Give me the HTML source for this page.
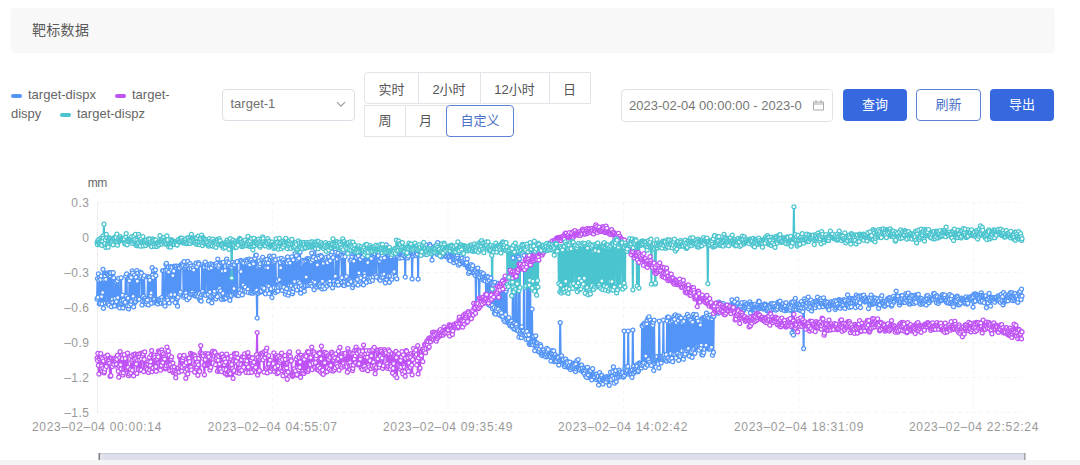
<!DOCTYPE html>
<html lang="zh-CN">
<head>
<meta charset="utf-8">
<title>靶标数据</title>
<style>
*{box-sizing:border-box;margin:0;padding:0}
html,body{width:1080px;height:465px;overflow:hidden;background:#fff}
body{position:relative;font-family:"Liberation Sans","Noto Sans CJK SC",sans-serif;color:#606266}
.abs{position:absolute}
.hdr{left:11px;top:8px;width:1044px;height:45px;background:#f8f8f8;border-radius:4px}
.hdr span{position:absolute;left:21px;top:12px;font-size:14px;line-height:20px;color:#5a5a5a;letter-spacing:0.3px}
.lg{font-size:13px;line-height:19px;color:#666;white-space:nowrap}
.dash{width:11px;height:4px;border-radius:2px}
.sel{left:222px;top:89px;width:133px;height:32px;border:1px solid #dcdfe6;border-radius:4px;background:#fff}
.sel span{position:absolute;left:7.5px;top:5px;font-size:13px;line-height:18px;color:#707070}
.rb{height:32px;border:1px solid #e2e4e9;background:transparent;font-size:13px;color:#555;text-align:center;line-height:30px;white-space:nowrap}
.r1{padding-top:2px}
.on{border-color:#5b84d6;color:#4a72c8;border-radius:4px;z-index:2}
.dp{left:621px;top:89px;width:212px;height:33px;border:1px solid #e0e2e7;border-radius:4px;background:#fff;overflow:hidden}
.dp span{position:absolute;left:7px;top:7px;font-size:13px;line-height:18px;color:#767676;white-space:nowrap}
.btn{top:89px;width:64px;height:32px;border-radius:4px;font-size:13px;text-align:center;line-height:32px}
.pri{background:#3669df;color:#fff}
.pln{background:#fff;border:1px solid #5b82d6;color:#4a72c8;line-height:30px}
.ax{font-size:12px;fill:#999;font-family:"Liberation Sans",sans-serif}
</style>
</head>
<body>
<div class="abs hdr"><span>靶标数据</span></div>

<div class="abs dash" style="left:11px;top:94px;background:#5394f7"></div>
<div class="abs lg" style="left:28px;top:85px">target-dispx</div>
<div class="abs dash" style="left:115px;top:94px;background:#bf52f5"></div>
<div class="abs lg" style="left:132px;top:85px">target-</div>
<div class="abs lg" style="left:11px;top:104px">dispy</div>
<div class="abs dash" style="left:60px;top:113px;background:#4ac4ce"></div>
<div class="abs lg" style="left:77px;top:104px">target-dispz</div>

<div class="abs sel"><span>target-1</span>
<svg class="abs" style="left:113px;top:11.3px" width="10" height="7" viewBox="0 0 10 7"><path d="M1 1.2 L5 5.2 L9 1.2" fill="none" stroke="#999" stroke-width="1.2"/></svg>
</div>

<div class="abs rb r1" style="left:364px;top:72px;width:55px;border-radius:4px 0 0 4px">实时</div>
<div class="abs rb r1" style="left:418px;top:72px;width:63px;border-left:none">2小时</div>
<div class="abs rb r1" style="left:480px;top:72px;width:70px;border-left:none">12小时</div>
<div class="abs rb r1" style="left:549px;top:72px;width:42px;border-left:none">日</div>
<div class="abs rb" style="left:364px;top:105px;width:42px">周</div>
<div class="abs rb" style="left:405px;top:105px;width:42px;border-left:none">月</div>
<div class="abs rb on" style="left:446px;top:105px;width:68px">自定义</div>

<div class="abs dp"><span>2023-02-04 00:00:00 - 2023-02-04 23:59:59</span>
<div class="abs" style="left:180px;top:0;width:30px;height:31px;background:#fff"></div>
<svg class="abs" style="left:190px;top:9px" width="13" height="13" viewBox="0 0 13 13"><path d="M1.5 3 H11.5 V11 H1.5 Z M1.5 5 H11.5 M4 1 V4 M9 1 V4" fill="none" stroke="#aaa" stroke-width="1"/></svg>
</div>

<div class="abs btn pri" style="left:843px">查询</div>
<div class="abs btn pln" style="left:916px;width:65px">刷新</div>
<div class="abs btn pri" style="left:990px">导出</div>

<svg class="abs" style="left:0;top:0" width="1080" height="465" viewBox="0 0 1080 465">
<g stroke="#f5f5f6" stroke-width="1" stroke-dasharray="4 3" fill="none">
<path d="M97 202.5H1022M97 237.5H1022M97 272.5H1022M97 307.5H1022M97 342.5H1022M97 377.5H1022M97 412.5H1022"/>
<path d="M272.5 202V412M448 202V412M623.5 202V412M798.5 202V412M973.5 202V412"/>
</g>
<path d="M97.5 202V413" stroke="#efeff1" stroke-width="1"/>
<text class="ax" x="87.8" y="187.3" style="fill:#666;font-size:12px;letter-spacing:-0.6px">mm</text>
<g class="ax" text-anchor="end" style="letter-spacing:0.5px">
<text x="89.5" y="206.8">0.3</text>
<text x="89.5" y="241.8">0</text>
<text x="89.5" y="276.8">–0.3</text>
<text x="89.5" y="311.8">–0.6</text>
<text x="89.5" y="346.8">–0.9</text>
<text x="89.5" y="381.8">–1.2</text>
<text x="89.5" y="416.8">–1.5</text>
</g>
<g class="ax" text-anchor="middle" style="letter-spacing:0.7px">
<text x="97" y="430.5">2023–02–04 00:00:14</text>
<text x="272.7" y="430.5">2023–02–04 04:55:07</text>
<text x="448" y="430.5">2023–02–04 09:35:49</text>
<text x="623" y="430.5">2023–02–04 14:02:42</text>
<text x="799" y="430.5">2023–02–04 18:31:09</text>
<text x="974" y="430.5">2023–02–04 22:52:24</text>
</g>
<defs><marker id="m0" markerUnits="userSpaceOnUse" markerWidth="8" markerHeight="8" refX="4" refY="4" overflow="visible"><circle cx="4" cy="4" r="2.0" fill="#fff" stroke="#5394f7" stroke-width="1.25"/></marker><marker id="m1" markerUnits="userSpaceOnUse" markerWidth="8" markerHeight="8" refX="4" refY="4" overflow="visible"><circle cx="4" cy="4" r="2.0" fill="#fff" stroke="#bf52f5" stroke-width="1.25"/></marker><marker id="m2" markerUnits="userSpaceOnUse" markerWidth="8" markerHeight="8" refX="4" refY="4" overflow="visible"><circle cx="4" cy="4" r="2.0" fill="#fff" stroke="#4ac4ce" stroke-width="1.25"/></marker></defs><polyline fill="none" stroke="#5394f7" stroke-width="2" stroke-linejoin="bevel" points="97.0,299.1 97.5,278.7 97.9,297.4 98.4,273.8 98.9,280.3 99.3,303.9 99.8,277.0 100.2,303.5 100.7,279.6 101.2,276.0 101.6,296.5 102.1,303.8 102.6,292.6 103.0,269.4 103.5,308.3 103.9,279.5 104.4,274.6 104.9,275.9 105.3,303.1 105.8,279.4 106.3,273.5 106.7,273.2 107.2,274.0 107.6,303.2 108.1,303.6 108.6,274.7 109.0,305.2 109.5,272.7 110.0,275.8 110.4,273.7 110.9,272.7 111.3,306.7 111.8,301.5 112.3,299.1 112.7,302.6 113.2,272.7 113.7,277.9 114.1,305.3 114.6,305.9 115.0,298.8 115.5,301.9 116.0,281.9 116.4,301.6 116.9,280.0 117.4,280.9 117.8,297.6 118.3,306.3 118.7,278.3 119.2,305.1 119.7,307.9 120.1,303.7 120.6,302.4 121.1,277.8 121.5,300.9 122.0,303.7 122.5,295.2 122.9,307.9 123.4,300.2 123.8,303.8 124.3,303.0 124.8,302.3 125.2,302.3 125.7,276.0 126.2,296.3 126.6,273.9 127.1,305.8 127.5,298.3 128.0,298.2 128.5,308.9 128.9,305.8 129.4,280.8 129.9,275.6 130.3,276.5 130.8,304.2 131.2,277.5 131.7,301.3 132.2,270.8 132.6,273.2 133.1,296.4 133.6,306.8 134.0,300.1 134.5,275.0 134.9,302.4 135.4,301.4 135.9,277.2 136.3,299.2 136.8,270.5 137.3,281.2 137.7,273.1 138.2,299.6 138.6,298.5 139.1,299.3 139.6,275.5 140.0,277.8 140.5,272.0 141.0,276.3 141.4,273.2 141.9,305.0 142.3,296.8 142.8,301.3 143.3,277.6 143.7,296.3 144.2,275.7 144.7,301.3 145.1,298.1 145.6,300.1 146.0,304.1 146.5,301.6 147.0,299.3 147.4,300.0 147.9,276.7 148.4,304.9 148.8,277.8 149.3,277.6 149.8,280.2 150.2,295.4 150.7,295.7 151.1,292.9 151.6,303.3 152.1,267.7 152.5,275.0 153.0,277.5 153.5,270.6 153.9,298.1 154.4,299.4 154.8,302.7 155.3,269.9 155.8,275.5 156.2,302.3 156.7,300.6 157.2,300.6 157.6,303.9 158.1,300.8 158.5,300.0 159.0,299.1 159.5,302.0 159.9,299.2 160.4,302.0 160.9,300.2 161.3,303.3 161.8,297.5 162.2,300.0 162.7,270.7 163.2,270.6 163.6,303.4 164.1,300.9 164.6,302.6 165.0,306.0 165.5,270.7 165.9,264.6 166.4,263.3 166.9,270.1 167.3,298.0 167.8,300.2 168.3,267.3 168.7,272.0 169.2,303.1 169.6,295.3 170.1,268.6 170.6,266.7 171.0,294.6 171.5,269.7 172.0,267.2 172.4,300.2 172.9,275.5 173.4,271.8 173.8,271.0 174.3,266.2 174.7,294.6 175.2,302.6 175.7,266.4 176.1,267.5 176.6,266.1 177.1,298.6 177.5,306.2 178.0,297.2 178.4,266.3 178.9,267.9 179.4,268.1 179.8,294.1 180.3,292.1 180.8,265.2 181.2,266.4 181.7,264.5 182.1,263.8 182.6,264.0 183.1,265.7 183.5,297.2 184.0,261.6 184.5,295.7 184.9,267.9 185.4,266.4 185.8,292.9 186.3,296.1 186.8,266.6 187.2,299.7 187.7,261.4 188.2,268.8 188.6,265.1 189.1,297.7 189.5,268.7 190.0,263.7 190.5,294.2 190.9,266.1 191.4,268.7 191.9,294.9 192.3,292.0 192.8,294.3 193.2,267.5 193.7,270.0 194.2,294.8 194.6,265.1 195.1,295.8 195.6,295.9 196.0,263.1 196.5,294.8 196.9,266.7 197.4,296.5 197.9,296.1 198.3,262.7 198.8,264.2 199.3,293.6 199.7,299.3 200.2,300.6 200.7,296.9 201.1,301.0 201.6,294.8 202.0,264.8 202.5,291.4 203.0,266.4 203.4,294.1 203.9,265.9 204.4,267.2 204.8,294.7 205.3,262.0 205.7,295.3 206.2,265.3 206.7,265.6 207.1,267.6 207.6,264.7 208.1,294.4 208.5,300.9 209.0,268.8 209.4,265.0 209.9,292.0 210.4,263.9 210.8,296.3 211.3,267.9 211.8,302.8 212.2,264.4 212.7,295.4 213.1,293.7 213.6,265.4 214.1,293.6 214.5,291.3 215.0,298.1 215.5,265.4 215.9,298.9 216.4,263.4 216.8,265.8 217.3,296.7 217.8,259.0 218.2,290.2 218.7,267.2 219.2,265.2 219.6,288.4 220.1,292.0 220.5,290.9 221.0,263.2 221.5,299.3 221.9,262.9 222.4,271.1 222.9,293.4 223.3,262.3 223.8,299.2 224.3,297.2 224.7,298.6 225.2,270.7 225.6,297.5 226.1,298.0 226.6,259.0 227.0,261.8 227.5,295.3 228.0,265.1 228.4,296.2 228.9,262.9 229.3,297.4 229.8,300.3 230.3,266.2 230.7,296.4 231.2,295.3 231.7,267.2 232.1,264.9 232.6,262.6 233.0,264.8 233.5,293.8 234.0,288.5 234.4,264.8 234.9,293.5 235.4,294.0 235.8,262.3 236.3,294.8 236.7,295.3 237.2,261.7 237.7,294.2 238.1,295.6 238.6,295.5 239.1,290.0 239.5,289.6 240.0,293.0 240.4,260.4 240.9,271.6 241.4,261.0 241.8,290.1 242.3,294.8 242.8,262.0 243.2,284.9 243.7,263.0 244.1,289.3 244.6,290.7 245.1,287.1 245.5,260.4 246.0,291.7 246.5,262.9 246.9,259.6 247.4,260.8 247.9,289.3 248.3,292.5 248.8,262.5 249.2,259.0 249.7,264.9 250.2,260.6 250.6,293.0 251.1,259.9 251.6,292.6 252.0,262.3 252.5,262.8 252.9,293.2 253.4,263.9 253.9,292.0 254.3,291.9 254.8,258.4 255.3,291.1 255.7,255.4 256.2,255.2 256.6,290.1 257.1,318.0 257.6,266.9 258.0,293.2 258.5,265.6 259.0,261.1 259.4,292.3 259.9,265.7 260.3,263.7 260.8,291.9 261.3,291.1 261.7,259.0 262.2,287.7 262.7,257.3 263.1,263.1 263.6,289.6 264.0,288.3 264.5,262.9 265.0,259.9 265.4,293.8 265.9,267.7 266.4,263.0 266.8,259.4 267.3,285.3 267.7,267.9 268.2,262.9 268.7,286.2 269.1,293.5 269.6,256.1 270.1,259.9 270.5,289.1 271.0,288.7 271.4,257.6 271.9,297.5 272.4,259.9 272.8,262.3 273.3,261.2 273.8,256.0 274.2,287.7 274.7,261.6 275.2,292.5 275.6,259.8 276.1,290.5 276.5,288.2 277.0,291.2 277.5,281.1 277.9,291.1 278.4,287.1 278.9,258.8 279.3,279.7 279.8,285.5 280.2,262.5 280.7,267.8 281.2,286.5 281.6,258.3 282.1,290.4 282.6,261.3 283.0,286.7 283.5,259.8 283.9,287.3 284.4,262.2 284.9,262.7 285.3,294.2 285.8,291.4 286.3,262.2 286.7,288.8 287.2,263.0 287.6,256.8 288.1,295.2 288.6,260.8 289.0,292.7 289.5,285.4 290.0,263.1 290.4,289.3 290.9,287.3 291.3,285.7 291.8,256.8 292.3,293.7 292.7,291.7 293.2,259.9 293.7,288.3 294.1,285.2 294.6,281.5 295.0,253.7 295.5,285.4 296.0,286.9 296.4,255.5 296.9,289.9 297.4,260.9 297.8,259.7 298.3,281.4 298.8,258.4 299.2,287.0 299.7,282.9 300.1,252.0 300.6,293.2 301.1,288.9 301.5,285.5 302.0,264.0 302.5,262.4 302.9,260.3 303.4,287.3 303.8,261.3 304.3,291.3 304.8,286.7 305.2,285.6 305.7,260.6 306.2,277.0 306.6,259.0 307.1,284.8 307.5,258.6 308.0,285.4 308.5,259.7 308.9,259.0 309.4,258.8 309.9,285.4 310.3,260.0 310.8,284.0 311.2,261.7 311.7,253.1 312.2,286.2 312.6,259.9 313.1,281.2 313.6,257.1 314.0,289.7 314.5,284.8 314.9,282.3 315.4,248.8 315.9,286.2 316.3,258.7 316.8,287.0 317.3,264.9 317.7,284.9 318.2,285.3 318.6,256.1 319.1,258.0 319.6,284.6 320.0,287.1 320.5,286.4 321.0,255.7 321.4,256.6 321.9,288.9 322.4,281.2 322.8,286.7 323.3,263.3 323.7,260.1 324.2,258.8 324.7,288.5 325.1,259.1 325.6,283.9 326.1,257.3 326.5,261.6 327.0,286.1 327.4,262.8 327.9,282.5 328.4,256.9 328.8,256.5 329.3,284.4 329.8,281.1 330.2,260.8 330.7,284.4 331.1,254.6 331.6,248.2 332.1,251.9 332.5,287.8 333.0,257.5 333.5,283.5 333.9,281.5 334.4,284.2 334.8,276.5 335.3,276.2 335.8,252.3 336.2,282.9 336.7,284.9 337.2,259.0 337.6,282.1 338.1,253.4 338.5,285.0 339.0,256.5 339.5,257.3 339.9,257.2 340.4,255.9 340.9,255.0 341.3,255.4 341.8,277.7 342.2,282.7 342.7,256.7 343.2,285.2 343.6,251.4 344.1,285.6 344.6,281.4 345.0,256.7 345.5,278.9 345.9,278.8 346.4,276.5 346.9,284.3 347.3,280.6 347.8,283.6 348.3,283.9 348.7,279.5 349.2,280.3 349.7,279.9 350.1,260.3 350.6,281.4 351.0,281.5 351.5,259.2 352.0,256.6 352.4,287.6 352.9,253.8 353.4,284.9 353.8,261.2 354.3,253.0 354.7,283.5 355.2,281.6 355.7,283.5 356.1,252.7 356.6,257.3 357.1,253.3 357.5,279.4 358.0,285.1 358.4,255.9 358.9,272.9 359.4,251.8 359.8,276.5 360.3,259.4 360.8,277.9 361.2,251.1 361.7,283.9 362.1,256.8 362.6,257.1 363.1,253.4 363.5,284.8 364.0,279.6 364.5,273.5 364.9,276.2 365.4,253.1 365.8,255.2 366.3,282.4 366.8,253.3 367.2,277.8 367.7,262.6 368.2,255.8 368.6,278.0 369.1,279.8 369.5,251.4 370.0,281.4 370.5,258.5 370.9,277.6 371.4,258.5 371.9,254.3 372.3,280.4 372.8,252.8 373.3,276.7 373.7,250.3 374.2,255.8 374.6,254.1 375.1,254.2 375.6,275.5 376.0,251.2 376.5,277.1 377.0,256.3 377.4,255.8 377.9,252.6 378.3,255.7 378.8,260.3 379.3,279.3 379.7,261.1 380.2,280.3 380.7,258.8 381.1,277.1 381.6,258.2 382.0,274.8 382.5,255.2 383.0,277.6 383.4,247.9 383.9,274.1 384.4,257.9 384.8,280.2 385.3,282.8 385.7,279.1 386.2,244.8 386.7,279.3 387.1,276.5 387.6,276.7 388.1,252.5 388.5,275.8 389.0,250.8 389.4,282.3 389.9,255.2 390.4,276.0 390.8,252.4 391.3,256.8 391.8,279.3 392.2,254.2 392.7,274.0 393.1,276.5 393.6,249.9 394.1,271.6 394.5,256.3 395.0,252.3 395.5,276.4 395.9,250.2 396.4,255.7 396.8,278.8 397.3,255.1 397.8,256.1 398.2,248.9 398.7,253.7 399.2,253.8 399.6,258.1 400.1,253.0 400.6,249.7 401.0,252.6 401.5,251.3 401.9,257.7 402.4,255.0 402.9,253.8 403.3,253.2 403.8,255.5 404.3,250.9 404.7,249.4 405.2,277.0 405.6,256.4 406.1,254.1 406.6,254.5 407.0,252.4 407.5,257.9 408.0,248.8 408.4,256.2 408.9,249.2 409.3,250.5 409.8,247.8 410.3,252.2 410.7,250.9 411.2,253.3 411.7,249.8 412.1,278.9 412.6,253.6 413.0,256.0 413.5,254.1 414.0,251.4 414.4,252.9 414.9,245.7 415.4,250.3 415.8,255.3 416.3,252.9 416.7,248.3 417.2,254.1 417.7,250.7 418.1,279.1 418.6,246.3 419.1,249.2 419.5,252.1 420.0,252.0 420.4,252.8 420.9,250.8 421.4,250.2 421.8,252.5 422.3,253.8 422.8,245.7 423.2,249.7 423.7,250.1 424.2,251.3 424.6,254.2 425.1,246.2 425.5,252.5 426.0,244.8 426.5,248.1 426.9,248.9 427.4,249.7 427.9,248.5 428.3,248.8 428.8,249.4 429.2,249.6 429.7,244.3 430.2,245.8 430.6,249.0 431.1,252.3 431.6,253.9 432.0,260.1 432.5,250.8 432.9,247.7 433.4,251.0 433.9,252.7 434.3,250.8 434.8,246.7 435.3,250.0 435.7,250.2 436.2,245.5 436.6,246.2 437.1,254.3 437.6,242.7 438.0,250.8 438.5,249.3 439.0,254.9 439.4,252.2 439.9,247.2 440.3,254.4 440.8,248.2 441.3,256.8 441.7,255.7 442.2,249.8 442.7,252.6 443.1,250.6 443.6,246.9 444.0,253.6 444.5,251.4 445.0,252.8 445.4,255.4 445.9,256.7 446.4,255.9 446.8,252.8 447.3,253.6 447.8,254.8 448.2,253.5 448.7,253.5 449.1,260.0 449.6,256.2 450.1,260.7 450.5,253.0 451.0,255.5 451.5,254.6 451.9,255.0 452.4,255.6 452.8,256.3 453.3,255.7 453.8,262.6 454.2,259.5 454.7,255.6 455.2,256.5 455.6,260.6 456.1,260.3 456.5,257.1 457.0,261.9 457.5,255.2 457.9,258.3 458.4,265.2 458.9,252.6 459.3,260.0 459.8,263.8 460.2,260.7 460.7,259.1 461.2,259.1 461.6,255.8 462.1,258.3 462.6,262.8 463.0,261.2 463.5,263.1 463.9,263.0 464.4,264.6 464.9,259.1 465.3,263.4 465.8,263.6 466.3,263.9 466.7,262.5 467.2,258.9 467.6,267.6 468.1,268.4 468.6,273.3 469.0,268.7 469.5,271.7 470.0,268.9 470.4,266.3 470.9,269.2 471.3,264.5 471.8,269.0 472.3,268.2 472.7,265.7 473.2,272.8 473.7,272.8 474.1,271.2 474.6,272.5 475.1,275.3 475.5,270.4 476.0,303.0 476.4,268.6 476.9,273.8 477.4,272.8 477.8,268.0 478.3,276.7 478.8,273.7 479.2,303.0 479.7,277.1 480.1,272.8 480.6,274.7 481.1,272.5 481.5,272.5 482.0,274.5 482.5,277.2 482.9,280.1 483.4,273.7 483.8,278.8 484.3,277.1 484.8,276.7 485.2,281.0 485.7,277.0 486.2,303.0 486.6,277.7 487.1,276.3 487.5,281.6 488.0,301.0 488.5,277.0 488.9,304.9 489.4,280.6 489.9,305.4 490.3,301.6 490.8,278.1 491.2,282.9 491.7,283.1 492.2,305.4 492.6,308.9 493.1,282.9 493.6,285.1 494.0,307.6 494.5,313.4 494.9,282.4 495.4,314.1 495.9,285.8 496.3,308.7 496.8,310.8 497.3,284.8 497.7,286.8 498.2,309.2 498.7,283.4 499.1,314.9 499.6,286.2 500.0,311.5 500.5,283.2 501.0,316.0 501.4,312.8 501.9,316.3 502.4,288.4 502.8,316.5 503.3,279.9 503.7,320.2 504.2,289.8 504.7,321.6 505.1,289.5 505.6,314.6 506.1,291.2 506.5,288.7 507.0,322.4 507.4,319.9 507.9,320.1 508.4,322.1 508.8,317.5 509.3,322.0 509.8,325.6 510.2,322.8 510.7,323.5 511.1,325.8 511.6,321.2 512.1,327.2 512.5,326.0 513.0,257.9 513.5,323.2 513.9,329.2 514.4,323.3 514.8,328.7 515.3,325.4 515.8,252.5 516.2,324.4 516.7,327.6 517.2,330.6 517.6,329.1 518.1,330.7 518.5,257.0 519.0,337.2 519.5,258.8 519.9,333.6 520.4,331.3 520.9,333.9 521.3,337.6 521.8,326.8 522.3,330.9 522.7,334.7 523.2,332.7 523.6,331.0 524.1,255.4 524.6,334.5 525.0,335.2 525.5,332.5 526.0,339.3 526.4,335.0 526.9,331.3 527.3,254.0 527.8,253.3 528.3,339.0 528.7,334.8 529.2,343.8 529.7,344.4 530.1,251.5 530.6,344.0 531.0,342.8 531.5,341.9 532.0,309.0 532.4,342.6 532.9,344.9 533.4,336.6 533.8,336.4 534.3,342.1 534.7,350.6 535.2,344.3 535.7,335.8 536.1,342.8 536.6,342.9 537.1,347.8 537.5,343.5 538.0,345.8 538.4,351.7 538.9,351.3 539.4,349.1 539.8,345.3 540.3,344.6 540.8,346.3 541.2,354.6 541.7,351.3 542.1,355.6 542.6,353.2 543.1,351.3 543.5,349.9 544.0,355.6 544.5,352.1 544.9,354.8 545.4,353.6 545.8,356.9 546.3,353.9 546.8,348.3 547.2,351.9 547.7,356.3 548.2,349.5 548.6,353.8 549.1,355.9 549.6,354.1 550.0,354.4 550.5,356.3 550.9,361.1 551.4,353.3 551.9,354.9 552.3,350.6 552.8,354.1 553.3,356.0 553.7,350.8 554.2,361.6 554.6,355.9 555.1,354.7 555.6,361.5 556.0,356.8 556.5,361.0 557.0,357.3 557.4,358.6 557.9,356.6 558.3,357.6 558.8,365.1 559.3,361.3 559.7,360.5 560.2,322.6 560.7,359.7 561.1,358.1 561.6,355.8 562.0,359.1 562.5,360.0 563.0,359.6 563.4,359.5 563.9,364.2 564.4,366.7 564.8,364.1 565.3,365.1 565.7,359.2 566.2,363.2 566.7,363.4 567.1,361.4 567.6,362.5 568.1,367.2 568.5,367.6 569.0,367.0 569.4,365.5 569.9,362.0 570.4,369.6 570.8,367.3 571.3,366.5 571.8,367.8 572.2,366.1 572.7,364.4 573.2,363.2 573.6,364.4 574.1,369.3 574.5,365.2 575.0,370.3 575.5,371.6 575.9,364.2 576.4,368.9 576.9,360.7 577.3,367.5 577.8,367.1 578.2,359.6 578.7,366.6 579.2,367.4 579.6,370.0 580.1,366.7 580.6,368.7 581.0,365.2 581.5,365.1 581.9,371.2 582.4,368.2 582.9,371.0 583.3,370.7 583.8,372.6 584.3,373.7 584.7,367.8 585.2,370.4 585.6,376.0 586.1,368.4 586.6,377.4 587.0,369.1 587.5,367.3 588.0,373.6 588.4,375.1 588.9,370.9 589.3,371.8 589.8,370.4 590.3,377.8 590.7,370.6 591.2,377.4 591.7,379.8 592.1,376.4 592.6,368.7 593.0,375.9 593.5,375.3 594.0,374.0 594.4,376.8 594.9,374.4 595.4,374.4 595.8,374.5 596.3,379.7 596.7,374.3 597.2,378.4 597.7,376.1 598.1,376.2 598.6,385.0 599.1,379.6 599.5,372.5 600.0,379.5 600.5,376.4 600.9,376.4 601.4,375.2 601.8,375.5 602.3,379.6 602.8,384.0 603.2,378.8 603.7,377.7 604.2,378.7 604.6,380.0 605.1,380.5 605.5,377.9 606.0,381.9 606.5,376.7 606.9,378.6 607.4,379.3 607.9,377.2 608.3,377.0 608.8,378.3 609.2,385.3 609.7,377.5 610.2,377.1 610.6,372.2 611.1,379.5 611.6,376.0 612.0,376.2 612.5,376.2 612.9,371.9 613.4,366.9 613.9,378.3 614.3,383.2 614.8,374.5 615.3,373.8 615.7,370.6 616.2,381.6 616.6,377.9 617.1,374.5 617.6,374.2 618.0,374.0 618.5,377.1 619.0,370.1 619.4,373.6 619.9,376.3 620.3,371.8 620.8,374.6 621.3,376.6 621.7,374.4 622.2,372.3 622.7,372.7 623.1,377.0 623.6,376.8 624.1,331.0 624.5,375.3 625.0,368.0 625.4,372.8 625.9,372.1 626.4,367.1 626.8,372.6 627.3,370.8 627.8,366.4 628.2,331.0 628.7,374.2 629.1,372.4 629.6,373.1 630.1,372.8 630.5,373.1 631.0,370.4 631.5,374.2 631.9,377.4 632.4,369.9 632.8,330.0 633.3,373.4 633.8,366.1 634.2,371.7 634.7,370.1 635.2,371.7 635.6,368.6 636.1,369.8 636.5,364.8 637.0,366.2 637.5,370.9 637.9,371.8 638.4,370.5 638.9,363.1 639.3,368.1 639.8,363.2 640.2,364.4 640.7,366.9 641.2,367.9 641.6,365.4 642.1,325.6 642.6,326.3 643.0,364.6 643.5,324.1 643.9,363.0 644.4,323.0 644.9,324.3 645.3,367.3 645.8,356.0 646.3,364.3 646.7,323.9 647.2,320.2 647.7,365.2 648.1,318.1 648.6,359.7 649.0,316.8 649.5,362.2 650.0,320.1 650.4,364.2 650.9,323.2 651.4,365.5 651.8,322.3 652.3,323.0 652.7,325.3 653.2,322.4 653.7,370.5 654.1,320.1 654.6,363.3 655.1,360.4 655.5,361.5 656.0,357.0 656.4,362.4 656.9,356.5 657.4,362.5 657.8,362.4 658.3,363.7 658.8,367.9 659.2,321.0 659.7,356.7 660.1,357.2 660.6,358.4 661.1,362.9 661.5,358.9 662.0,357.9 662.5,356.1 662.9,357.5 663.4,320.0 663.8,358.9 664.3,354.5 664.8,358.7 665.2,360.7 665.7,359.8 666.2,354.6 666.6,361.1 667.1,321.0 667.5,317.1 668.0,358.2 668.5,317.2 668.9,360.6 669.4,360.5 669.9,359.5 670.3,322.0 670.8,353.5 671.2,320.2 671.7,358.4 672.2,320.8 672.6,361.7 673.1,318.9 673.6,354.1 674.0,316.0 674.5,319.4 675.0,354.3 675.4,314.8 675.9,358.0 676.3,322.5 676.8,353.2 677.3,316.2 677.7,353.1 678.2,320.6 678.7,360.3 679.1,316.1 679.6,354.6 680.0,317.8 680.5,356.3 681.0,318.1 681.4,322.2 681.9,350.7 682.4,322.7 682.8,354.8 683.3,359.2 683.7,321.4 684.2,355.6 684.7,350.7 685.1,354.1 685.6,317.7 686.1,349.4 686.5,350.5 687.0,348.9 687.4,314.3 687.9,317.2 688.4,348.5 688.8,316.7 689.3,356.2 689.8,319.2 690.2,351.7 690.7,320.4 691.1,350.5 691.6,351.8 692.1,357.3 692.5,322.2 693.0,350.2 693.5,314.4 693.9,348.5 694.4,316.8 694.8,353.3 695.3,316.6 695.8,347.6 696.2,314.7 696.7,346.8 697.2,318.3 697.6,347.8 698.1,321.0 698.6,348.6 699.0,350.2 699.5,346.5 699.9,345.4 700.4,325.0 700.9,348.0 701.3,345.1 701.8,354.8 702.3,318.3 702.7,354.9 703.2,317.7 703.6,352.6 704.1,318.1 704.6,349.2 705.0,317.3 705.5,317.1 706.0,345.3 706.4,313.1 706.9,316.0 707.3,348.5 707.8,318.2 708.3,348.9 708.7,318.0 709.2,348.6 709.7,348.3 710.1,315.0 710.6,349.1 711.0,317.6 711.5,347.3 712.0,318.7 712.4,355.2 712.9,316.6 713.4,352.4 713.8,316.3 714.3,305.8 714.7,305.5 715.2,305.2 715.7,305.3 716.1,308.9 716.6,307.2 717.1,303.7 717.5,308.2 718.0,313.2 718.4,312.1 718.9,302.0 719.4,304.9 719.8,309.1 720.3,307.2 720.8,307.6 721.2,306.8 721.7,306.9 722.2,303.7 722.6,310.1 723.1,303.6 723.5,306.4 724.0,311.5 724.5,310.4 724.9,307.2 725.4,306.9 725.9,305.3 726.3,305.3 726.8,305.9 727.2,310.6 727.7,305.0 728.2,307.9 728.6,307.6 729.1,307.3 729.6,305.2 730.0,308.5 730.5,306.5 730.9,306.4 731.4,304.9 731.9,299.9 732.3,308.5 732.8,308.5 733.3,304.6 733.7,305.0 734.2,305.9 734.6,301.7 735.1,306.2 735.6,306.1 736.0,307.1 736.5,307.0 737.0,299.0 737.4,306.2 737.9,303.6 738.3,308.0 738.8,308.2 739.3,307.6 739.7,305.7 740.2,314.5 740.7,306.5 741.1,303.8 741.6,309.5 742.0,302.5 742.5,311.9 743.0,309.7 743.4,310.6 743.9,309.3 744.4,307.7 744.8,302.5 745.3,304.7 745.7,308.0 746.2,306.0 746.7,307.8 747.1,304.9 747.6,304.2 748.1,307.4 748.5,309.0 749.0,306.7 749.5,304.1 749.9,301.9 750.4,313.0 750.8,304.2 751.3,304.9 751.8,305.3 752.2,310.0 752.7,305.4 753.2,309.3 753.6,308.9 754.1,305.1 754.5,308.8 755.0,304.4 755.5,307.6 755.9,310.1 756.4,307.3 756.9,305.5 757.3,307.0 757.8,307.7 758.2,308.9 758.7,301.0 759.2,301.7 759.6,308.4 760.1,306.2 760.6,307.0 761.0,307.9 761.5,307.1 761.9,305.7 762.4,307.0 762.9,309.0 763.3,308.0 763.8,307.3 764.3,304.1 764.7,308.0 765.2,304.0 765.6,305.4 766.1,308.1 766.6,308.2 767.0,310.8 767.5,309.7 768.0,308.3 768.4,305.7 768.9,306.5 769.3,305.5 769.8,311.3 770.3,307.5 770.7,304.2 771.2,303.7 771.7,309.9 772.1,303.7 772.6,307.3 773.1,306.5 773.5,309.1 774.0,303.9 774.4,307.6 774.9,306.7 775.4,308.6 775.8,310.1 776.3,306.9 776.8,305.8 777.2,309.0 777.7,302.3 778.1,307.0 778.6,303.5 779.1,302.9 779.5,301.5 780.0,301.2 780.5,308.0 780.9,308.6 781.4,306.7 781.8,309.7 782.3,306.6 782.8,305.0 783.2,303.8 783.7,309.2 784.2,309.5 784.6,310.7 785.1,304.6 785.5,305.8 786.0,302.6 786.5,310.2 786.9,309.4 787.4,308.9 787.9,307.6 788.3,307.1 788.8,306.2 789.2,310.2 789.7,305.1 790.2,309.5 790.6,307.4 791.1,303.7 791.6,302.2 792.0,333.0 792.5,305.9 792.9,302.1 793.4,335.0 793.9,308.8 794.3,306.6 794.8,300.3 795.3,298.3 795.7,307.4 796.2,309.4 796.6,304.1 797.1,306.9 797.6,305.0 798.0,304.0 798.5,308.8 799.0,304.2 799.4,308.2 799.9,310.3 800.4,305.0 800.8,310.6 801.3,301.5 801.7,307.9 802.2,304.7 802.7,311.7 803.1,304.2 803.6,348.6 804.1,308.1 804.5,298.9 805.0,304.7 805.4,301.2 805.9,307.1 806.4,302.8 806.8,305.7 807.3,303.1 807.8,299.9 808.2,297.0 808.7,308.9 809.1,304.6 809.6,301.0 810.1,303.3 810.5,307.3 811.0,300.0 811.5,310.9 811.9,303.4 812.4,303.5 812.8,308.1 813.3,305.3 813.8,301.8 814.2,306.9 814.7,305.6 815.2,307.7 815.6,301.9 816.1,300.9 816.5,305.5 817.0,302.3 817.5,297.0 817.9,301.2 818.4,305.1 818.9,301.4 819.3,307.0 819.8,301.7 820.2,302.9 820.7,298.6 821.2,300.8 821.6,303.0 822.1,304.9 822.6,304.0 823.0,306.6 823.5,297.8 824.0,304.2 824.4,303.5 824.9,301.2 825.3,304.3 825.8,302.4 826.3,306.0 826.7,303.8 827.2,306.5 827.7,302.2 828.1,308.4 828.6,306.0 829.0,309.8 829.5,303.9 830.0,303.4 830.4,305.2 830.9,303.5 831.4,301.5 831.8,305.1 832.3,304.5 832.7,302.7 833.2,303.8 833.7,302.1 834.1,305.0 834.6,300.6 835.1,309.5 835.5,304.7 836.0,307.7 836.4,301.4 836.9,305.6 837.4,304.0 837.8,307.1 838.3,306.8 838.8,299.6 839.2,307.3 839.7,300.1 840.1,308.2 840.6,303.8 841.1,300.4 841.5,305.8 842.0,304.1 842.5,300.7 842.9,301.6 843.4,304.9 843.8,299.6 844.3,301.0 844.8,308.4 845.2,300.7 845.7,303.8 846.2,304.0 846.6,305.3 847.1,305.1 847.6,294.9 848.0,301.0 848.5,305.7 848.9,299.8 849.4,307.3 849.9,302.9 850.3,298.4 850.8,303.0 851.3,306.8 851.7,299.3 852.2,302.7 852.6,298.5 853.1,299.1 853.6,300.7 854.0,302.0 854.5,301.6 855.0,301.0 855.4,307.5 855.9,297.5 856.3,295.1 856.8,302.2 857.3,301.2 857.7,296.7 858.2,306.2 858.7,298.5 859.1,296.5 859.6,302.1 860.0,302.8 860.5,307.6 861.0,295.7 861.4,296.6 861.9,299.1 862.4,299.0 862.8,299.7 863.3,297.5 863.7,295.2 864.2,298.6 864.7,301.9 865.1,301.7 865.6,297.5 866.1,301.2 866.5,301.0 867.0,298.5 867.4,299.2 867.9,300.2 868.4,308.5 868.8,301.2 869.3,298.2 869.8,300.9 870.2,300.0 870.7,304.7 871.1,295.0 871.6,298.1 872.1,304.1 872.5,302.8 873.0,301.9 873.5,303.8 873.9,297.8 874.4,302.9 874.9,298.5 875.3,298.1 875.8,303.5 876.2,300.3 876.7,301.0 877.2,303.9 877.6,298.9 878.1,303.7 878.6,308.3 879.0,301.2 879.5,304.9 879.9,304.7 880.4,298.2 880.9,298.2 881.3,302.0 881.8,295.6 882.3,302.3 882.7,303.1 883.2,303.3 883.6,303.6 884.1,306.2 884.6,301.3 885.0,305.9 885.5,303.1 886.0,303.1 886.4,301.0 886.9,304.3 887.3,298.8 887.8,302.6 888.3,303.7 888.7,298.5 889.2,297.5 889.7,298.1 890.1,300.1 890.6,301.5 891.0,302.8 891.5,306.1 892.0,304.9 892.4,300.7 892.9,298.4 893.4,296.3 893.8,302.3 894.3,301.2 894.7,298.8 895.2,298.3 895.7,298.6 896.1,291.0 896.6,298.7 897.1,300.4 897.5,298.8 898.0,296.2 898.5,299.7 898.9,301.1 899.4,304.9 899.8,302.7 900.3,301.3 900.8,299.3 901.2,295.5 901.7,298.0 902.2,295.6 902.6,298.9 903.1,302.6 903.5,302.3 904.0,302.0 904.5,299.7 904.9,302.4 905.4,298.5 905.9,293.7 906.3,300.3 906.8,300.2 907.2,295.0 907.7,298.1 908.2,293.0 908.6,298.7 909.1,303.8 909.6,298.3 910.0,304.1 910.5,300.8 910.9,297.8 911.4,295.4 911.9,303.2 912.3,302.7 912.8,296.0 913.3,299.1 913.7,303.4 914.2,298.3 914.6,301.7 915.1,295.2 915.6,298.0 916.0,302.3 916.5,296.3 917.0,295.3 917.4,294.9 917.9,297.4 918.3,294.4 918.8,298.9 919.3,300.8 919.7,303.7 920.2,298.4 920.7,304.3 921.1,301.0 921.6,298.7 922.1,300.5 922.5,303.7 923.0,303.6 923.4,301.7 923.9,299.5 924.4,302.6 924.8,300.7 925.3,300.3 925.8,300.3 926.2,305.0 926.7,295.9 927.1,298.8 927.6,295.6 928.1,301.7 928.5,302.4 929.0,302.7 929.5,297.7 929.9,299.3 930.4,300.8 930.8,298.8 931.3,299.2 931.8,298.9 932.2,299.1 932.7,298.0 933.2,299.2 933.6,293.7 934.1,296.6 934.5,293.7 935.0,297.5 935.5,296.3 935.9,300.2 936.4,302.7 936.9,295.6 937.3,296.8 937.8,299.9 938.2,303.3 938.7,301.3 939.2,300.0 939.6,298.6 940.1,297.7 940.6,300.0 941.0,300.7 941.5,299.9 941.9,297.7 942.4,294.6 942.9,296.8 943.3,298.0 943.8,295.6 944.3,299.9 944.7,295.1 945.2,298.3 945.6,300.4 946.1,301.8 946.6,300.1 947.0,302.9 947.5,297.7 948.0,297.3 948.4,302.6 948.9,296.6 949.4,299.2 949.8,294.7 950.3,303.6 950.7,302.9 951.2,298.7 951.7,295.9 952.1,302.2 952.6,302.3 953.1,304.4 953.5,306.7 954.0,302.0 954.4,300.8 954.9,300.4 955.4,300.4 955.8,297.1 956.3,298.7 956.8,300.8 957.2,296.2 957.7,297.6 958.1,304.9 958.6,299.4 959.1,303.5 959.5,304.4 960.0,301.0 960.5,303.0 960.9,300.0 961.4,298.0 961.8,299.7 962.3,299.9 962.8,299.9 963.2,300.1 963.7,298.7 964.2,303.2 964.6,299.9 965.1,299.1 965.5,303.1 966.0,296.8 966.5,299.5 966.9,304.1 967.4,299.8 967.9,303.3 968.3,298.0 968.8,297.3 969.2,298.0 969.7,297.1 970.2,298.0 970.6,297.3 971.1,300.1 971.6,298.9 972.0,297.7 972.5,295.7 973.0,307.1 973.4,296.7 973.9,301.7 974.3,293.8 974.8,295.2 975.3,300.9 975.7,294.2 976.2,294.4 976.7,297.5 977.1,295.3 977.6,296.1 978.0,297.6 978.5,300.1 979.0,298.1 979.4,298.8 979.9,301.7 980.4,301.9 980.8,296.8 981.3,292.9 981.7,295.4 982.2,301.2 982.7,296.8 983.1,296.0 983.6,296.4 984.1,302.6 984.5,297.8 985.0,297.3 985.4,297.0 985.9,295.8 986.4,307.6 986.8,299.7 987.3,300.7 987.8,299.2 988.2,303.1 988.7,296.5 989.1,293.4 989.6,297.7 990.1,300.8 990.5,306.0 991.0,299.4 991.5,297.4 991.9,299.0 992.4,297.7 992.8,297.7 993.3,300.3 993.8,300.9 994.2,297.7 994.7,302.2 995.2,298.6 995.6,298.8 996.1,297.4 996.5,300.0 997.0,299.9 997.5,300.4 997.9,295.9 998.4,299.9 998.9,296.5 999.3,298.0 999.8,300.3 1000.3,302.3 1000.7,296.5 1001.2,294.4 1001.6,297.7 1002.1,300.8 1002.6,296.6 1003.0,304.8 1003.5,292.6 1004.0,302.3 1004.4,300.9 1004.9,300.4 1005.3,294.6 1005.8,301.1 1006.3,300.5 1006.7,300.6 1007.2,295.9 1007.7,296.3 1008.1,300.7 1008.6,297.6 1009.0,295.3 1009.5,294.3 1010.0,297.4 1010.4,292.6 1010.9,298.8 1011.4,297.4 1011.8,292.6 1012.3,298.6 1012.7,300.6 1013.2,298.0 1013.7,293.9 1014.1,295.9 1014.6,300.2 1015.1,293.6 1015.5,296.5 1016.0,300.8 1016.4,296.6 1016.9,295.6 1017.4,300.0 1017.8,302.3 1018.3,299.0 1018.8,293.9 1019.2,292.7 1019.7,296.4 1020.1,291.4 1020.6,296.6 1021.1,299.5 1021.5,289.0 1022.0,296.0"/>
<polyline fill="none" stroke="#bf52f5" stroke-width="2" stroke-linejoin="bevel" points="97.0,358.1 97.5,360.5 97.9,353.4 98.4,365.4 98.9,374.0 99.3,358.8 99.8,356.9 100.2,356.3 100.7,353.6 101.2,357.6 101.6,365.9 102.1,371.5 102.6,358.8 103.0,368.2 103.5,361.0 103.9,372.9 104.4,371.7 104.9,369.0 105.3,356.5 105.8,356.3 106.3,366.5 106.7,359.8 107.2,362.3 107.6,355.1 108.1,361.6 108.6,359.5 109.0,360.9 109.5,363.1 110.0,376.3 110.4,357.9 110.9,375.7 111.3,358.5 111.8,364.5 112.3,366.5 112.7,360.1 113.2,358.8 113.7,364.3 114.1,361.3 114.6,358.2 115.0,360.6 115.5,360.6 116.0,358.6 116.4,364.4 116.9,359.3 117.4,355.4 117.8,367.7 118.3,371.2 118.7,377.2 119.2,366.2 119.7,357.8 120.1,351.6 120.6,364.8 121.1,368.9 121.5,373.5 122.0,358.8 122.5,358.8 122.9,375.0 123.4,372.8 123.8,369.5 124.3,354.7 124.8,369.5 125.2,358.5 125.7,368.9 126.2,369.0 126.6,367.7 127.1,367.2 127.5,353.0 128.0,367.4 128.5,375.7 128.9,373.6 129.4,374.0 129.9,370.1 130.3,369.4 130.8,372.8 131.2,356.1 131.7,361.2 132.2,370.3 132.6,359.9 133.1,354.5 133.6,375.8 134.0,357.9 134.5,359.2 134.9,354.2 135.4,354.2 135.9,358.7 136.3,364.0 136.8,373.4 137.3,354.6 137.7,360.2 138.2,354.4 138.6,369.6 139.1,357.1 139.6,359.9 140.0,353.6 140.5,370.3 141.0,369.9 141.4,358.8 141.9,353.2 142.3,356.0 142.8,353.0 143.3,354.1 143.7,371.6 144.2,359.4 144.7,351.9 145.1,367.9 145.6,368.2 146.0,365.6 146.5,367.1 147.0,364.4 147.4,369.4 147.9,364.3 148.4,372.4 148.8,361.6 149.3,357.3 149.8,370.2 150.2,365.4 150.7,361.8 151.1,355.0 151.6,350.6 152.1,371.5 152.5,368.5 153.0,368.0 153.5,355.6 153.9,358.0 154.4,355.2 154.8,357.3 155.3,369.5 155.8,366.6 156.2,371.3 156.7,359.7 157.2,358.5 157.6,355.0 158.1,356.9 158.5,350.8 159.0,352.0 159.5,365.3 159.9,352.4 160.4,370.2 160.9,365.2 161.3,365.4 161.8,349.9 162.2,352.4 162.7,362.6 163.2,357.7 163.6,353.9 164.1,357.4 164.6,359.1 165.0,368.8 165.5,367.8 165.9,354.5 166.4,365.8 166.9,347.0 167.3,355.0 167.8,352.2 168.3,351.0 168.7,365.6 169.2,355.3 169.6,370.6 170.1,365.6 170.6,364.5 171.0,359.0 171.5,356.8 172.0,370.8 172.4,367.2 172.9,363.1 173.4,372.6 173.8,372.7 174.3,367.1 174.7,370.4 175.2,373.0 175.7,377.7 176.1,373.3 176.6,371.1 177.1,369.0 177.5,368.2 178.0,369.4 178.4,367.8 178.9,372.0 179.4,356.8 179.8,355.7 180.3,366.2 180.8,369.4 181.2,368.5 181.7,371.1 182.1,367.2 182.6,360.1 183.1,357.5 183.5,364.2 184.0,355.4 184.5,365.2 184.9,368.7 185.4,371.5 185.8,378.3 186.3,362.7 186.8,368.1 187.2,369.3 187.7,373.9 188.2,358.2 188.6,359.9 189.1,358.4 189.5,361.7 190.0,369.2 190.5,353.3 190.9,367.2 191.4,369.9 191.9,354.2 192.3,356.5 192.8,355.2 193.2,355.5 193.7,356.2 194.2,354.9 194.6,372.1 195.1,356.1 195.6,358.6 196.0,364.2 196.5,368.9 196.9,367.1 197.4,362.4 197.9,375.3 198.3,364.8 198.8,358.4 199.3,370.4 199.7,371.5 200.2,352.9 200.7,345.6 201.1,356.1 201.6,353.9 202.0,356.3 202.5,353.8 203.0,358.5 203.4,355.7 203.9,365.4 204.4,374.8 204.8,365.1 205.3,359.5 205.7,353.5 206.2,355.1 206.7,356.1 207.1,365.6 207.6,354.8 208.1,365.6 208.5,353.8 209.0,356.8 209.4,365.8 209.9,370.1 210.4,366.3 210.8,367.3 211.3,353.4 211.8,358.6 212.2,354.4 212.7,351.2 213.1,354.8 213.6,359.2 214.1,356.1 214.5,351.5 215.0,352.5 215.5,364.7 215.9,359.9 216.4,355.9 216.8,358.2 217.3,371.3 217.8,355.0 218.2,360.3 218.7,356.3 219.2,371.0 219.6,364.0 220.1,370.3 220.5,369.1 221.0,355.1 221.5,371.5 221.9,354.0 222.4,357.2 222.9,363.3 223.3,357.4 223.8,369.2 224.3,364.6 224.7,359.2 225.2,373.7 225.6,362.1 226.1,369.7 226.6,354.1 227.0,374.9 227.5,373.7 228.0,358.4 228.4,371.8 228.9,371.8 229.3,371.9 229.8,374.3 230.3,373.6 230.7,358.3 231.2,356.3 231.7,364.5 232.1,370.2 232.6,368.6 233.0,378.4 233.5,371.6 234.0,370.6 234.4,353.6 234.9,354.6 235.4,362.6 235.8,356.9 236.3,361.3 236.7,353.6 237.2,372.7 237.7,357.9 238.1,368.9 238.6,363.8 239.1,373.2 239.5,369.2 240.0,368.5 240.4,370.8 240.9,364.6 241.4,359.8 241.8,370.3 242.3,356.9 242.8,356.7 243.2,366.0 243.7,367.3 244.1,356.9 244.6,353.8 245.1,360.2 245.5,371.0 246.0,372.4 246.5,363.6 246.9,360.9 247.4,354.0 247.9,352.6 248.3,367.0 248.8,372.5 249.2,357.1 249.7,357.0 250.2,359.3 250.6,359.2 251.1,359.7 251.6,372.3 252.0,357.6 252.5,358.0 252.9,365.6 253.4,368.8 253.9,362.3 254.3,369.1 254.8,369.8 255.3,367.3 255.7,367.4 256.2,372.3 256.6,354.7 257.1,332.5 257.6,375.1 258.0,357.4 258.5,371.9 259.0,369.9 259.4,370.5 259.9,359.0 260.3,354.3 260.8,357.6 261.3,353.3 261.7,353.3 262.2,356.6 262.7,353.2 263.1,359.8 263.6,354.6 264.0,372.2 264.5,351.7 265.0,357.5 265.4,354.3 265.9,350.4 266.4,354.3 266.8,348.0 267.3,372.8 267.7,367.6 268.2,356.9 268.7,355.5 269.1,363.7 269.6,367.3 270.1,360.0 270.5,371.3 271.0,367.6 271.4,366.6 271.9,368.2 272.4,364.4 272.8,369.4 273.3,363.5 273.8,352.9 274.2,371.3 274.7,368.9 275.2,367.3 275.6,357.0 276.1,355.7 276.5,357.6 277.0,373.6 277.5,357.1 277.9,365.7 278.4,372.6 278.9,356.0 279.3,362.7 279.8,362.4 280.2,358.5 280.7,360.6 281.2,354.1 281.6,353.0 282.1,370.5 282.6,359.5 283.0,375.8 283.5,369.0 283.9,368.2 284.4,368.3 284.9,355.7 285.3,359.4 285.8,367.2 286.3,374.3 286.7,368.0 287.2,379.3 287.6,371.7 288.1,372.0 288.6,353.3 289.0,359.3 289.5,351.9 290.0,361.2 290.4,356.5 290.9,359.6 291.3,360.8 291.8,374.9 292.3,376.3 292.7,375.8 293.2,375.0 293.7,370.5 294.1,368.9 294.6,374.5 295.0,373.0 295.5,370.8 296.0,359.0 296.4,375.2 296.9,374.6 297.4,357.0 297.8,367.5 298.3,351.8 298.8,369.8 299.2,357.6 299.7,367.4 300.1,362.0 300.6,377.3 301.1,355.4 301.5,373.3 302.0,357.5 302.5,372.9 302.9,371.2 303.4,357.3 303.8,373.4 304.3,359.3 304.8,355.6 305.2,371.4 305.7,354.7 306.2,356.4 306.6,371.6 307.1,371.4 307.5,351.7 308.0,371.3 308.5,352.1 308.9,369.6 309.4,357.7 309.9,363.4 310.3,364.5 310.8,357.5 311.2,368.8 311.7,347.1 312.2,369.5 312.6,351.7 313.1,363.2 313.6,354.9 314.0,351.9 314.5,353.8 314.9,367.8 315.4,362.6 315.9,358.2 316.3,355.7 316.8,368.5 317.3,369.7 317.7,369.8 318.2,366.3 318.6,370.2 319.1,352.7 319.6,353.5 320.0,368.1 320.5,372.0 321.0,358.8 321.4,346.2 321.9,373.5 322.4,369.8 322.8,370.2 323.3,374.3 323.7,353.9 324.2,352.4 324.7,362.8 325.1,352.3 325.6,372.0 326.1,354.2 326.5,353.4 327.0,371.6 327.4,367.7 327.9,355.5 328.4,355.6 328.8,359.3 329.3,369.1 329.8,356.6 330.2,357.3 330.7,365.4 331.1,370.4 331.6,352.1 332.1,353.8 332.5,355.9 333.0,371.1 333.5,356.1 333.9,360.2 334.4,369.8 334.8,357.9 335.3,367.7 335.8,353.8 336.2,361.6 336.7,364.0 337.2,359.8 337.6,366.3 338.1,358.6 338.5,351.3 339.0,370.2 339.5,355.8 339.9,347.4 340.4,365.1 340.9,355.8 341.3,357.0 341.8,367.3 342.2,365.0 342.7,353.5 343.2,362.7 343.6,363.7 344.1,354.4 344.6,366.3 345.0,355.0 345.5,353.2 345.9,367.2 346.4,364.6 346.9,366.5 347.3,372.2 347.8,348.5 348.3,351.9 348.7,362.8 349.2,353.1 349.7,366.2 350.1,362.5 350.6,352.8 351.0,366.0 351.5,365.3 352.0,353.6 352.4,370.6 352.9,368.3 353.4,365.1 353.8,353.5 354.3,359.0 354.7,350.4 355.2,355.9 355.7,362.9 356.1,347.0 356.6,350.2 357.1,353.2 357.5,364.8 358.0,350.6 358.4,363.8 358.9,363.7 359.4,350.1 359.8,351.7 360.3,359.1 360.8,355.5 361.2,367.9 361.7,354.1 362.1,369.4 362.6,351.2 363.1,366.5 363.5,345.1 364.0,355.0 364.5,366.1 364.9,369.1 365.4,357.1 365.8,353.8 366.3,350.6 366.8,368.5 367.2,357.4 367.7,370.7 368.2,353.5 368.6,365.0 369.1,366.8 369.5,350.6 370.0,360.5 370.5,355.4 370.9,368.4 371.4,355.8 371.9,350.5 372.3,366.3 372.8,349.4 373.3,362.1 373.7,367.8 374.2,347.4 374.6,365.8 375.1,373.7 375.6,369.3 376.0,367.9 376.5,367.4 377.0,351.4 377.4,350.1 377.9,358.7 378.3,364.6 378.8,350.1 379.3,367.2 379.7,364.7 380.2,356.4 380.7,350.1 381.1,349.7 381.6,351.3 382.0,358.0 382.5,368.4 383.0,353.1 383.4,365.8 383.9,353.8 384.4,349.6 384.8,354.7 385.3,351.1 385.7,353.9 386.2,352.8 386.7,366.9 387.1,363.8 387.6,368.4 388.1,366.4 388.5,349.8 389.0,353.5 389.4,351.3 389.9,367.2 390.4,369.1 390.8,365.1 391.3,366.5 391.8,353.8 392.2,353.7 392.7,373.3 393.1,368.3 393.6,363.6 394.1,355.1 394.5,353.3 395.0,375.5 395.5,352.8 395.9,351.4 396.4,357.5 396.8,377.6 397.3,366.6 397.8,354.2 398.2,365.8 398.7,353.5 399.2,360.0 399.6,366.7 400.1,369.0 400.6,360.4 401.0,367.2 401.5,356.9 401.9,351.6 402.4,371.2 402.9,373.9 403.3,354.8 403.8,365.7 404.3,367.1 404.7,371.7 405.2,376.3 405.6,358.4 406.1,350.7 406.6,351.3 407.0,368.0 407.5,369.5 408.0,357.6 408.4,371.3 408.9,362.9 409.3,366.5 409.8,355.9 410.3,367.3 410.7,357.4 411.2,353.7 411.7,365.2 412.1,374.8 412.6,359.6 413.0,354.7 413.5,348.5 414.0,353.4 414.4,354.5 414.9,352.3 415.4,356.0 415.8,350.2 416.3,354.5 416.7,365.0 417.2,360.5 417.7,345.5 418.1,373.9 418.6,357.9 419.1,369.3 419.5,354.1 420.0,368.1 420.4,355.3 420.9,351.4 421.4,355.5 421.8,351.9 422.3,349.1 422.8,361.5 423.2,351.6 423.7,348.8 424.2,350.9 424.6,344.6 425.1,344.1 425.5,352.8 426.0,348.5 426.5,343.0 426.9,340.9 427.4,344.9 427.9,341.6 428.3,348.1 428.8,338.0 429.2,346.8 429.7,339.6 430.2,338.4 430.6,341.8 431.1,337.4 431.6,338.9 432.0,338.5 432.5,332.4 432.9,335.6 433.4,339.6 433.9,332.0 434.3,333.7 434.8,334.8 435.3,340.0 435.7,339.7 436.2,341.2 436.6,333.6 437.1,338.6 437.6,336.6 438.0,331.8 438.5,336.9 439.0,335.1 439.4,332.9 439.9,331.4 440.3,329.5 440.8,335.6 441.3,335.1 441.7,332.7 442.2,332.1 442.7,331.2 443.1,335.0 443.6,333.1 444.0,326.9 444.5,332.2 445.0,333.1 445.4,329.6 445.9,329.7 446.4,329.1 446.8,332.5 447.3,329.2 447.8,330.0 448.2,330.1 448.7,334.2 449.1,324.8 449.6,336.0 450.1,325.2 450.5,327.9 451.0,325.8 451.5,328.4 451.9,329.4 452.4,334.4 452.8,330.8 453.3,324.9 453.8,327.3 454.2,326.8 454.7,324.2 455.2,327.7 455.6,326.4 456.1,324.0 456.5,323.0 457.0,327.0 457.5,324.2 457.9,327.9 458.4,326.6 458.9,320.1 459.3,317.2 459.8,323.4 460.2,321.0 460.7,319.6 461.2,320.3 461.6,326.5 462.1,321.2 462.6,327.1 463.0,323.3 463.5,315.3 463.9,321.4 464.4,324.1 464.9,313.8 465.3,314.8 465.8,317.9 466.3,316.1 466.7,322.4 467.2,314.2 467.6,321.5 468.1,311.7 468.6,312.8 469.0,316.0 469.5,316.1 470.0,314.5 470.4,318.4 470.9,318.6 471.3,318.6 471.8,311.9 472.3,314.4 472.7,310.5 473.2,315.1 473.7,303.4 474.1,308.0 474.6,308.8 475.1,307.5 475.5,313.3 476.0,303.9 476.4,305.1 476.9,303.5 477.4,306.6 477.8,303.5 478.3,308.6 478.8,308.0 479.2,298.5 479.7,297.9 480.1,306.4 480.6,304.6 481.1,298.2 481.5,302.4 482.0,298.3 482.5,304.0 482.9,297.1 483.4,298.8 483.8,301.6 484.3,299.9 484.8,302.6 485.2,300.3 485.7,294.2 486.2,299.0 486.6,294.5 487.1,301.9 487.5,301.9 488.0,300.2 488.5,303.0 488.9,298.5 489.4,300.1 489.9,298.1 490.3,297.6 490.8,297.2 491.2,295.1 491.7,299.2 492.2,290.1 492.6,288.3 493.1,290.3 493.6,297.1 494.0,291.1 494.5,289.1 494.9,288.6 495.4,292.2 495.9,290.2 496.3,293.6 496.8,288.7 497.3,292.0 497.7,286.3 498.2,290.2 498.7,297.3 499.1,287.2 499.6,287.0 500.0,290.0 500.5,283.7 501.0,284.9 501.4,284.3 501.9,286.3 502.4,281.1 502.8,289.1 503.3,284.8 503.7,284.6 504.2,283.2 504.7,283.2 505.1,276.0 505.6,286.3 506.1,279.3 506.5,284.0 507.0,280.6 507.4,280.0 507.9,281.6 508.4,284.7 508.8,278.9 509.3,277.0 509.8,279.7 510.2,270.4 510.7,274.8 511.1,273.9 511.6,275.3 512.1,271.9 512.5,278.1 513.0,274.1 513.5,275.0 513.9,274.2 514.4,272.7 514.8,271.2 515.3,276.6 515.8,274.8 516.2,276.3 516.7,270.9 517.2,271.7 517.6,271.5 518.1,269.0 518.5,269.4 519.0,264.2 519.5,265.0 519.9,265.3 520.4,264.3 520.9,268.7 521.3,268.2 521.8,268.0 522.3,265.7 522.7,269.2 523.2,268.6 523.6,267.2 524.1,264.1 524.6,269.5 525.0,260.9 525.5,259.3 526.0,259.9 526.4,267.1 526.9,263.5 527.3,261.1 527.8,255.5 528.3,261.5 528.7,258.9 529.2,255.3 529.7,264.5 530.1,261.0 530.6,264.7 531.0,260.2 531.5,261.6 532.0,257.5 532.4,261.1 532.9,257.7 533.4,260.4 533.8,258.9 534.3,254.7 534.7,257.7 535.2,257.8 535.7,254.9 536.1,256.3 536.6,259.1 537.1,259.7 537.5,255.8 538.0,248.4 538.4,257.1 538.9,260.0 539.4,253.4 539.8,251.2 540.3,253.9 540.8,253.3 541.2,254.2 541.7,251.1 542.1,255.0 542.6,253.1 543.1,249.2 543.5,252.6 544.0,250.1 544.5,251.2 544.9,250.2 545.4,249.3 545.8,249.4 546.3,247.7 546.8,246.7 547.2,247.2 547.7,246.8 548.2,247.6 548.6,246.9 549.1,243.2 549.6,247.3 550.0,245.3 550.5,246.6 550.9,245.9 551.4,244.7 551.9,244.9 552.3,240.9 552.8,245.9 553.3,246.2 553.7,243.5 554.2,241.1 554.6,242.9 555.1,240.6 555.6,243.8 556.0,239.7 556.5,238.0 557.0,238.2 557.4,238.0 557.9,240.3 558.3,238.5 558.8,238.7 559.3,237.4 559.7,240.3 560.2,237.9 560.7,238.1 561.1,240.5 561.6,238.1 562.0,236.5 562.5,237.0 563.0,239.4 563.4,237.9 563.9,235.7 564.4,239.1 564.8,234.3 565.3,233.0 565.7,235.0 566.2,233.3 566.7,236.2 567.1,236.6 567.6,235.9 568.1,235.3 568.5,234.3 569.0,237.8 569.4,232.5 569.9,237.3 570.4,236.3 570.8,235.7 571.3,236.5 571.8,232.8 572.2,237.2 572.7,236.3 573.2,237.2 573.6,231.4 574.1,235.4 574.5,234.5 575.0,230.5 575.5,233.9 575.9,234.4 576.4,232.8 576.9,234.7 577.3,234.9 577.8,233.0 578.2,233.0 578.7,234.9 579.2,231.6 579.6,234.1 580.1,235.4 580.6,232.9 581.0,233.4 581.5,232.7 581.9,234.0 582.4,229.6 582.9,229.1 583.3,230.5 583.8,230.8 584.3,233.5 584.7,234.1 585.2,232.6 585.6,233.7 586.1,230.7 586.6,230.4 587.0,228.5 587.5,233.3 588.0,232.1 588.4,231.0 588.9,228.6 589.3,229.1 589.8,231.7 590.3,230.8 590.7,232.7 591.2,231.0 591.7,229.3 592.1,228.4 592.6,230.5 593.0,233.4 593.5,233.9 594.0,229.0 594.4,231.1 594.9,228.9 595.4,230.6 595.8,224.9 596.3,228.8 596.7,226.6 597.2,232.5 597.7,229.1 598.1,230.5 598.6,229.7 599.1,227.2 599.5,230.6 600.0,231.4 600.5,229.8 600.9,230.3 601.4,231.4 601.8,230.5 602.3,229.3 602.8,226.7 603.2,228.2 603.7,228.5 604.2,231.3 604.6,232.4 605.1,230.1 605.5,232.0 606.0,226.0 606.5,230.9 606.9,228.3 607.4,232.2 607.9,232.9 608.3,232.8 608.8,232.3 609.2,233.0 609.7,234.2 610.2,230.3 610.6,234.3 611.1,231.2 611.6,229.6 612.0,233.4 612.5,234.0 612.9,233.5 613.4,232.1 613.9,234.6 614.3,233.4 614.8,238.5 615.3,235.1 615.7,235.5 616.2,234.1 616.6,236.4 617.1,238.6 617.6,234.6 618.0,235.5 618.5,233.3 619.0,237.2 619.4,240.8 619.9,236.3 620.3,238.4 620.8,238.3 621.3,239.7 621.7,239.4 622.2,240.6 622.7,239.7 623.1,242.6 623.6,244.4 624.1,244.5 624.5,240.2 625.0,246.4 625.4,245.8 625.9,247.0 626.4,243.9 626.8,244.8 627.3,247.6 627.8,250.0 628.2,245.6 628.7,248.3 629.1,249.0 629.6,248.1 630.1,250.4 630.5,248.0 631.0,254.5 631.5,245.1 631.9,252.1 632.4,249.7 632.8,251.5 633.3,249.0 633.8,242.2 634.2,257.8 634.7,255.5 635.2,254.7 635.6,253.5 636.1,255.0 636.5,253.2 637.0,255.0 637.5,259.7 637.9,253.2 638.4,252.7 638.9,262.3 639.3,254.6 639.8,257.3 640.2,256.3 640.7,259.2 641.2,259.7 641.6,258.3 642.1,254.9 642.6,255.3 643.0,259.1 643.5,265.4 643.9,253.5 644.4,259.5 644.9,261.7 645.3,258.6 645.8,261.6 646.3,260.8 646.7,264.2 647.2,267.4 647.7,261.1 648.1,263.5 648.6,264.3 649.0,263.6 649.5,263.5 650.0,256.5 650.4,264.4 650.9,260.8 651.4,263.2 651.8,266.5 652.3,267.3 652.7,264.2 653.2,264.4 653.7,265.4 654.1,263.1 654.6,272.2 655.1,273.2 655.5,267.0 656.0,273.4 656.4,270.9 656.9,265.0 657.4,272.0 657.8,271.5 658.3,270.1 658.8,265.0 659.2,268.2 659.7,262.8 660.1,270.8 660.6,270.2 661.1,267.6 661.5,267.4 662.0,276.4 662.5,267.1 662.9,275.0 663.4,273.1 663.8,277.2 664.3,267.8 664.8,273.9 665.2,278.0 665.7,273.6 666.2,269.6 666.6,268.1 667.1,272.6 667.5,278.6 668.0,280.6 668.5,276.0 668.9,279.0 669.4,279.7 669.9,278.6 670.3,274.0 670.8,279.6 671.2,274.0 671.7,278.1 672.2,280.6 672.6,281.9 673.1,278.1 673.6,282.6 674.0,284.2 674.5,282.6 675.0,279.5 675.4,281.0 675.9,280.3 676.3,280.7 676.8,283.2 677.3,284.7 677.7,281.4 678.2,284.1 678.7,282.7 679.1,282.7 679.6,279.1 680.0,284.0 680.5,282.7 681.0,284.5 681.4,287.3 681.9,286.9 682.4,287.2 682.8,283.5 683.3,280.2 683.7,284.7 684.2,286.4 684.7,287.5 685.1,291.8 685.6,288.7 686.1,292.9 686.5,287.1 687.0,285.3 687.4,292.2 687.9,286.0 688.4,284.9 688.8,288.7 689.3,292.1 689.8,295.1 690.2,291.9 690.7,295.3 691.1,292.6 691.6,287.6 692.1,289.8 692.5,288.3 693.0,293.6 693.5,287.7 693.9,290.3 694.4,292.8 694.8,299.0 695.3,298.1 695.8,295.3 696.2,297.5 696.7,296.3 697.2,306.5 697.6,292.1 698.1,291.1 698.6,291.7 699.0,293.6 699.5,297.5 699.9,302.1 700.4,297.4 700.9,297.8 701.3,297.7 701.8,299.0 702.3,295.2 702.7,300.0 703.2,298.0 703.6,299.6 704.1,300.6 704.6,300.7 705.0,302.2 705.5,298.1 706.0,302.8 706.4,296.9 706.9,295.4 707.3,301.2 707.8,303.9 708.3,304.3 708.7,303.9 709.2,306.2 709.7,298.7 710.1,302.9 710.6,304.2 711.0,302.6 711.5,306.3 712.0,307.1 712.4,306.6 712.9,305.9 713.4,313.5 713.8,306.9 714.3,306.4 714.7,309.9 715.2,311.5 715.7,303.2 716.1,303.2 716.6,310.9 717.1,310.3 717.5,309.7 718.0,306.5 718.4,309.7 718.9,303.4 719.4,304.1 719.8,312.2 720.3,304.4 720.8,308.0 721.2,311.0 721.7,310.0 722.2,305.7 722.6,307.1 723.1,310.9 723.5,307.9 724.0,314.5 724.5,309.0 724.9,314.7 725.4,309.4 725.9,313.2 726.3,310.4 726.8,309.3 727.2,305.1 727.7,310.9 728.2,309.4 728.6,310.7 729.1,308.3 729.6,306.9 730.0,306.8 730.5,310.1 730.9,313.6 731.4,310.4 731.9,308.0 732.3,308.8 732.8,308.4 733.3,307.4 733.7,311.9 734.2,311.8 734.6,312.9 735.1,319.9 735.6,317.1 736.0,319.0 736.5,314.4 737.0,315.8 737.4,312.7 737.9,309.9 738.3,310.9 738.8,315.3 739.3,317.7 739.7,323.4 740.2,316.3 740.7,312.3 741.1,315.7 741.6,318.2 742.0,313.0 742.5,315.1 743.0,317.5 743.4,316.8 743.9,318.1 744.4,317.1 744.8,316.6 745.3,321.3 745.7,320.1 746.2,318.7 746.7,320.2 747.1,318.2 747.6,318.2 748.1,320.0 748.5,319.7 749.0,326.9 749.5,320.2 749.9,321.1 750.4,325.8 750.8,317.1 751.3,320.1 751.8,323.3 752.2,320.4 752.7,318.9 753.2,316.0 753.6,318.4 754.1,316.1 754.5,321.4 755.0,319.6 755.5,316.6 755.9,320.5 756.4,313.4 756.9,314.7 757.3,319.5 757.8,317.8 758.2,313.8 758.7,314.9 759.2,316.4 759.6,315.4 760.1,318.5 760.6,317.8 761.0,319.2 761.5,318.0 761.9,319.6 762.4,317.0 762.9,319.0 763.3,319.3 763.8,320.9 764.3,319.9 764.7,317.8 765.2,318.5 765.6,322.5 766.1,317.5 766.6,318.3 767.0,322.7 767.5,320.1 768.0,320.9 768.4,316.1 768.9,316.0 769.3,319.8 769.8,325.2 770.3,313.4 770.7,314.0 771.2,320.5 771.7,319.8 772.1,316.8 772.6,322.6 773.1,320.7 773.5,318.7 774.0,320.0 774.4,319.2 774.9,321.7 775.4,319.0 775.8,317.2 776.3,318.7 776.8,322.2 777.2,324.6 777.7,319.4 778.1,318.6 778.6,322.4 779.1,325.1 779.5,320.8 780.0,326.7 780.5,319.8 780.9,326.7 781.4,324.8 781.8,318.1 782.3,324.5 782.8,322.4 783.2,322.4 783.7,320.5 784.2,322.9 784.6,320.5 785.1,323.5 785.5,326.4 786.0,327.1 786.5,326.0 786.9,325.2 787.4,323.7 787.9,322.3 788.3,319.7 788.8,325.6 789.2,321.5 789.7,323.3 790.2,318.6 790.6,324.0 791.1,326.6 791.6,322.1 792.0,325.2 792.5,322.0 792.9,322.9 793.4,320.9 793.9,314.3 794.3,323.7 794.8,324.3 795.3,324.6 795.7,328.2 796.2,326.0 796.6,324.5 797.1,321.2 797.6,331.9 798.0,319.2 798.5,322.0 799.0,321.7 799.4,326.2 799.9,323.7 800.4,324.4 800.8,317.8 801.3,321.6 801.7,326.3 802.2,321.6 802.7,319.8 803.1,324.3 803.6,322.2 804.1,324.1 804.5,325.6 805.0,321.8 805.4,324.7 805.9,329.2 806.4,324.5 806.8,324.1 807.3,323.2 807.8,326.7 808.2,327.5 808.7,323.1 809.1,326.5 809.6,331.1 810.1,321.2 810.5,329.0 811.0,328.6 811.5,321.5 811.9,321.4 812.4,324.1 812.8,330.5 813.3,324.3 813.8,326.4 814.2,326.5 814.7,325.3 815.2,331.5 815.6,326.5 816.1,321.7 816.5,326.0 817.0,327.3 817.5,322.6 817.9,326.8 818.4,324.3 818.9,322.5 819.3,323.6 819.8,328.7 820.2,325.9 820.7,321.7 821.2,329.1 821.6,325.9 822.1,318.1 822.6,323.4 823.0,319.1 823.5,324.5 824.0,335.2 824.4,333.2 824.9,327.8 825.3,324.6 825.8,323.5 826.3,324.7 826.7,327.5 827.2,330.1 827.7,326.5 828.1,330.1 828.6,325.9 829.0,320.0 829.5,327.4 830.0,329.8 830.4,328.1 830.9,329.8 831.4,323.8 831.8,325.8 832.3,326.7 832.7,328.3 833.2,328.6 833.7,329.5 834.1,325.2 834.6,323.5 835.1,325.3 835.5,326.4 836.0,325.5 836.4,324.1 836.9,329.5 837.4,329.6 837.8,329.2 838.3,328.8 838.8,328.2 839.2,325.2 839.7,325.1 840.1,326.9 840.6,320.3 841.1,326.4 841.5,319.9 842.0,331.3 842.5,327.4 842.9,323.4 843.4,325.2 843.8,323.4 844.3,330.0 844.8,329.3 845.2,326.1 845.7,323.8 846.2,327.7 846.6,327.2 847.1,326.1 847.6,325.1 848.0,321.7 848.5,322.6 848.9,324.2 849.4,321.7 849.9,323.7 850.3,332.6 850.8,327.0 851.3,329.1 851.7,324.8 852.2,331.0 852.6,327.6 853.1,329.5 853.6,330.5 854.0,329.1 854.5,333.3 855.0,324.3 855.4,325.6 855.9,327.9 856.3,326.3 856.8,328.2 857.3,333.1 857.7,325.7 858.2,327.2 858.7,324.8 859.1,324.0 859.6,320.5 860.0,328.2 860.5,331.6 861.0,327.2 861.4,330.9 861.9,323.0 862.4,326.5 862.8,326.7 863.3,328.7 863.7,326.3 864.2,327.7 864.7,330.9 865.1,322.8 865.6,325.4 866.1,327.6 866.5,323.8 867.0,327.0 867.4,320.3 867.9,322.7 868.4,325.3 868.8,320.6 869.3,332.1 869.8,331.0 870.2,329.2 870.7,327.8 871.1,328.1 871.6,324.6 872.1,324.6 872.5,318.7 873.0,327.2 873.5,324.4 873.9,318.8 874.4,322.5 874.9,326.8 875.3,321.0 875.8,324.8 876.2,319.8 876.7,324.6 877.2,325.8 877.6,318.8 878.1,324.0 878.6,327.6 879.0,325.0 879.5,330.8 879.9,329.3 880.4,329.7 880.9,322.3 881.3,323.1 881.8,327.4 882.3,328.5 882.7,325.5 883.2,326.4 883.6,324.2 884.1,325.7 884.6,328.4 885.0,331.1 885.5,328.7 886.0,329.8 886.4,327.3 886.9,328.3 887.3,329.6 887.8,323.9 888.3,329.8 888.7,329.6 889.2,331.0 889.7,329.5 890.1,325.8 890.6,326.8 891.0,328.4 891.5,320.6 892.0,326.4 892.4,327.0 892.9,327.6 893.4,326.0 893.8,325.5 894.3,327.7 894.7,326.6 895.2,332.2 895.7,328.4 896.1,328.2 896.6,330.9 897.1,327.9 897.5,328.5 898.0,332.1 898.5,330.7 898.9,327.2 899.4,324.4 899.8,326.4 900.3,330.0 900.8,323.0 901.2,326.6 901.7,326.7 902.2,322.3 902.6,330.5 903.1,326.1 903.5,322.7 904.0,324.2 904.5,328.6 904.9,331.5 905.4,328.5 905.9,329.0 906.3,327.4 906.8,332.7 907.2,331.7 907.7,322.6 908.2,327.2 908.6,328.6 909.1,326.6 909.6,328.7 910.0,329.2 910.5,324.7 910.9,330.9 911.4,327.6 911.9,330.0 912.3,327.7 912.8,326.7 913.3,330.6 913.7,327.6 914.2,331.5 914.6,328.3 915.1,333.5 915.6,324.7 916.0,327.4 916.5,324.5 917.0,323.4 917.4,327.7 917.9,322.6 918.3,326.5 918.8,330.8 919.3,328.2 919.7,325.1 920.2,326.0 920.7,329.8 921.1,332.3 921.6,326.7 922.1,327.9 922.5,328.5 923.0,326.0 923.4,327.5 923.9,327.2 924.4,330.2 924.8,324.1 925.3,325.9 925.8,326.9 926.2,324.3 926.7,325.4 927.1,326.7 927.6,322.5 928.1,325.1 928.5,323.2 929.0,325.1 929.5,324.6 929.9,325.1 930.4,328.4 930.8,330.3 931.3,328.6 931.8,323.8 932.2,327.5 932.7,322.9 933.2,328.3 933.6,329.3 934.1,325.6 934.5,326.6 935.0,329.0 935.5,329.4 935.9,325.5 936.4,325.1 936.9,322.5 937.3,326.3 937.8,325.5 938.2,327.4 938.7,329.2 939.2,323.6 939.6,325.0 940.1,326.5 940.6,323.2 941.0,327.4 941.5,326.5 941.9,329.6 942.4,330.5 942.9,330.7 943.3,328.3 943.8,329.8 944.3,330.0 944.7,332.5 945.2,323.1 945.6,328.0 946.1,326.8 946.6,329.5 947.0,331.9 947.5,329.0 948.0,328.6 948.4,325.5 948.9,328.8 949.4,328.4 949.8,324.5 950.3,330.2 950.7,326.9 951.2,321.7 951.7,327.4 952.1,329.1 952.6,328.6 953.1,327.5 953.5,327.2 954.0,329.1 954.4,328.3 954.9,321.3 955.4,324.4 955.8,326.9 956.3,327.0 956.8,329.6 957.2,330.5 957.7,328.1 958.1,326.5 958.6,332.4 959.1,324.9 959.5,326.8 960.0,333.4 960.5,329.5 960.9,329.4 961.4,328.1 961.8,331.7 962.3,336.7 962.8,328.7 963.2,327.0 963.7,331.1 964.2,334.0 964.6,328.9 965.1,324.8 965.5,328.4 966.0,325.4 966.5,330.5 966.9,326.9 967.4,329.7 967.9,328.2 968.3,330.5 968.8,322.3 969.2,328.9 969.7,328.6 970.2,328.7 970.6,323.4 971.1,331.8 971.6,326.0 972.0,329.5 972.5,326.6 973.0,327.8 973.4,327.0 973.9,323.2 974.3,325.7 974.8,331.7 975.3,324.0 975.7,327.9 976.2,322.3 976.7,330.4 977.1,322.8 977.6,323.5 978.0,326.5 978.5,328.6 979.0,322.5 979.4,326.0 979.9,327.8 980.4,325.5 980.8,323.2 981.3,326.7 981.7,329.1 982.2,332.9 982.7,329.7 983.1,320.0 983.6,329.2 984.1,328.4 984.5,326.4 985.0,327.6 985.4,329.3 985.9,325.6 986.4,322.2 986.8,325.5 987.3,328.1 987.8,324.0 988.2,324.1 988.7,322.4 989.1,328.3 989.6,323.5 990.1,326.1 990.5,324.5 991.0,330.8 991.5,329.9 991.9,333.8 992.4,325.0 992.8,323.9 993.3,327.9 993.8,322.9 994.2,325.9 994.7,329.2 995.2,327.0 995.6,329.6 996.1,325.2 996.5,326.6 997.0,327.1 997.5,330.3 997.9,331.8 998.4,332.2 998.9,329.2 999.3,327.4 999.8,328.4 1000.3,329.6 1000.7,324.8 1001.2,326.5 1001.6,324.6 1002.1,331.4 1002.6,331.1 1003.0,327.5 1003.5,332.9 1004.0,330.7 1004.4,330.1 1004.9,332.7 1005.3,332.2 1005.8,328.1 1006.3,329.4 1006.7,327.6 1007.2,333.8 1007.7,331.4 1008.1,334.9 1008.6,330.0 1009.0,328.7 1009.5,335.5 1010.0,334.7 1010.4,328.1 1010.9,335.5 1011.4,330.1 1011.8,337.4 1012.3,334.1 1012.7,330.5 1013.2,331.7 1013.7,332.5 1014.1,324.2 1014.6,335.0 1015.1,332.2 1015.5,335.6 1016.0,325.3 1016.4,335.7 1016.9,333.1 1017.4,329.7 1017.8,338.7 1018.3,335.0 1018.8,329.4 1019.2,329.9 1019.7,334.3 1020.1,338.3 1020.6,334.1 1021.1,331.5 1021.5,338.8 1022.0,331.9"/>
<polyline fill="none" stroke="#4ac4ce" stroke-width="2" stroke-linejoin="bevel" points="97.0,242.5 97.5,244.7 97.9,240.7 98.4,242.4 98.9,239.4 99.3,243.9 99.8,243.4 100.2,241.6 100.7,238.0 101.2,240.9 101.6,245.4 102.1,239.1 102.6,241.3 103.0,235.9 103.5,238.2 103.9,224.2 104.4,243.8 104.9,243.7 105.3,239.7 105.8,247.3 106.3,234.4 106.7,237.9 107.2,244.9 107.6,245.7 108.1,247.2 108.6,239.8 109.0,238.1 109.5,237.9 110.0,239.1 110.4,243.1 110.9,240.7 111.3,240.3 111.8,242.9 112.3,240.2 112.7,241.4 113.2,244.8 113.7,238.1 114.1,240.3 114.6,237.7 115.0,241.7 115.5,236.5 116.0,237.3 116.4,241.5 116.9,234.2 117.4,245.2 117.8,241.9 118.3,239.5 118.7,238.7 119.2,240.9 119.7,240.4 120.1,236.6 120.6,240.6 121.1,238.0 121.5,239.2 122.0,240.4 122.5,240.1 122.9,238.8 123.4,239.3 123.8,238.4 124.3,239.0 124.8,243.8 125.2,243.5 125.7,236.9 126.2,233.6 126.6,241.9 127.1,244.8 127.5,239.3 128.0,241.2 128.5,240.2 128.9,241.2 129.4,238.9 129.9,240.4 130.3,239.6 130.8,239.6 131.2,240.9 131.7,236.5 132.2,243.4 132.6,240.7 133.1,241.4 133.6,239.1 134.0,236.0 134.5,241.0 134.9,239.7 135.4,234.3 135.9,244.5 136.3,245.7 136.8,240.5 137.3,242.6 137.7,245.5 138.2,243.6 138.6,234.4 139.1,245.7 139.6,236.8 140.0,240.3 140.5,246.2 141.0,240.0 141.4,238.5 141.9,242.6 142.3,241.5 142.8,236.5 143.3,245.9 143.7,241.7 144.2,241.4 144.7,241.7 145.1,242.1 145.6,245.4 146.0,241.0 146.5,239.9 147.0,243.1 147.4,242.6 147.9,243.7 148.4,238.9 148.8,242.8 149.3,243.5 149.8,239.2 150.2,243.5 150.7,241.8 151.1,245.8 151.6,246.6 152.1,242.8 152.5,238.8 153.0,241.8 153.5,239.9 153.9,240.4 154.4,246.4 154.8,244.2 155.3,242.0 155.8,239.9 156.2,243.3 156.7,246.4 157.2,243.9 157.6,242.5 158.1,242.4 158.5,245.2 159.0,244.5 159.5,242.1 159.9,235.6 160.4,243.0 160.9,241.3 161.3,240.9 161.8,244.1 162.2,239.1 162.7,242.2 163.2,241.9 163.6,237.6 164.1,240.2 164.6,241.2 165.0,244.0 165.5,242.6 165.9,241.2 166.4,243.6 166.9,235.9 167.3,240.8 167.8,239.7 168.3,243.3 168.7,246.8 169.2,244.1 169.6,245.1 170.1,244.8 170.6,247.1 171.0,239.5 171.5,244.0 172.0,240.3 172.4,241.1 172.9,244.0 173.4,243.9 173.8,241.3 174.3,244.3 174.7,241.8 175.2,241.5 175.7,241.7 176.1,242.2 176.6,244.9 177.1,244.9 177.5,240.9 178.0,240.3 178.4,239.5 178.9,242.0 179.4,241.6 179.8,242.2 180.3,238.0 180.8,241.6 181.2,239.3 181.7,238.2 182.1,241.1 182.6,240.5 183.1,242.9 183.5,242.7 184.0,241.0 184.5,242.5 184.9,241.8 185.4,240.9 185.8,238.8 186.3,243.7 186.8,243.3 187.2,243.1 187.7,237.9 188.2,237.8 188.6,240.8 189.1,242.9 189.5,240.4 190.0,243.4 190.5,237.4 190.9,241.2 191.4,234.3 191.9,238.2 192.3,237.9 192.8,242.1 193.2,238.8 193.7,240.1 194.2,242.6 194.6,238.8 195.1,242.6 195.6,237.9 196.0,244.2 196.5,238.1 196.9,237.9 197.4,242.3 197.9,244.5 198.3,236.2 198.8,243.8 199.3,244.5 199.7,242.3 200.2,237.8 200.7,238.7 201.1,242.2 201.6,235.0 202.0,243.7 202.5,245.6 203.0,237.7 203.4,238.4 203.9,243.2 204.4,239.1 204.8,242.8 205.3,239.9 205.7,239.9 206.2,241.5 206.7,243.4 207.1,243.7 207.6,242.1 208.1,245.7 208.5,246.1 209.0,244.6 209.4,238.5 209.9,241.0 210.4,242.3 210.8,243.8 211.3,245.9 211.8,240.9 212.2,245.9 212.7,239.2 213.1,243.2 213.6,241.5 214.1,242.3 214.5,246.2 215.0,241.7 215.5,242.6 215.9,247.3 216.4,243.9 216.8,239.5 217.3,240.0 217.8,241.8 218.2,244.1 218.7,244.4 219.2,238.7 219.6,240.7 220.1,240.8 220.5,244.0 221.0,245.5 221.5,243.8 221.9,245.5 222.4,243.6 222.9,244.2 223.3,248.2 223.8,246.5 224.3,243.0 224.7,243.5 225.2,247.4 225.6,244.1 226.1,242.0 226.6,244.7 227.0,240.2 227.5,244.2 228.0,242.0 228.4,244.4 228.9,249.3 229.3,244.1 229.8,240.4 230.3,238.6 230.7,243.8 231.2,242.5 231.7,278.0 232.1,241.7 232.6,243.2 233.0,240.1 233.5,242.9 234.0,245.0 234.4,242.3 234.9,247.7 235.4,241.3 235.8,241.3 236.3,247.3 236.7,243.2 237.2,242.0 237.7,241.2 238.1,245.1 238.6,241.4 239.1,241.8 239.5,238.3 240.0,239.5 240.4,242.4 240.9,239.7 241.4,242.2 241.8,246.7 242.3,244.0 242.8,246.2 243.2,240.9 243.7,245.4 244.1,242.4 244.6,245.5 245.1,240.3 245.5,244.0 246.0,245.7 246.5,243.9 246.9,243.8 247.4,242.1 247.9,236.4 248.3,241.0 248.8,241.5 249.2,246.3 249.7,243.8 250.2,240.9 250.6,246.6 251.1,244.9 251.6,238.6 252.0,246.4 252.5,243.9 252.9,250.0 253.4,245.3 253.9,238.4 254.3,245.7 254.8,243.0 255.3,241.4 255.7,243.2 256.2,244.0 256.6,241.3 257.1,239.6 257.6,244.6 258.0,243.4 258.5,239.2 259.0,245.7 259.4,241.5 259.9,247.2 260.3,245.7 260.8,241.4 261.3,243.6 261.7,239.0 262.2,242.4 262.7,236.8 263.1,238.6 263.6,241.8 264.0,243.8 264.5,244.4 265.0,245.8 265.4,245.5 265.9,241.8 266.4,243.1 266.8,241.9 267.3,243.3 267.7,238.7 268.2,241.0 268.7,247.2 269.1,243.9 269.6,241.5 270.1,245.7 270.5,244.8 271.0,244.1 271.4,243.4 271.9,242.2 272.4,244.7 272.8,244.8 273.3,244.4 273.8,248.3 274.2,244.4 274.7,245.3 275.2,248.1 275.6,246.7 276.1,238.8 276.5,244.0 277.0,242.2 277.5,242.7 277.9,247.5 278.4,249.1 278.9,246.1 279.3,238.3 279.8,243.3 280.2,244.1 280.7,243.5 281.2,248.7 281.6,245.4 282.1,246.4 282.6,244.7 283.0,247.1 283.5,243.9 283.9,240.9 284.4,244.6 284.9,242.4 285.3,239.6 285.8,238.3 286.3,242.4 286.7,242.8 287.2,248.7 287.6,242.4 288.1,242.4 288.6,244.0 289.0,246.3 289.5,240.9 290.0,243.8 290.4,248.0 290.9,248.4 291.3,241.7 291.8,239.4 292.3,244.1 292.7,243.9 293.2,247.5 293.7,246.9 294.1,244.8 294.6,242.8 295.0,246.2 295.5,243.0 296.0,242.4 296.4,244.5 296.9,250.6 297.4,250.0 297.8,248.9 298.3,240.8 298.8,246.8 299.2,242.9 299.7,246.3 300.1,247.6 300.6,247.4 301.1,243.6 301.5,242.4 302.0,247.1 302.5,248.7 302.9,243.2 303.4,242.4 303.8,244.4 304.3,244.0 304.8,248.0 305.2,248.0 305.7,247.5 306.2,243.3 306.6,242.4 307.1,243.9 307.5,245.2 308.0,247.3 308.5,245.9 308.9,243.6 309.4,246.1 309.9,246.9 310.3,244.2 310.8,241.8 311.2,245.7 311.7,247.1 312.2,246.3 312.6,241.9 313.1,245.8 313.6,244.6 314.0,243.7 314.5,243.7 314.9,242.4 315.4,242.3 315.9,244.5 316.3,244.1 316.8,244.5 317.3,241.1 317.7,245.0 318.2,248.7 318.6,241.5 319.1,244.6 319.6,244.2 320.0,244.9 320.5,246.3 321.0,242.7 321.4,246.9 321.9,246.1 322.4,244.0 322.8,246.5 323.3,247.8 323.7,248.6 324.2,244.2 324.7,246.8 325.1,244.7 325.6,242.6 326.1,251.3 326.5,247.8 327.0,247.0 327.4,244.3 327.9,245.6 328.4,243.8 328.8,250.0 329.3,243.4 329.8,245.1 330.2,247.7 330.7,245.1 331.1,247.6 331.6,245.3 332.1,244.4 332.5,244.4 333.0,238.9 333.5,246.9 333.9,246.0 334.4,245.4 334.8,245.1 335.3,241.5 335.8,244.7 336.2,242.2 336.7,243.2 337.2,241.8 337.6,243.9 338.1,247.9 338.5,246.2 339.0,242.4 339.5,242.4 339.9,247.9 340.4,244.4 340.9,247.6 341.3,249.3 341.8,247.9 342.2,242.1 342.7,238.8 343.2,249.5 343.6,241.5 344.1,241.7 344.6,244.0 345.0,244.6 345.5,247.1 345.9,243.8 346.4,243.1 346.9,248.2 347.3,243.3 347.8,253.5 348.3,242.8 348.7,246.7 349.2,249.3 349.7,246.1 350.1,241.9 350.6,246.6 351.0,250.0 351.5,245.1 352.0,243.0 352.4,247.6 352.9,242.1 353.4,249.6 353.8,250.6 354.3,248.8 354.7,245.2 355.2,251.0 355.7,252.2 356.1,251.7 356.6,247.5 357.1,249.8 357.5,246.8 358.0,252.1 358.4,247.9 358.9,245.8 359.4,248.7 359.8,250.7 360.3,249.1 360.8,248.9 361.2,246.9 361.7,249.9 362.1,248.9 362.6,249.6 363.1,249.1 363.5,249.7 364.0,247.5 364.5,254.6 364.9,245.0 365.4,250.1 365.8,252.4 366.3,244.3 366.8,244.6 367.2,251.0 367.7,256.1 368.2,252.3 368.6,248.5 369.1,248.3 369.5,247.8 370.0,245.7 370.5,247.5 370.9,251.7 371.4,248.0 371.9,249.8 372.3,251.1 372.8,247.1 373.3,247.8 373.7,249.4 374.2,246.8 374.6,249.2 375.1,250.9 375.6,249.5 376.0,245.1 376.5,250.2 377.0,248.8 377.4,249.2 377.9,246.1 378.3,249.4 378.8,248.8 379.3,247.8 379.7,247.4 380.2,249.0 380.7,244.3 381.1,250.5 381.6,248.6 382.0,252.5 382.5,244.4 383.0,248.2 383.4,250.5 383.9,250.5 384.4,248.6 384.8,252.4 385.3,248.7 385.7,251.3 386.2,249.7 386.7,249.1 387.1,247.5 387.6,248.0 388.1,248.5 388.5,251.0 389.0,248.3 389.4,247.3 389.9,251.4 390.4,250.6 390.8,252.0 391.3,250.5 391.8,254.4 392.2,251.9 392.7,250.5 393.1,251.3 393.6,252.7 394.1,249.8 394.5,251.0 395.0,248.3 395.5,253.3 395.9,248.5 396.4,240.1 396.8,250.9 397.3,247.7 397.8,248.0 398.2,250.2 398.7,241.1 399.2,243.6 399.6,247.9 400.1,244.9 400.6,249.6 401.0,249.4 401.5,246.9 401.9,250.1 402.4,242.6 402.9,247.4 403.3,249.9 403.8,251.1 404.3,248.7 404.7,251.2 405.2,248.6 405.6,247.2 406.1,248.2 406.6,253.6 407.0,252.8 407.5,248.0 408.0,248.5 408.4,248.4 408.9,243.1 409.3,245.4 409.8,247.2 410.3,244.8 410.7,246.6 411.2,244.2 411.7,247.5 412.1,250.0 412.6,247.1 413.0,249.2 413.5,247.0 414.0,245.5 414.4,247.9 414.9,243.1 415.4,246.1 415.8,246.6 416.3,246.5 416.7,249.1 417.2,245.8 417.7,250.0 418.1,249.9 418.6,247.9 419.1,245.8 419.5,244.7 420.0,249.3 420.4,247.2 420.9,255.4 421.4,250.2 421.8,251.8 422.3,245.9 422.8,248.4 423.2,247.6 423.7,242.4 424.2,249.2 424.6,248.0 425.1,248.7 425.5,250.9 426.0,252.5 426.5,251.3 426.9,254.6 427.4,248.6 427.9,252.5 428.3,248.3 428.8,249.6 429.2,253.2 429.7,251.2 430.2,250.5 430.6,250.6 431.1,251.8 431.6,253.8 432.0,252.0 432.5,248.8 432.9,251.9 433.4,249.6 433.9,250.4 434.3,249.6 434.8,252.1 435.3,250.1 435.7,248.4 436.2,245.4 436.6,245.6 437.1,250.0 437.6,247.4 438.0,251.1 438.5,249.1 439.0,250.4 439.4,249.4 439.9,256.0 440.3,252.2 440.8,251.4 441.3,252.0 441.7,243.9 442.2,247.5 442.7,252.9 443.1,253.0 443.6,247.0 444.0,243.0 444.5,244.6 445.0,249.3 445.4,247.4 445.9,250.5 446.4,247.0 446.8,248.5 447.3,249.0 447.8,247.4 448.2,246.5 448.7,246.1 449.1,247.0 449.6,248.0 450.1,250.8 450.5,247.8 451.0,246.3 451.5,245.2 451.9,246.2 452.4,249.2 452.8,248.3 453.3,251.7 453.8,247.5 454.2,246.6 454.7,251.7 455.2,251.0 455.6,251.7 456.1,245.6 456.5,248.7 457.0,249.6 457.5,249.2 457.9,241.8 458.4,248.1 458.9,248.1 459.3,250.9 459.8,247.1 460.2,247.6 460.7,247.2 461.2,244.8 461.6,249.7 462.1,253.2 462.6,245.6 463.0,252.7 463.5,253.6 463.9,245.5 464.4,245.8 464.9,247.2 465.3,246.7 465.8,247.2 466.3,246.7 466.7,248.0 467.2,249.9 467.6,250.9 468.1,248.5 468.6,246.0 469.0,250.1 469.5,250.2 470.0,246.5 470.4,249.4 470.9,244.9 471.3,245.8 471.8,248.1 472.3,247.3 472.7,251.3 473.2,247.9 473.7,248.9 474.1,251.1 474.6,243.9 475.1,249.3 475.5,250.7 476.0,247.0 476.4,250.8 476.9,245.1 477.4,245.7 477.8,244.2 478.3,252.1 478.8,245.5 479.2,248.8 479.7,242.4 480.1,249.9 480.6,243.9 481.1,245.8 481.5,240.7 482.0,243.6 482.5,249.4 482.9,242.9 483.4,250.8 483.8,252.7 484.3,246.2 484.8,242.8 485.2,245.7 485.7,248.0 486.2,241.8 486.6,245.7 487.1,247.9 487.5,248.5 488.0,241.9 488.5,247.3 488.9,247.5 489.4,250.8 489.9,248.7 490.3,250.7 490.8,249.5 491.2,245.4 491.7,255.4 492.2,289.0 492.6,248.5 493.1,246.6 493.6,251.9 494.0,248.1 494.5,249.1 494.9,248.3 495.4,247.0 495.9,243.2 496.3,246.1 496.8,252.2 497.3,248.5 497.7,246.0 498.2,245.7 498.7,246.0 499.1,246.8 499.6,247.7 500.0,252.0 500.5,249.3 501.0,253.0 501.4,243.8 501.9,247.9 502.4,242.9 502.8,241.9 503.3,248.0 503.7,242.6 504.2,247.3 504.7,244.6 505.1,250.4 505.6,250.3 506.1,242.7 506.5,249.0 507.0,247.1 507.4,284.7 507.9,250.4 508.4,286.6 508.8,277.4 509.3,249.8 509.8,247.9 510.2,283.0 510.7,282.4 511.1,248.2 511.6,295.9 512.1,248.5 512.5,282.2 513.0,286.7 513.5,245.4 513.9,291.7 514.4,252.1 514.8,285.5 515.3,243.1 515.8,289.3 516.2,284.1 516.7,247.7 517.2,283.8 517.6,248.6 518.1,290.4 518.5,251.1 519.0,290.6 519.5,247.3 519.9,287.6 520.4,250.9 520.9,248.0 521.3,249.7 521.8,246.3 522.3,244.4 522.7,245.2 523.2,249.0 523.6,248.6 524.1,248.8 524.6,244.7 525.0,287.2 525.5,249.9 526.0,285.8 526.4,246.1 526.9,244.1 527.3,247.2 527.8,251.8 528.3,284.8 528.7,248.8 529.2,285.2 529.7,280.3 530.1,242.6 530.6,249.5 531.0,248.9 531.5,246.2 532.0,289.3 532.4,288.0 532.9,281.2 533.4,245.8 533.8,246.2 534.3,241.2 534.7,291.2 535.2,251.2 535.7,286.8 536.1,249.0 536.6,295.2 537.1,286.9 537.5,280.5 538.0,287.0 538.4,243.0 538.9,244.4 539.4,248.3 539.8,248.0 540.3,247.3 540.8,248.2 541.2,250.3 541.7,246.4 542.1,245.0 542.6,247.1 543.1,247.5 543.5,245.3 544.0,248.0 544.5,248.2 544.9,250.2 545.4,244.5 545.8,250.3 546.3,246.3 546.8,243.4 547.2,250.4 547.7,248.9 548.2,248.0 548.6,244.7 549.1,249.7 549.6,244.1 550.0,244.4 550.5,246.9 550.9,249.8 551.4,247.4 551.9,247.5 552.3,244.8 552.8,250.2 553.3,246.4 553.7,249.0 554.2,255.2 554.6,248.1 555.1,244.5 555.6,243.3 556.0,244.3 556.5,244.2 557.0,248.3 557.4,251.2 557.9,247.6 558.3,246.5 558.8,283.7 559.3,246.9 559.7,291.8 560.2,246.5 560.7,285.1 561.1,293.0 561.6,247.6 562.0,291.2 562.5,249.9 563.0,290.3 563.4,246.1 563.9,289.2 564.4,246.2 564.8,292.2 565.3,241.9 565.7,281.3 566.2,244.3 566.7,288.2 567.1,291.5 567.6,245.1 568.1,293.4 568.5,249.3 569.0,244.8 569.4,289.0 569.9,248.3 570.4,242.4 570.8,284.7 571.3,248.7 571.8,286.6 572.2,241.6 572.7,288.4 573.2,242.4 573.6,283.6 574.1,245.7 574.5,247.4 575.0,246.9 575.5,245.4 575.9,286.7 576.4,285.7 576.9,247.9 577.3,291.7 577.8,245.8 578.2,283.1 578.7,243.3 579.2,278.4 579.6,289.8 580.1,244.8 580.6,286.2 581.0,288.8 581.5,281.2 581.9,245.2 582.4,286.2 582.9,243.1 583.3,284.2 583.8,244.8 584.3,278.3 584.7,243.5 585.2,293.3 585.6,246.1 586.1,287.7 586.6,247.1 587.0,287.6 587.5,248.1 588.0,294.8 588.4,242.7 588.9,244.8 589.3,290.4 589.8,292.3 590.3,293.9 590.7,244.7 591.2,286.9 591.7,247.0 592.1,285.5 592.6,245.4 593.0,251.6 593.5,289.4 594.0,250.4 594.4,286.5 594.9,244.5 595.4,250.6 595.8,287.2 596.3,245.6 596.7,244.1 597.2,286.0 597.7,242.9 598.1,286.0 598.6,251.4 599.1,284.8 599.5,247.0 600.0,287.0 600.5,246.8 600.9,288.7 601.4,247.0 601.8,280.9 602.3,246.6 602.8,289.6 603.2,244.0 603.7,246.3 604.2,242.7 604.6,286.0 605.1,246.9 605.5,290.2 606.0,244.8 606.5,245.6 606.9,286.9 607.4,245.3 607.9,245.0 608.3,291.0 608.8,247.9 609.2,289.0 609.7,247.0 610.2,281.5 610.6,245.9 611.1,289.6 611.6,243.8 612.0,281.5 612.5,243.4 612.9,290.1 613.4,244.3 613.9,241.7 614.3,287.0 614.8,241.6 615.3,245.7 615.7,242.7 616.2,238.8 616.6,292.9 617.1,240.2 617.6,289.7 618.0,245.5 618.5,247.2 619.0,244.1 619.4,287.1 619.9,244.6 620.3,285.9 620.8,243.5 621.3,243.4 621.7,242.2 622.2,242.8 622.7,289.1 623.1,246.4 623.6,285.3 624.1,283.1 624.5,247.2 625.0,287.1 625.4,243.2 625.9,245.9 626.4,245.4 626.8,251.4 627.3,249.0 627.8,245.1 628.2,244.5 628.7,244.5 629.1,245.2 629.6,238.5 630.1,244.3 630.5,245.6 631.0,244.1 631.5,240.9 631.9,240.0 632.4,238.9 632.8,289.8 633.3,247.7 633.8,243.5 634.2,241.6 634.7,239.5 635.2,244.6 635.6,239.6 636.1,240.8 636.5,246.3 637.0,286.0 637.5,245.6 637.9,243.7 638.4,244.7 638.9,288.1 639.3,244.7 639.8,245.6 640.2,245.1 640.7,244.3 641.2,245.0 641.6,241.2 642.1,244.3 642.6,241.0 643.0,243.7 643.5,241.9 643.9,241.3 644.4,241.8 644.9,242.1 645.3,246.3 645.8,242.1 646.3,245.2 646.7,245.2 647.2,250.2 647.7,246.7 648.1,241.3 648.6,240.5 649.0,244.3 649.5,245.4 650.0,242.1 650.4,246.6 650.9,239.2 651.4,284.2 651.8,246.2 652.3,246.9 652.7,244.4 653.2,248.0 653.7,245.4 654.1,243.7 654.6,248.8 655.1,284.0 655.5,283.0 656.0,247.7 656.4,244.0 656.9,239.5 657.4,248.0 657.8,245.8 658.3,242.9 658.8,244.4 659.2,246.1 659.7,244.4 660.1,245.4 660.6,247.5 661.1,243.1 661.5,243.9 662.0,248.0 662.5,242.2 662.9,241.2 663.4,243.0 663.8,245.6 664.3,241.2 664.8,242.8 665.2,241.8 665.7,248.3 666.2,246.7 666.6,244.4 667.1,246.6 667.5,239.9 668.0,241.6 668.5,244.4 668.9,247.3 669.4,239.9 669.9,244.7 670.3,243.0 670.8,242.9 671.2,243.7 671.7,240.7 672.2,247.9 672.6,242.5 673.1,245.2 673.6,241.0 674.0,242.0 674.5,239.2 675.0,247.5 675.4,251.0 675.9,244.2 676.3,245.0 676.8,249.1 677.3,242.2 677.7,244.6 678.2,241.4 678.7,245.6 679.1,244.5 679.6,246.1 680.0,246.0 680.5,240.5 681.0,242.2 681.4,244.7 681.9,246.0 682.4,244.3 682.8,245.9 683.3,246.0 683.7,242.4 684.2,243.5 684.7,242.4 685.1,240.1 685.6,246.0 686.1,248.4 686.5,242.8 687.0,247.6 687.4,247.3 687.9,241.2 688.4,241.4 688.8,240.7 689.3,244.3 689.8,245.6 690.2,240.9 690.7,237.9 691.1,242.1 691.6,245.5 692.1,242.9 692.5,242.1 693.0,237.8 693.5,243.9 693.9,241.4 694.4,242.5 694.8,242.8 695.3,241.1 695.8,240.1 696.2,242.8 696.7,243.7 697.2,246.8 697.6,241.3 698.1,239.2 698.6,247.1 699.0,245.1 699.5,240.3 699.9,241.4 700.4,242.4 700.9,245.8 701.3,241.5 701.8,245.6 702.3,242.4 702.7,239.9 703.2,242.3 703.6,237.5 704.1,240.6 704.6,243.8 705.0,239.8 705.5,241.2 706.0,238.7 706.4,242.2 706.9,238.1 707.3,241.8 707.8,283.7 708.3,241.7 708.7,245.3 709.2,243.5 709.7,244.5 710.1,241.2 710.6,242.8 711.0,240.4 711.5,240.9 712.0,241.7 712.4,244.4 712.9,247.0 713.4,238.8 713.8,246.3 714.3,235.8 714.7,235.7 715.2,246.1 715.7,245.2 716.1,242.8 716.6,242.9 717.1,242.7 717.5,236.7 718.0,244.5 718.4,241.1 718.9,236.5 719.4,243.5 719.8,244.0 720.3,245.6 720.8,244.4 721.2,240.7 721.7,243.2 722.2,241.4 722.6,241.6 723.1,246.1 723.5,240.5 724.0,234.4 724.5,239.9 724.9,237.0 725.4,238.5 725.9,244.9 726.3,242.3 726.8,238.9 727.2,240.9 727.7,243.9 728.2,242.0 728.6,245.7 729.1,238.1 729.6,241.3 730.0,240.7 730.5,237.8 730.9,240.9 731.4,242.0 731.9,243.7 732.3,235.1 732.8,241.0 733.3,242.7 733.7,244.6 734.2,242.8 734.6,241.6 735.1,239.6 735.6,245.8 736.0,241.1 736.5,245.3 737.0,241.6 737.4,242.4 737.9,239.7 738.3,238.3 738.8,242.7 739.3,241.7 739.7,246.3 740.2,238.8 740.7,238.6 741.1,245.2 741.6,239.7 742.0,238.9 742.5,236.0 743.0,239.4 743.4,243.2 743.9,244.0 744.4,236.8 744.8,242.8 745.3,239.1 745.7,239.6 746.2,242.5 746.7,240.8 747.1,241.7 747.6,242.6 748.1,242.7 748.5,242.1 749.0,243.5 749.5,240.1 749.9,239.0 750.4,239.3 750.8,241.7 751.3,239.8 751.8,242.3 752.2,241.0 752.7,245.5 753.2,238.4 753.6,244.1 754.1,242.7 754.5,246.9 755.0,239.4 755.5,242.6 755.9,239.4 756.4,239.6 756.9,241.4 757.3,242.9 757.8,244.3 758.2,239.1 758.7,238.1 759.2,240.7 759.6,243.8 760.1,242.3 760.6,242.8 761.0,243.6 761.5,241.3 761.9,242.9 762.4,247.2 762.9,243.2 763.3,239.5 763.8,239.9 764.3,240.6 764.7,242.0 765.2,243.2 765.6,237.2 766.1,239.4 766.6,240.2 767.0,238.4 767.5,235.6 768.0,237.6 768.4,243.8 768.9,237.5 769.3,244.7 769.8,240.1 770.3,240.3 770.7,245.0 771.2,245.3 771.7,237.0 772.1,243.2 772.6,242.7 773.1,238.9 773.5,239.5 774.0,237.6 774.4,244.6 774.9,247.4 775.4,236.5 775.8,238.0 776.3,239.7 776.8,237.5 777.2,243.1 777.7,240.5 778.1,239.1 778.6,235.3 779.1,235.3 779.5,239.5 780.0,234.6 780.5,241.9 780.9,238.4 781.4,242.3 781.8,240.8 782.3,241.8 782.8,241.2 783.2,237.9 783.7,238.1 784.2,239.0 784.6,240.3 785.1,242.3 785.5,239.4 786.0,243.7 786.5,238.8 786.9,236.8 787.4,237.7 787.9,237.6 788.3,244.0 788.8,242.4 789.2,241.0 789.7,240.1 790.2,241.1 790.6,236.4 791.1,246.3 791.6,241.0 792.0,242.4 792.5,242.9 792.9,239.5 793.4,239.2 793.9,206.8 794.3,239.6 794.8,239.3 795.3,234.6 795.7,240.6 796.2,236.8 796.6,239.7 797.1,246.1 797.6,244.1 798.0,235.4 798.5,239.8 799.0,240.3 799.4,243.6 799.9,244.4 800.4,238.8 800.8,237.1 801.3,239.5 801.7,239.9 802.2,233.7 802.7,239.7 803.1,237.4 803.6,243.0 804.1,239.8 804.5,238.7 805.0,240.2 805.4,237.7 805.9,238.8 806.4,239.8 806.8,234.2 807.3,241.1 807.8,241.6 808.2,240.8 808.7,241.3 809.1,234.9 809.6,239.1 810.1,238.2 810.5,237.9 811.0,235.4 811.5,236.3 811.9,238.4 812.4,236.0 812.8,237.7 813.3,235.2 813.8,239.8 814.2,244.5 814.7,240.0 815.2,238.3 815.6,234.5 816.1,236.2 816.5,240.1 817.0,238.6 817.5,237.7 817.9,233.2 818.4,235.4 818.9,239.6 819.3,236.3 819.8,240.9 820.2,238.8 820.7,236.0 821.2,243.8 821.6,231.5 822.1,237.1 822.6,234.3 823.0,237.5 823.5,240.2 824.0,242.2 824.4,239.7 824.9,237.8 825.3,238.5 825.8,234.7 826.3,237.4 826.7,240.3 827.2,239.2 827.7,240.3 828.1,237.6 828.6,240.4 829.0,237.9 829.5,235.4 830.0,233.6 830.4,231.2 830.9,234.9 831.4,235.8 831.8,237.4 832.3,235.1 832.7,234.0 833.2,237.8 833.7,238.2 834.1,238.6 834.6,238.2 835.1,235.5 835.5,238.6 836.0,239.0 836.4,240.0 836.9,236.6 837.4,234.1 837.8,239.8 838.3,239.3 838.8,236.3 839.2,231.0 839.7,234.8 840.1,239.8 840.6,235.7 841.1,236.3 841.5,240.5 842.0,237.9 842.5,238.1 842.9,236.2 843.4,239.1 843.8,238.5 844.3,239.8 844.8,232.8 845.2,241.4 845.7,242.8 846.2,239.2 846.6,236.7 847.1,240.7 847.6,240.6 848.0,235.3 848.5,237.3 848.9,238.1 849.4,235.1 849.9,237.5 850.3,240.6 850.8,244.0 851.3,233.6 851.7,240.1 852.2,234.5 852.6,236.6 853.1,240.2 853.6,235.7 854.0,239.6 854.5,237.1 855.0,240.3 855.4,234.8 855.9,243.9 856.3,235.9 856.8,236.5 857.3,235.1 857.7,241.7 858.2,239.1 858.7,237.9 859.1,241.6 859.6,234.2 860.0,234.8 860.5,238.0 861.0,235.3 861.4,236.3 861.9,236.9 862.4,236.2 862.8,238.2 863.3,234.2 863.7,240.2 864.2,236.8 864.7,234.7 865.1,235.0 865.6,237.3 866.1,236.5 866.5,238.3 867.0,240.9 867.4,236.9 867.9,232.7 868.4,237.9 868.8,237.7 869.3,237.4 869.8,236.2 870.2,231.9 870.7,235.4 871.1,236.6 871.6,235.5 872.1,239.6 872.5,239.8 873.0,229.7 873.5,239.7 873.9,230.9 874.4,232.9 874.9,241.7 875.3,238.3 875.8,236.3 876.2,230.5 876.7,233.8 877.2,234.9 877.6,231.0 878.1,234.6 878.6,229.7 879.0,237.2 879.5,233.2 879.9,231.3 880.4,237.5 880.9,235.6 881.3,237.5 881.8,229.4 882.3,231.3 882.7,232.9 883.2,228.9 883.6,234.0 884.1,233.9 884.6,233.2 885.0,233.4 885.5,229.5 886.0,235.3 886.4,237.6 886.9,230.1 887.3,230.4 887.8,233.3 888.3,229.8 888.7,230.7 889.2,231.8 889.7,229.7 890.1,228.9 890.6,236.2 891.0,231.2 891.5,236.3 892.0,232.3 892.4,236.7 892.9,233.9 893.4,231.2 893.8,236.7 894.3,234.8 894.7,233.4 895.2,241.2 895.7,240.0 896.1,232.0 896.6,235.1 897.1,234.5 897.5,233.3 898.0,236.6 898.5,237.5 898.9,238.0 899.4,231.7 899.8,236.2 900.3,238.4 900.8,229.9 901.2,234.9 901.7,233.8 902.2,237.8 902.6,231.7 903.1,235.2 903.5,235.0 904.0,233.2 904.5,235.1 904.9,230.7 905.4,231.7 905.9,232.6 906.3,237.5 906.8,239.1 907.2,235.1 907.7,234.6 908.2,231.9 908.6,231.7 909.1,235.9 909.6,238.2 910.0,234.1 910.5,233.8 910.9,233.8 911.4,237.6 911.9,239.0 912.3,235.3 912.8,234.0 913.3,236.0 913.7,233.9 914.2,235.4 914.6,238.7 915.1,236.8 915.6,231.0 916.0,240.2 916.5,242.9 917.0,231.5 917.4,234.1 917.9,237.0 918.3,238.4 918.8,230.0 919.3,239.4 919.7,237.7 920.2,236.2 920.7,234.1 921.1,229.2 921.6,234.8 922.1,232.1 922.5,234.7 923.0,232.4 923.4,230.5 923.9,239.5 924.4,241.0 924.8,229.3 925.3,234.0 925.8,230.7 926.2,235.5 926.7,230.8 927.1,234.2 927.6,232.1 928.1,235.7 928.5,229.5 929.0,236.2 929.5,235.3 929.9,236.0 930.4,234.4 930.8,237.9 931.3,237.5 931.8,232.4 932.2,234.5 932.7,231.9 933.2,232.7 933.6,238.9 934.1,231.3 934.5,236.3 935.0,238.6 935.5,235.8 935.9,237.0 936.4,231.2 936.9,232.8 937.3,231.8 937.8,237.9 938.2,233.7 938.7,232.0 939.2,233.8 939.6,237.0 940.1,230.5 940.6,236.4 941.0,234.7 941.5,234.2 941.9,235.9 942.4,233.0 942.9,231.8 943.3,230.5 943.8,235.8 944.3,230.6 944.7,232.6 945.2,232.2 945.6,236.7 946.1,227.1 946.6,232.9 947.0,233.8 947.5,234.1 948.0,232.9 948.4,235.3 948.9,232.5 949.4,232.1 949.8,234.0 950.3,234.5 950.7,234.4 951.2,234.9 951.7,237.3 952.1,238.0 952.6,231.2 953.1,232.3 953.5,240.5 954.0,233.5 954.4,229.1 954.9,234.1 955.4,235.4 955.8,237.3 956.3,235.4 956.8,236.2 957.2,235.1 957.7,237.6 958.1,230.2 958.6,234.1 959.1,234.8 959.5,234.4 960.0,237.2 960.5,231.0 960.9,237.9 961.4,236.3 961.8,231.1 962.3,233.7 962.8,234.1 963.2,228.5 963.7,234.4 964.2,233.0 964.6,232.8 965.1,229.1 965.5,234.8 966.0,237.3 966.5,237.3 966.9,236.9 967.4,234.8 967.9,236.1 968.3,229.8 968.8,232.0 969.2,232.9 969.7,233.2 970.2,231.5 970.6,232.5 971.1,235.3 971.6,229.8 972.0,234.8 972.5,233.1 973.0,234.3 973.4,233.6 973.9,234.0 974.3,232.2 974.8,236.1 975.3,236.3 975.7,234.9 976.2,230.7 976.7,232.1 977.1,233.9 977.6,239.0 978.0,235.3 978.5,234.8 979.0,236.2 979.4,229.1 979.9,234.4 980.4,225.8 980.8,232.4 981.3,234.2 981.7,229.5 982.2,227.4 982.7,230.2 983.1,235.1 983.6,235.1 984.1,235.1 984.5,234.1 985.0,237.6 985.4,235.9 985.9,232.9 986.4,234.7 986.8,239.6 987.3,233.3 987.8,231.5 988.2,231.3 988.7,229.9 989.1,231.7 989.6,238.9 990.1,236.9 990.5,236.2 991.0,236.9 991.5,232.8 991.9,233.4 992.4,234.7 992.8,237.7 993.3,232.4 993.8,229.8 994.2,231.1 994.7,237.7 995.2,233.7 995.6,230.4 996.1,234.0 996.5,235.3 997.0,231.6 997.5,231.7 997.9,230.8 998.4,229.4 998.9,232.0 999.3,234.4 999.8,234.2 1000.3,232.4 1000.7,229.1 1001.2,233.0 1001.6,235.4 1002.1,235.5 1002.6,231.7 1003.0,230.7 1003.5,235.6 1004.0,233.2 1004.4,237.1 1004.9,235.9 1005.3,236.7 1005.8,234.2 1006.3,230.7 1006.7,235.2 1007.2,233.5 1007.7,235.7 1008.1,233.5 1008.6,235.9 1009.0,232.6 1009.5,234.5 1010.0,236.7 1010.4,237.9 1010.9,231.3 1011.4,235.6 1011.8,236.2 1012.3,236.3 1012.7,236.1 1013.2,236.7 1013.7,235.1 1014.1,237.3 1014.6,239.9 1015.1,232.0 1015.5,240.2 1016.0,232.4 1016.4,235.4 1016.9,234.3 1017.4,238.4 1017.8,236.0 1018.3,238.3 1018.8,231.6 1019.2,236.8 1019.7,239.1 1020.1,236.6 1020.6,233.7 1021.1,236.6 1021.5,240.4 1022.0,238.7"/>
<polyline fill="none" stroke="none" marker-start="url(#m0)" marker-mid="url(#m0)" marker-end="url(#m0)" points="97.0,299.1 97.5,278.7 97.9,297.4 98.4,273.8 98.9,280.3 99.3,303.9 99.8,277.0 100.2,303.5 100.7,279.6 101.2,276.0 101.6,296.5 102.1,303.8 102.6,292.6 103.0,269.4 103.5,308.3 103.9,279.5 104.4,274.6 104.9,275.9 105.3,303.1 105.8,279.4 106.3,273.5 106.7,273.2 107.2,274.0 107.6,303.2 108.1,303.6 108.6,274.7 109.0,305.2 109.5,272.7 110.0,275.8 110.4,273.7 110.9,272.7 111.3,306.7 111.8,301.5 112.3,299.1 112.7,302.6 113.2,272.7 113.7,277.9 114.1,305.3 114.6,305.9 115.0,298.8 115.5,301.9 116.0,281.9 116.4,301.6 116.9,280.0 117.4,280.9 117.8,297.6 118.3,306.3 118.7,278.3 119.2,305.1 119.7,307.9 120.1,303.7 120.6,302.4 121.1,277.8 121.5,300.9 122.0,303.7 122.5,295.2 122.9,307.9 123.4,300.2 123.8,303.8 124.3,303.0 124.8,302.3 125.2,302.3 125.7,276.0 126.2,296.3 126.6,273.9 127.1,305.8 127.5,298.3 128.0,298.2 128.5,308.9 128.9,305.8 129.4,280.8 129.9,275.6 130.3,276.5 130.8,304.2 131.2,277.5 131.7,301.3 132.2,270.8 132.6,273.2 133.1,296.4 133.6,306.8 134.0,300.1 134.5,275.0 134.9,302.4 135.4,301.4 135.9,277.2 136.3,299.2 136.8,270.5 137.3,281.2 137.7,273.1 138.2,299.6 138.6,298.5 139.1,299.3 139.6,275.5 140.0,277.8 140.5,272.0 141.0,276.3 141.4,273.2 141.9,305.0 142.3,296.8 142.8,301.3 143.3,277.6 143.7,296.3 144.2,275.7 144.7,301.3 145.1,298.1 145.6,300.1 146.0,304.1 146.5,301.6 147.0,299.3 147.4,300.0 147.9,276.7 148.4,304.9 148.8,277.8 149.3,277.6 149.8,280.2 150.2,295.4 150.7,295.7 151.1,292.9 151.6,303.3 152.1,267.7 152.5,275.0 153.0,277.5 153.5,270.6 153.9,298.1 154.4,299.4 154.8,302.7 155.3,269.9 155.8,275.5 156.2,302.3 156.7,300.6 157.2,300.6 157.6,303.9 158.1,300.8 158.5,300.0 159.0,299.1 159.5,302.0 159.9,299.2 160.4,302.0 160.9,300.2 161.3,303.3 161.8,297.5 162.2,300.0 162.7,270.7 163.2,270.6 163.6,303.4 164.1,300.9 164.6,302.6 165.0,306.0 165.5,270.7 165.9,264.6 166.4,263.3 166.9,270.1 167.3,298.0 167.8,300.2 168.3,267.3 168.7,272.0 169.2,303.1 169.6,295.3 170.1,268.6 170.6,266.7 171.0,294.6 171.5,269.7 172.0,267.2 172.4,300.2 172.9,275.5 173.4,271.8 173.8,271.0 174.3,266.2 174.7,294.6 175.2,302.6 175.7,266.4 176.1,267.5 176.6,266.1 177.1,298.6 177.5,306.2 178.0,297.2 178.4,266.3 178.9,267.9 179.4,268.1 179.8,294.1 180.3,292.1 180.8,265.2 181.2,266.4 181.7,264.5 182.1,263.8 182.6,264.0 183.1,265.7 183.5,297.2 184.0,261.6 184.5,295.7 184.9,267.9 185.4,266.4 185.8,292.9 186.3,296.1 186.8,266.6 187.2,299.7 187.7,261.4 188.2,268.8 188.6,265.1 189.1,297.7 189.5,268.7 190.0,263.7 190.5,294.2 190.9,266.1 191.4,268.7 191.9,294.9 192.3,292.0 192.8,294.3 193.2,267.5 193.7,270.0 194.2,294.8 194.6,265.1 195.1,295.8 195.6,295.9 196.0,263.1 196.5,294.8 196.9,266.7 197.4,296.5 197.9,296.1 198.3,262.7 198.8,264.2 199.3,293.6 199.7,299.3 200.2,300.6 200.7,296.9 201.1,301.0 201.6,294.8 202.0,264.8 202.5,291.4 203.0,266.4 203.4,294.1 203.9,265.9 204.4,267.2 204.8,294.7 205.3,262.0 205.7,295.3 206.2,265.3 206.7,265.6 207.1,267.6 207.6,264.7 208.1,294.4 208.5,300.9 209.0,268.8 209.4,265.0 209.9,292.0 210.4,263.9 210.8,296.3 211.3,267.9 211.8,302.8 212.2,264.4 212.7,295.4 213.1,293.7 213.6,265.4 214.1,293.6 214.5,291.3 215.0,298.1 215.5,265.4 215.9,298.9 216.4,263.4 216.8,265.8 217.3,296.7 217.8,259.0 218.2,290.2 218.7,267.2 219.2,265.2 219.6,288.4 220.1,292.0 220.5,290.9 221.0,263.2 221.5,299.3 221.9,262.9 222.4,271.1 222.9,293.4 223.3,262.3 223.8,299.2 224.3,297.2 224.7,298.6 225.2,270.7 225.6,297.5 226.1,298.0 226.6,259.0 227.0,261.8 227.5,295.3 228.0,265.1 228.4,296.2 228.9,262.9 229.3,297.4 229.8,300.3 230.3,266.2 230.7,296.4 231.2,295.3 231.7,267.2 232.1,264.9 232.6,262.6 233.0,264.8 233.5,293.8 234.0,288.5 234.4,264.8 234.9,293.5 235.4,294.0 235.8,262.3 236.3,294.8 236.7,295.3 237.2,261.7 237.7,294.2 238.1,295.6 238.6,295.5 239.1,290.0 239.5,289.6 240.0,293.0 240.4,260.4 240.9,271.6 241.4,261.0 241.8,290.1 242.3,294.8 242.8,262.0 243.2,284.9 243.7,263.0 244.1,289.3 244.6,290.7 245.1,287.1 245.5,260.4 246.0,291.7 246.5,262.9 246.9,259.6 247.4,260.8 247.9,289.3 248.3,292.5 248.8,262.5 249.2,259.0 249.7,264.9 250.2,260.6 250.6,293.0 251.1,259.9 251.6,292.6 252.0,262.3 252.5,262.8 252.9,293.2 253.4,263.9 253.9,292.0 254.3,291.9 254.8,258.4 255.3,291.1 255.7,255.4 256.2,255.2 256.6,290.1 257.1,318.0 257.6,266.9 258.0,293.2 258.5,265.6 259.0,261.1 259.4,292.3 259.9,265.7 260.3,263.7 260.8,291.9 261.3,291.1 261.7,259.0 262.2,287.7 262.7,257.3 263.1,263.1 263.6,289.6 264.0,288.3 264.5,262.9 265.0,259.9 265.4,293.8 265.9,267.7 266.4,263.0 266.8,259.4 267.3,285.3 267.7,267.9 268.2,262.9 268.7,286.2 269.1,293.5 269.6,256.1 270.1,259.9 270.5,289.1 271.0,288.7 271.4,257.6 271.9,297.5 272.4,259.9 272.8,262.3 273.3,261.2 273.8,256.0 274.2,287.7 274.7,261.6 275.2,292.5 275.6,259.8 276.1,290.5 276.5,288.2 277.0,291.2 277.5,281.1 277.9,291.1 278.4,287.1 278.9,258.8 279.3,279.7 279.8,285.5 280.2,262.5 280.7,267.8 281.2,286.5 281.6,258.3 282.1,290.4 282.6,261.3 283.0,286.7 283.5,259.8 283.9,287.3 284.4,262.2 284.9,262.7 285.3,294.2 285.8,291.4 286.3,262.2 286.7,288.8 287.2,263.0 287.6,256.8 288.1,295.2 288.6,260.8 289.0,292.7 289.5,285.4 290.0,263.1 290.4,289.3 290.9,287.3 291.3,285.7 291.8,256.8 292.3,293.7 292.7,291.7 293.2,259.9 293.7,288.3 294.1,285.2 294.6,281.5 295.0,253.7 295.5,285.4 296.0,286.9 296.4,255.5 296.9,289.9 297.4,260.9 297.8,259.7 298.3,281.4 298.8,258.4 299.2,287.0 299.7,282.9 300.1,252.0 300.6,293.2 301.1,288.9 301.5,285.5 302.0,264.0 302.5,262.4 302.9,260.3 303.4,287.3 303.8,261.3 304.3,291.3 304.8,286.7 305.2,285.6 305.7,260.6 306.2,277.0 306.6,259.0 307.1,284.8 307.5,258.6 308.0,285.4 308.5,259.7 308.9,259.0 309.4,258.8 309.9,285.4 310.3,260.0 310.8,284.0 311.2,261.7 311.7,253.1 312.2,286.2 312.6,259.9 313.1,281.2 313.6,257.1 314.0,289.7 314.5,284.8 314.9,282.3 315.4,248.8 315.9,286.2 316.3,258.7 316.8,287.0 317.3,264.9 317.7,284.9 318.2,285.3 318.6,256.1 319.1,258.0 319.6,284.6 320.0,287.1 320.5,286.4 321.0,255.7 321.4,256.6 321.9,288.9 322.4,281.2 322.8,286.7 323.3,263.3 323.7,260.1 324.2,258.8 324.7,288.5 325.1,259.1 325.6,283.9 326.1,257.3 326.5,261.6 327.0,286.1 327.4,262.8 327.9,282.5 328.4,256.9 328.8,256.5 329.3,284.4 329.8,281.1 330.2,260.8 330.7,284.4 331.1,254.6 331.6,248.2 332.1,251.9 332.5,287.8 333.0,257.5 333.5,283.5 333.9,281.5 334.4,284.2 334.8,276.5 335.3,276.2 335.8,252.3 336.2,282.9 336.7,284.9 337.2,259.0 337.6,282.1 338.1,253.4 338.5,285.0 339.0,256.5 339.5,257.3 339.9,257.2 340.4,255.9 340.9,255.0 341.3,255.4 341.8,277.7 342.2,282.7 342.7,256.7 343.2,285.2 343.6,251.4 344.1,285.6 344.6,281.4 345.0,256.7 345.5,278.9 345.9,278.8 346.4,276.5 346.9,284.3 347.3,280.6 347.8,283.6 348.3,283.9 348.7,279.5 349.2,280.3 349.7,279.9 350.1,260.3 350.6,281.4 351.0,281.5 351.5,259.2 352.0,256.6 352.4,287.6 352.9,253.8 353.4,284.9 353.8,261.2 354.3,253.0 354.7,283.5 355.2,281.6 355.7,283.5 356.1,252.7 356.6,257.3 357.1,253.3 357.5,279.4 358.0,285.1 358.4,255.9 358.9,272.9 359.4,251.8 359.8,276.5 360.3,259.4 360.8,277.9 361.2,251.1 361.7,283.9 362.1,256.8 362.6,257.1 363.1,253.4 363.5,284.8 364.0,279.6 364.5,273.5 364.9,276.2 365.4,253.1 365.8,255.2 366.3,282.4 366.8,253.3 367.2,277.8 367.7,262.6 368.2,255.8 368.6,278.0 369.1,279.8 369.5,251.4 370.0,281.4 370.5,258.5 370.9,277.6 371.4,258.5 371.9,254.3 372.3,280.4 372.8,252.8 373.3,276.7 373.7,250.3 374.2,255.8 374.6,254.1 375.1,254.2 375.6,275.5 376.0,251.2 376.5,277.1 377.0,256.3 377.4,255.8 377.9,252.6 378.3,255.7 378.8,260.3 379.3,279.3 379.7,261.1 380.2,280.3 380.7,258.8 381.1,277.1 381.6,258.2 382.0,274.8 382.5,255.2 383.0,277.6 383.4,247.9 383.9,274.1 384.4,257.9 384.8,280.2 385.3,282.8 385.7,279.1 386.2,244.8 386.7,279.3 387.1,276.5 387.6,276.7 388.1,252.5 388.5,275.8 389.0,250.8 389.4,282.3 389.9,255.2 390.4,276.0 390.8,252.4 391.3,256.8 391.8,279.3 392.2,254.2 392.7,274.0 393.1,276.5 393.6,249.9 394.1,271.6 394.5,256.3 395.0,252.3 395.5,276.4 395.9,250.2 396.4,255.7 396.8,278.8 397.3,255.1 397.8,256.1 398.2,248.9 398.7,253.7 399.2,253.8 399.6,258.1 400.1,253.0 400.6,249.7 401.0,252.6 401.5,251.3 401.9,257.7 402.4,255.0 402.9,253.8 403.3,253.2 403.8,255.5 404.3,250.9 404.7,249.4 405.2,277.0 405.6,256.4 406.1,254.1 406.6,254.5 407.0,252.4 407.5,257.9 408.0,248.8 408.4,256.2 408.9,249.2 409.3,250.5 409.8,247.8 410.3,252.2 410.7,250.9 411.2,253.3 411.7,249.8 412.1,278.9 412.6,253.6 413.0,256.0 413.5,254.1 414.0,251.4 414.4,252.9 414.9,245.7 415.4,250.3 415.8,255.3 416.3,252.9 416.7,248.3 417.2,254.1 417.7,250.7 418.1,279.1 418.6,246.3 419.1,249.2 419.5,252.1 420.0,252.0 420.4,252.8 420.9,250.8 421.4,250.2 421.8,252.5 422.3,253.8 422.8,245.7 423.2,249.7 423.7,250.1 424.2,251.3 424.6,254.2 425.1,246.2 425.5,252.5 426.0,244.8 426.5,248.1 426.9,248.9 427.4,249.7 427.9,248.5 428.3,248.8 428.8,249.4 429.2,249.6 429.7,244.3 430.2,245.8 430.6,249.0 431.1,252.3 431.6,253.9 432.0,260.1 432.5,250.8 432.9,247.7 433.4,251.0 433.9,252.7 434.3,250.8 434.8,246.7 435.3,250.0 435.7,250.2 436.2,245.5 436.6,246.2 437.1,254.3 437.6,242.7 438.0,250.8 438.5,249.3 439.0,254.9 439.4,252.2 439.9,247.2 440.3,254.4 440.8,248.2 441.3,256.8 441.7,255.7 442.2,249.8 442.7,252.6 443.1,250.6 443.6,246.9 444.0,253.6 444.5,251.4 445.0,252.8 445.4,255.4 445.9,256.7 446.4,255.9 446.8,252.8 447.3,253.6 447.8,254.8 448.2,253.5 448.7,253.5 449.1,260.0 449.6,256.2 450.1,260.7 450.5,253.0 451.0,255.5 451.5,254.6 451.9,255.0 452.4,255.6 452.8,256.3 453.3,255.7 453.8,262.6 454.2,259.5 454.7,255.6 455.2,256.5 455.6,260.6 456.1,260.3 456.5,257.1 457.0,261.9 457.5,255.2 457.9,258.3 458.4,265.2 458.9,252.6 459.3,260.0 459.8,263.8 460.2,260.7 460.7,259.1 461.2,259.1 461.6,255.8 462.1,258.3 462.6,262.8 463.0,261.2 463.5,263.1 463.9,263.0 464.4,264.6 464.9,259.1 465.3,263.4 465.8,263.6 466.3,263.9 466.7,262.5 467.2,258.9 467.6,267.6 468.1,268.4 468.6,273.3 469.0,268.7 469.5,271.7 470.0,268.9 470.4,266.3 470.9,269.2 471.3,264.5 471.8,269.0 472.3,268.2 472.7,265.7 473.2,272.8 473.7,272.8 474.1,271.2 474.6,272.5 475.1,275.3 475.5,270.4 476.0,303.0 476.4,268.6 476.9,273.8 477.4,272.8 477.8,268.0 478.3,276.7 478.8,273.7 479.2,303.0 479.7,277.1 480.1,272.8 480.6,274.7 481.1,272.5 481.5,272.5 482.0,274.5 482.5,277.2 482.9,280.1 483.4,273.7 483.8,278.8 484.3,277.1 484.8,276.7 485.2,281.0 485.7,277.0 486.2,303.0 486.6,277.7 487.1,276.3 487.5,281.6 488.0,301.0 488.5,277.0 488.9,304.9 489.4,280.6 489.9,305.4 490.3,301.6 490.8,278.1 491.2,282.9 491.7,283.1 492.2,305.4 492.6,308.9 493.1,282.9 493.6,285.1 494.0,307.6 494.5,313.4 494.9,282.4 495.4,314.1 495.9,285.8 496.3,308.7 496.8,310.8 497.3,284.8 497.7,286.8 498.2,309.2 498.7,283.4 499.1,314.9 499.6,286.2 500.0,311.5 500.5,283.2 501.0,316.0 501.4,312.8 501.9,316.3 502.4,288.4 502.8,316.5 503.3,279.9 503.7,320.2 504.2,289.8 504.7,321.6 505.1,289.5 505.6,314.6 506.1,291.2 506.5,288.7 507.0,322.4 507.4,319.9 507.9,320.1 508.4,322.1 508.8,317.5 509.3,322.0 509.8,325.6 510.2,322.8 510.7,323.5 511.1,325.8 511.6,321.2 512.1,327.2 512.5,326.0 513.0,257.9 513.5,323.2 513.9,329.2 514.4,323.3 514.8,328.7 515.3,325.4 515.8,252.5 516.2,324.4 516.7,327.6 517.2,330.6 517.6,329.1 518.1,330.7 518.5,257.0 519.0,337.2 519.5,258.8 519.9,333.6 520.4,331.3 520.9,333.9 521.3,337.6 521.8,326.8 522.3,330.9 522.7,334.7 523.2,332.7 523.6,331.0 524.1,255.4 524.6,334.5 525.0,335.2 525.5,332.5 526.0,339.3 526.4,335.0 526.9,331.3 527.3,254.0 527.8,253.3 528.3,339.0 528.7,334.8 529.2,343.8 529.7,344.4 530.1,251.5 530.6,344.0 531.0,342.8 531.5,341.9 532.0,309.0 532.4,342.6 532.9,344.9 533.4,336.6 533.8,336.4 534.3,342.1 534.7,350.6 535.2,344.3 535.7,335.8 536.1,342.8 536.6,342.9 537.1,347.8 537.5,343.5 538.0,345.8 538.4,351.7 538.9,351.3 539.4,349.1 539.8,345.3 540.3,344.6 540.8,346.3 541.2,354.6 541.7,351.3 542.1,355.6 542.6,353.2 543.1,351.3 543.5,349.9 544.0,355.6 544.5,352.1 544.9,354.8 545.4,353.6 545.8,356.9 546.3,353.9 546.8,348.3 547.2,351.9 547.7,356.3 548.2,349.5 548.6,353.8 549.1,355.9 549.6,354.1 550.0,354.4 550.5,356.3 550.9,361.1 551.4,353.3 551.9,354.9 552.3,350.6 552.8,354.1 553.3,356.0 553.7,350.8 554.2,361.6 554.6,355.9 555.1,354.7 555.6,361.5 556.0,356.8 556.5,361.0 557.0,357.3 557.4,358.6 557.9,356.6 558.3,357.6 558.8,365.1 559.3,361.3 559.7,360.5 560.2,322.6 560.7,359.7 561.1,358.1 561.6,355.8 562.0,359.1 562.5,360.0 563.0,359.6 563.4,359.5 563.9,364.2 564.4,366.7 564.8,364.1 565.3,365.1 565.7,359.2 566.2,363.2 566.7,363.4 567.1,361.4 567.6,362.5 568.1,367.2 568.5,367.6 569.0,367.0 569.4,365.5 569.9,362.0 570.4,369.6 570.8,367.3 571.3,366.5 571.8,367.8 572.2,366.1 572.7,364.4 573.2,363.2 573.6,364.4 574.1,369.3 574.5,365.2 575.0,370.3 575.5,371.6 575.9,364.2 576.4,368.9 576.9,360.7 577.3,367.5 577.8,367.1 578.2,359.6 578.7,366.6 579.2,367.4 579.6,370.0 580.1,366.7 580.6,368.7 581.0,365.2 581.5,365.1 581.9,371.2 582.4,368.2 582.9,371.0 583.3,370.7 583.8,372.6 584.3,373.7 584.7,367.8 585.2,370.4 585.6,376.0 586.1,368.4 586.6,377.4 587.0,369.1 587.5,367.3 588.0,373.6 588.4,375.1 588.9,370.9 589.3,371.8 589.8,370.4 590.3,377.8 590.7,370.6 591.2,377.4 591.7,379.8 592.1,376.4 592.6,368.7 593.0,375.9 593.5,375.3 594.0,374.0 594.4,376.8 594.9,374.4 595.4,374.4 595.8,374.5 596.3,379.7 596.7,374.3 597.2,378.4 597.7,376.1 598.1,376.2 598.6,385.0 599.1,379.6 599.5,372.5 600.0,379.5 600.5,376.4 600.9,376.4 601.4,375.2 601.8,375.5 602.3,379.6 602.8,384.0 603.2,378.8 603.7,377.7 604.2,378.7 604.6,380.0 605.1,380.5 605.5,377.9 606.0,381.9 606.5,376.7 606.9,378.6 607.4,379.3 607.9,377.2 608.3,377.0 608.8,378.3 609.2,385.3 609.7,377.5 610.2,377.1 610.6,372.2 611.1,379.5 611.6,376.0 612.0,376.2 612.5,376.2 612.9,371.9 613.4,366.9 613.9,378.3 614.3,383.2 614.8,374.5 615.3,373.8 615.7,370.6 616.2,381.6 616.6,377.9 617.1,374.5 617.6,374.2 618.0,374.0 618.5,377.1 619.0,370.1 619.4,373.6 619.9,376.3 620.3,371.8 620.8,374.6 621.3,376.6 621.7,374.4 622.2,372.3 622.7,372.7 623.1,377.0 623.6,376.8 624.1,331.0 624.5,375.3 625.0,368.0 625.4,372.8 625.9,372.1 626.4,367.1 626.8,372.6 627.3,370.8 627.8,366.4 628.2,331.0 628.7,374.2 629.1,372.4 629.6,373.1 630.1,372.8 630.5,373.1 631.0,370.4 631.5,374.2 631.9,377.4 632.4,369.9 632.8,330.0 633.3,373.4 633.8,366.1 634.2,371.7 634.7,370.1 635.2,371.7 635.6,368.6 636.1,369.8 636.5,364.8 637.0,366.2 637.5,370.9 637.9,371.8 638.4,370.5 638.9,363.1 639.3,368.1 639.8,363.2 640.2,364.4 640.7,366.9 641.2,367.9 641.6,365.4 642.1,325.6 642.6,326.3 643.0,364.6 643.5,324.1 643.9,363.0 644.4,323.0 644.9,324.3 645.3,367.3 645.8,356.0 646.3,364.3 646.7,323.9 647.2,320.2 647.7,365.2 648.1,318.1 648.6,359.7 649.0,316.8 649.5,362.2 650.0,320.1 650.4,364.2 650.9,323.2 651.4,365.5 651.8,322.3 652.3,323.0 652.7,325.3 653.2,322.4 653.7,370.5 654.1,320.1 654.6,363.3 655.1,360.4 655.5,361.5 656.0,357.0 656.4,362.4 656.9,356.5 657.4,362.5 657.8,362.4 658.3,363.7 658.8,367.9 659.2,321.0 659.7,356.7 660.1,357.2 660.6,358.4 661.1,362.9 661.5,358.9 662.0,357.9 662.5,356.1 662.9,357.5 663.4,320.0 663.8,358.9 664.3,354.5 664.8,358.7 665.2,360.7 665.7,359.8 666.2,354.6 666.6,361.1 667.1,321.0 667.5,317.1 668.0,358.2 668.5,317.2 668.9,360.6 669.4,360.5 669.9,359.5 670.3,322.0 670.8,353.5 671.2,320.2 671.7,358.4 672.2,320.8 672.6,361.7 673.1,318.9 673.6,354.1 674.0,316.0 674.5,319.4 675.0,354.3 675.4,314.8 675.9,358.0 676.3,322.5 676.8,353.2 677.3,316.2 677.7,353.1 678.2,320.6 678.7,360.3 679.1,316.1 679.6,354.6 680.0,317.8 680.5,356.3 681.0,318.1 681.4,322.2 681.9,350.7 682.4,322.7 682.8,354.8 683.3,359.2 683.7,321.4 684.2,355.6 684.7,350.7 685.1,354.1 685.6,317.7 686.1,349.4 686.5,350.5 687.0,348.9 687.4,314.3 687.9,317.2 688.4,348.5 688.8,316.7 689.3,356.2 689.8,319.2 690.2,351.7 690.7,320.4 691.1,350.5 691.6,351.8 692.1,357.3 692.5,322.2 693.0,350.2 693.5,314.4 693.9,348.5 694.4,316.8 694.8,353.3 695.3,316.6 695.8,347.6 696.2,314.7 696.7,346.8 697.2,318.3 697.6,347.8 698.1,321.0 698.6,348.6 699.0,350.2 699.5,346.5 699.9,345.4 700.4,325.0 700.9,348.0 701.3,345.1 701.8,354.8 702.3,318.3 702.7,354.9 703.2,317.7 703.6,352.6 704.1,318.1 704.6,349.2 705.0,317.3 705.5,317.1 706.0,345.3 706.4,313.1 706.9,316.0 707.3,348.5 707.8,318.2 708.3,348.9 708.7,318.0 709.2,348.6 709.7,348.3 710.1,315.0 710.6,349.1 711.0,317.6 711.5,347.3 712.0,318.7 712.4,355.2 712.9,316.6 713.4,352.4 713.8,316.3 714.3,305.8 714.7,305.5 715.2,305.2 715.7,305.3 716.1,308.9 716.6,307.2 717.1,303.7 717.5,308.2 718.0,313.2 718.4,312.1 718.9,302.0 719.4,304.9 719.8,309.1 720.3,307.2 720.8,307.6 721.2,306.8 721.7,306.9 722.2,303.7 722.6,310.1 723.1,303.6 723.5,306.4 724.0,311.5 724.5,310.4 724.9,307.2 725.4,306.9 725.9,305.3 726.3,305.3 726.8,305.9 727.2,310.6 727.7,305.0 728.2,307.9 728.6,307.6 729.1,307.3 729.6,305.2 730.0,308.5 730.5,306.5 730.9,306.4 731.4,304.9 731.9,299.9 732.3,308.5 732.8,308.5 733.3,304.6 733.7,305.0 734.2,305.9 734.6,301.7 735.1,306.2 735.6,306.1 736.0,307.1 736.5,307.0 737.0,299.0 737.4,306.2 737.9,303.6 738.3,308.0 738.8,308.2 739.3,307.6 739.7,305.7 740.2,314.5 740.7,306.5 741.1,303.8 741.6,309.5 742.0,302.5 742.5,311.9 743.0,309.7 743.4,310.6 743.9,309.3 744.4,307.7 744.8,302.5 745.3,304.7 745.7,308.0 746.2,306.0 746.7,307.8 747.1,304.9 747.6,304.2 748.1,307.4 748.5,309.0 749.0,306.7 749.5,304.1 749.9,301.9 750.4,313.0 750.8,304.2 751.3,304.9 751.8,305.3 752.2,310.0 752.7,305.4 753.2,309.3 753.6,308.9 754.1,305.1 754.5,308.8 755.0,304.4 755.5,307.6 755.9,310.1 756.4,307.3 756.9,305.5 757.3,307.0 757.8,307.7 758.2,308.9 758.7,301.0 759.2,301.7 759.6,308.4 760.1,306.2 760.6,307.0 761.0,307.9 761.5,307.1 761.9,305.7 762.4,307.0 762.9,309.0 763.3,308.0 763.8,307.3 764.3,304.1 764.7,308.0 765.2,304.0 765.6,305.4 766.1,308.1 766.6,308.2 767.0,310.8 767.5,309.7 768.0,308.3 768.4,305.7 768.9,306.5 769.3,305.5 769.8,311.3 770.3,307.5 770.7,304.2 771.2,303.7 771.7,309.9 772.1,303.7 772.6,307.3 773.1,306.5 773.5,309.1 774.0,303.9 774.4,307.6 774.9,306.7 775.4,308.6 775.8,310.1 776.3,306.9 776.8,305.8 777.2,309.0 777.7,302.3 778.1,307.0 778.6,303.5 779.1,302.9 779.5,301.5 780.0,301.2 780.5,308.0 780.9,308.6 781.4,306.7 781.8,309.7 782.3,306.6 782.8,305.0 783.2,303.8 783.7,309.2 784.2,309.5 784.6,310.7 785.1,304.6 785.5,305.8 786.0,302.6 786.5,310.2 786.9,309.4 787.4,308.9 787.9,307.6 788.3,307.1 788.8,306.2 789.2,310.2 789.7,305.1 790.2,309.5 790.6,307.4 791.1,303.7 791.6,302.2 792.0,333.0 792.5,305.9 792.9,302.1 793.4,335.0 793.9,308.8 794.3,306.6 794.8,300.3 795.3,298.3 795.7,307.4 796.2,309.4 796.6,304.1 797.1,306.9 797.6,305.0 798.0,304.0 798.5,308.8 799.0,304.2 799.4,308.2 799.9,310.3 800.4,305.0 800.8,310.6 801.3,301.5 801.7,307.9 802.2,304.7 802.7,311.7 803.1,304.2 803.6,348.6 804.1,308.1 804.5,298.9 805.0,304.7 805.4,301.2 805.9,307.1 806.4,302.8 806.8,305.7 807.3,303.1 807.8,299.9 808.2,297.0 808.7,308.9 809.1,304.6 809.6,301.0 810.1,303.3 810.5,307.3 811.0,300.0 811.5,310.9 811.9,303.4 812.4,303.5 812.8,308.1 813.3,305.3 813.8,301.8 814.2,306.9 814.7,305.6 815.2,307.7 815.6,301.9 816.1,300.9 816.5,305.5 817.0,302.3 817.5,297.0 817.9,301.2 818.4,305.1 818.9,301.4 819.3,307.0 819.8,301.7 820.2,302.9 820.7,298.6 821.2,300.8 821.6,303.0 822.1,304.9 822.6,304.0 823.0,306.6 823.5,297.8 824.0,304.2 824.4,303.5 824.9,301.2 825.3,304.3 825.8,302.4 826.3,306.0 826.7,303.8 827.2,306.5 827.7,302.2 828.1,308.4 828.6,306.0 829.0,309.8 829.5,303.9 830.0,303.4 830.4,305.2 830.9,303.5 831.4,301.5 831.8,305.1 832.3,304.5 832.7,302.7 833.2,303.8 833.7,302.1 834.1,305.0 834.6,300.6 835.1,309.5 835.5,304.7 836.0,307.7 836.4,301.4 836.9,305.6 837.4,304.0 837.8,307.1 838.3,306.8 838.8,299.6 839.2,307.3 839.7,300.1 840.1,308.2 840.6,303.8 841.1,300.4 841.5,305.8 842.0,304.1 842.5,300.7 842.9,301.6 843.4,304.9 843.8,299.6 844.3,301.0 844.8,308.4 845.2,300.7 845.7,303.8 846.2,304.0 846.6,305.3 847.1,305.1 847.6,294.9 848.0,301.0 848.5,305.7 848.9,299.8 849.4,307.3 849.9,302.9 850.3,298.4 850.8,303.0 851.3,306.8 851.7,299.3 852.2,302.7 852.6,298.5 853.1,299.1 853.6,300.7 854.0,302.0 854.5,301.6 855.0,301.0 855.4,307.5 855.9,297.5 856.3,295.1 856.8,302.2 857.3,301.2 857.7,296.7 858.2,306.2 858.7,298.5 859.1,296.5 859.6,302.1 860.0,302.8 860.5,307.6 861.0,295.7 861.4,296.6 861.9,299.1 862.4,299.0 862.8,299.7 863.3,297.5 863.7,295.2 864.2,298.6 864.7,301.9 865.1,301.7 865.6,297.5 866.1,301.2 866.5,301.0 867.0,298.5 867.4,299.2 867.9,300.2 868.4,308.5 868.8,301.2 869.3,298.2 869.8,300.9 870.2,300.0 870.7,304.7 871.1,295.0 871.6,298.1 872.1,304.1 872.5,302.8 873.0,301.9 873.5,303.8 873.9,297.8 874.4,302.9 874.9,298.5 875.3,298.1 875.8,303.5 876.2,300.3 876.7,301.0 877.2,303.9 877.6,298.9 878.1,303.7 878.6,308.3 879.0,301.2 879.5,304.9 879.9,304.7 880.4,298.2 880.9,298.2 881.3,302.0 881.8,295.6 882.3,302.3 882.7,303.1 883.2,303.3 883.6,303.6 884.1,306.2 884.6,301.3 885.0,305.9 885.5,303.1 886.0,303.1 886.4,301.0 886.9,304.3 887.3,298.8 887.8,302.6 888.3,303.7 888.7,298.5 889.2,297.5 889.7,298.1 890.1,300.1 890.6,301.5 891.0,302.8 891.5,306.1 892.0,304.9 892.4,300.7 892.9,298.4 893.4,296.3 893.8,302.3 894.3,301.2 894.7,298.8 895.2,298.3 895.7,298.6 896.1,291.0 896.6,298.7 897.1,300.4 897.5,298.8 898.0,296.2 898.5,299.7 898.9,301.1 899.4,304.9 899.8,302.7 900.3,301.3 900.8,299.3 901.2,295.5 901.7,298.0 902.2,295.6 902.6,298.9 903.1,302.6 903.5,302.3 904.0,302.0 904.5,299.7 904.9,302.4 905.4,298.5 905.9,293.7 906.3,300.3 906.8,300.2 907.2,295.0 907.7,298.1 908.2,293.0 908.6,298.7 909.1,303.8 909.6,298.3 910.0,304.1 910.5,300.8 910.9,297.8 911.4,295.4 911.9,303.2 912.3,302.7 912.8,296.0 913.3,299.1 913.7,303.4 914.2,298.3 914.6,301.7 915.1,295.2 915.6,298.0 916.0,302.3 916.5,296.3 917.0,295.3 917.4,294.9 917.9,297.4 918.3,294.4 918.8,298.9 919.3,300.8 919.7,303.7 920.2,298.4 920.7,304.3 921.1,301.0 921.6,298.7 922.1,300.5 922.5,303.7 923.0,303.6 923.4,301.7 923.9,299.5 924.4,302.6 924.8,300.7 925.3,300.3 925.8,300.3 926.2,305.0 926.7,295.9 927.1,298.8 927.6,295.6 928.1,301.7 928.5,302.4 929.0,302.7 929.5,297.7 929.9,299.3 930.4,300.8 930.8,298.8 931.3,299.2 931.8,298.9 932.2,299.1 932.7,298.0 933.2,299.2 933.6,293.7 934.1,296.6 934.5,293.7 935.0,297.5 935.5,296.3 935.9,300.2 936.4,302.7 936.9,295.6 937.3,296.8 937.8,299.9 938.2,303.3 938.7,301.3 939.2,300.0 939.6,298.6 940.1,297.7 940.6,300.0 941.0,300.7 941.5,299.9 941.9,297.7 942.4,294.6 942.9,296.8 943.3,298.0 943.8,295.6 944.3,299.9 944.7,295.1 945.2,298.3 945.6,300.4 946.1,301.8 946.6,300.1 947.0,302.9 947.5,297.7 948.0,297.3 948.4,302.6 948.9,296.6 949.4,299.2 949.8,294.7 950.3,303.6 950.7,302.9 951.2,298.7 951.7,295.9 952.1,302.2 952.6,302.3 953.1,304.4 953.5,306.7 954.0,302.0 954.4,300.8 954.9,300.4 955.4,300.4 955.8,297.1 956.3,298.7 956.8,300.8 957.2,296.2 957.7,297.6 958.1,304.9 958.6,299.4 959.1,303.5 959.5,304.4 960.0,301.0 960.5,303.0 960.9,300.0 961.4,298.0 961.8,299.7 962.3,299.9 962.8,299.9 963.2,300.1 963.7,298.7 964.2,303.2 964.6,299.9 965.1,299.1 965.5,303.1 966.0,296.8 966.5,299.5 966.9,304.1 967.4,299.8 967.9,303.3 968.3,298.0 968.8,297.3 969.2,298.0 969.7,297.1 970.2,298.0 970.6,297.3 971.1,300.1 971.6,298.9 972.0,297.7 972.5,295.7 973.0,307.1 973.4,296.7 973.9,301.7 974.3,293.8 974.8,295.2 975.3,300.9 975.7,294.2 976.2,294.4 976.7,297.5 977.1,295.3 977.6,296.1 978.0,297.6 978.5,300.1 979.0,298.1 979.4,298.8 979.9,301.7 980.4,301.9 980.8,296.8 981.3,292.9 981.7,295.4 982.2,301.2 982.7,296.8 983.1,296.0 983.6,296.4 984.1,302.6 984.5,297.8 985.0,297.3 985.4,297.0 985.9,295.8 986.4,307.6 986.8,299.7 987.3,300.7 987.8,299.2 988.2,303.1 988.7,296.5 989.1,293.4 989.6,297.7 990.1,300.8 990.5,306.0 991.0,299.4 991.5,297.4 991.9,299.0 992.4,297.7 992.8,297.7 993.3,300.3 993.8,300.9 994.2,297.7 994.7,302.2 995.2,298.6 995.6,298.8 996.1,297.4 996.5,300.0 997.0,299.9 997.5,300.4 997.9,295.9 998.4,299.9 998.9,296.5 999.3,298.0 999.8,300.3 1000.3,302.3 1000.7,296.5 1001.2,294.4 1001.6,297.7 1002.1,300.8 1002.6,296.6 1003.0,304.8 1003.5,292.6 1004.0,302.3 1004.4,300.9 1004.9,300.4 1005.3,294.6 1005.8,301.1 1006.3,300.5 1006.7,300.6 1007.2,295.9 1007.7,296.3 1008.1,300.7 1008.6,297.6 1009.0,295.3 1009.5,294.3 1010.0,297.4 1010.4,292.6 1010.9,298.8 1011.4,297.4 1011.8,292.6 1012.3,298.6 1012.7,300.6 1013.2,298.0 1013.7,293.9 1014.1,295.9 1014.6,300.2 1015.1,293.6 1015.5,296.5 1016.0,300.8 1016.4,296.6 1016.9,295.6 1017.4,300.0 1017.8,302.3 1018.3,299.0 1018.8,293.9 1019.2,292.7 1019.7,296.4 1020.1,291.4 1020.6,296.6 1021.1,299.5 1021.5,289.0 1022.0,296.0"/>
<polyline fill="none" stroke="none" marker-start="url(#m1)" marker-mid="url(#m1)" marker-end="url(#m1)" points="97.0,358.1 97.5,360.5 97.9,353.4 98.4,365.4 98.9,374.0 99.3,358.8 99.8,356.9 100.2,356.3 100.7,353.6 101.2,357.6 101.6,365.9 102.1,371.5 102.6,358.8 103.0,368.2 103.5,361.0 103.9,372.9 104.4,371.7 104.9,369.0 105.3,356.5 105.8,356.3 106.3,366.5 106.7,359.8 107.2,362.3 107.6,355.1 108.1,361.6 108.6,359.5 109.0,360.9 109.5,363.1 110.0,376.3 110.4,357.9 110.9,375.7 111.3,358.5 111.8,364.5 112.3,366.5 112.7,360.1 113.2,358.8 113.7,364.3 114.1,361.3 114.6,358.2 115.0,360.6 115.5,360.6 116.0,358.6 116.4,364.4 116.9,359.3 117.4,355.4 117.8,367.7 118.3,371.2 118.7,377.2 119.2,366.2 119.7,357.8 120.1,351.6 120.6,364.8 121.1,368.9 121.5,373.5 122.0,358.8 122.5,358.8 122.9,375.0 123.4,372.8 123.8,369.5 124.3,354.7 124.8,369.5 125.2,358.5 125.7,368.9 126.2,369.0 126.6,367.7 127.1,367.2 127.5,353.0 128.0,367.4 128.5,375.7 128.9,373.6 129.4,374.0 129.9,370.1 130.3,369.4 130.8,372.8 131.2,356.1 131.7,361.2 132.2,370.3 132.6,359.9 133.1,354.5 133.6,375.8 134.0,357.9 134.5,359.2 134.9,354.2 135.4,354.2 135.9,358.7 136.3,364.0 136.8,373.4 137.3,354.6 137.7,360.2 138.2,354.4 138.6,369.6 139.1,357.1 139.6,359.9 140.0,353.6 140.5,370.3 141.0,369.9 141.4,358.8 141.9,353.2 142.3,356.0 142.8,353.0 143.3,354.1 143.7,371.6 144.2,359.4 144.7,351.9 145.1,367.9 145.6,368.2 146.0,365.6 146.5,367.1 147.0,364.4 147.4,369.4 147.9,364.3 148.4,372.4 148.8,361.6 149.3,357.3 149.8,370.2 150.2,365.4 150.7,361.8 151.1,355.0 151.6,350.6 152.1,371.5 152.5,368.5 153.0,368.0 153.5,355.6 153.9,358.0 154.4,355.2 154.8,357.3 155.3,369.5 155.8,366.6 156.2,371.3 156.7,359.7 157.2,358.5 157.6,355.0 158.1,356.9 158.5,350.8 159.0,352.0 159.5,365.3 159.9,352.4 160.4,370.2 160.9,365.2 161.3,365.4 161.8,349.9 162.2,352.4 162.7,362.6 163.2,357.7 163.6,353.9 164.1,357.4 164.6,359.1 165.0,368.8 165.5,367.8 165.9,354.5 166.4,365.8 166.9,347.0 167.3,355.0 167.8,352.2 168.3,351.0 168.7,365.6 169.2,355.3 169.6,370.6 170.1,365.6 170.6,364.5 171.0,359.0 171.5,356.8 172.0,370.8 172.4,367.2 172.9,363.1 173.4,372.6 173.8,372.7 174.3,367.1 174.7,370.4 175.2,373.0 175.7,377.7 176.1,373.3 176.6,371.1 177.1,369.0 177.5,368.2 178.0,369.4 178.4,367.8 178.9,372.0 179.4,356.8 179.8,355.7 180.3,366.2 180.8,369.4 181.2,368.5 181.7,371.1 182.1,367.2 182.6,360.1 183.1,357.5 183.5,364.2 184.0,355.4 184.5,365.2 184.9,368.7 185.4,371.5 185.8,378.3 186.3,362.7 186.8,368.1 187.2,369.3 187.7,373.9 188.2,358.2 188.6,359.9 189.1,358.4 189.5,361.7 190.0,369.2 190.5,353.3 190.9,367.2 191.4,369.9 191.9,354.2 192.3,356.5 192.8,355.2 193.2,355.5 193.7,356.2 194.2,354.9 194.6,372.1 195.1,356.1 195.6,358.6 196.0,364.2 196.5,368.9 196.9,367.1 197.4,362.4 197.9,375.3 198.3,364.8 198.8,358.4 199.3,370.4 199.7,371.5 200.2,352.9 200.7,345.6 201.1,356.1 201.6,353.9 202.0,356.3 202.5,353.8 203.0,358.5 203.4,355.7 203.9,365.4 204.4,374.8 204.8,365.1 205.3,359.5 205.7,353.5 206.2,355.1 206.7,356.1 207.1,365.6 207.6,354.8 208.1,365.6 208.5,353.8 209.0,356.8 209.4,365.8 209.9,370.1 210.4,366.3 210.8,367.3 211.3,353.4 211.8,358.6 212.2,354.4 212.7,351.2 213.1,354.8 213.6,359.2 214.1,356.1 214.5,351.5 215.0,352.5 215.5,364.7 215.9,359.9 216.4,355.9 216.8,358.2 217.3,371.3 217.8,355.0 218.2,360.3 218.7,356.3 219.2,371.0 219.6,364.0 220.1,370.3 220.5,369.1 221.0,355.1 221.5,371.5 221.9,354.0 222.4,357.2 222.9,363.3 223.3,357.4 223.8,369.2 224.3,364.6 224.7,359.2 225.2,373.7 225.6,362.1 226.1,369.7 226.6,354.1 227.0,374.9 227.5,373.7 228.0,358.4 228.4,371.8 228.9,371.8 229.3,371.9 229.8,374.3 230.3,373.6 230.7,358.3 231.2,356.3 231.7,364.5 232.1,370.2 232.6,368.6 233.0,378.4 233.5,371.6 234.0,370.6 234.4,353.6 234.9,354.6 235.4,362.6 235.8,356.9 236.3,361.3 236.7,353.6 237.2,372.7 237.7,357.9 238.1,368.9 238.6,363.8 239.1,373.2 239.5,369.2 240.0,368.5 240.4,370.8 240.9,364.6 241.4,359.8 241.8,370.3 242.3,356.9 242.8,356.7 243.2,366.0 243.7,367.3 244.1,356.9 244.6,353.8 245.1,360.2 245.5,371.0 246.0,372.4 246.5,363.6 246.9,360.9 247.4,354.0 247.9,352.6 248.3,367.0 248.8,372.5 249.2,357.1 249.7,357.0 250.2,359.3 250.6,359.2 251.1,359.7 251.6,372.3 252.0,357.6 252.5,358.0 252.9,365.6 253.4,368.8 253.9,362.3 254.3,369.1 254.8,369.8 255.3,367.3 255.7,367.4 256.2,372.3 256.6,354.7 257.1,332.5 257.6,375.1 258.0,357.4 258.5,371.9 259.0,369.9 259.4,370.5 259.9,359.0 260.3,354.3 260.8,357.6 261.3,353.3 261.7,353.3 262.2,356.6 262.7,353.2 263.1,359.8 263.6,354.6 264.0,372.2 264.5,351.7 265.0,357.5 265.4,354.3 265.9,350.4 266.4,354.3 266.8,348.0 267.3,372.8 267.7,367.6 268.2,356.9 268.7,355.5 269.1,363.7 269.6,367.3 270.1,360.0 270.5,371.3 271.0,367.6 271.4,366.6 271.9,368.2 272.4,364.4 272.8,369.4 273.3,363.5 273.8,352.9 274.2,371.3 274.7,368.9 275.2,367.3 275.6,357.0 276.1,355.7 276.5,357.6 277.0,373.6 277.5,357.1 277.9,365.7 278.4,372.6 278.9,356.0 279.3,362.7 279.8,362.4 280.2,358.5 280.7,360.6 281.2,354.1 281.6,353.0 282.1,370.5 282.6,359.5 283.0,375.8 283.5,369.0 283.9,368.2 284.4,368.3 284.9,355.7 285.3,359.4 285.8,367.2 286.3,374.3 286.7,368.0 287.2,379.3 287.6,371.7 288.1,372.0 288.6,353.3 289.0,359.3 289.5,351.9 290.0,361.2 290.4,356.5 290.9,359.6 291.3,360.8 291.8,374.9 292.3,376.3 292.7,375.8 293.2,375.0 293.7,370.5 294.1,368.9 294.6,374.5 295.0,373.0 295.5,370.8 296.0,359.0 296.4,375.2 296.9,374.6 297.4,357.0 297.8,367.5 298.3,351.8 298.8,369.8 299.2,357.6 299.7,367.4 300.1,362.0 300.6,377.3 301.1,355.4 301.5,373.3 302.0,357.5 302.5,372.9 302.9,371.2 303.4,357.3 303.8,373.4 304.3,359.3 304.8,355.6 305.2,371.4 305.7,354.7 306.2,356.4 306.6,371.6 307.1,371.4 307.5,351.7 308.0,371.3 308.5,352.1 308.9,369.6 309.4,357.7 309.9,363.4 310.3,364.5 310.8,357.5 311.2,368.8 311.7,347.1 312.2,369.5 312.6,351.7 313.1,363.2 313.6,354.9 314.0,351.9 314.5,353.8 314.9,367.8 315.4,362.6 315.9,358.2 316.3,355.7 316.8,368.5 317.3,369.7 317.7,369.8 318.2,366.3 318.6,370.2 319.1,352.7 319.6,353.5 320.0,368.1 320.5,372.0 321.0,358.8 321.4,346.2 321.9,373.5 322.4,369.8 322.8,370.2 323.3,374.3 323.7,353.9 324.2,352.4 324.7,362.8 325.1,352.3 325.6,372.0 326.1,354.2 326.5,353.4 327.0,371.6 327.4,367.7 327.9,355.5 328.4,355.6 328.8,359.3 329.3,369.1 329.8,356.6 330.2,357.3 330.7,365.4 331.1,370.4 331.6,352.1 332.1,353.8 332.5,355.9 333.0,371.1 333.5,356.1 333.9,360.2 334.4,369.8 334.8,357.9 335.3,367.7 335.8,353.8 336.2,361.6 336.7,364.0 337.2,359.8 337.6,366.3 338.1,358.6 338.5,351.3 339.0,370.2 339.5,355.8 339.9,347.4 340.4,365.1 340.9,355.8 341.3,357.0 341.8,367.3 342.2,365.0 342.7,353.5 343.2,362.7 343.6,363.7 344.1,354.4 344.6,366.3 345.0,355.0 345.5,353.2 345.9,367.2 346.4,364.6 346.9,366.5 347.3,372.2 347.8,348.5 348.3,351.9 348.7,362.8 349.2,353.1 349.7,366.2 350.1,362.5 350.6,352.8 351.0,366.0 351.5,365.3 352.0,353.6 352.4,370.6 352.9,368.3 353.4,365.1 353.8,353.5 354.3,359.0 354.7,350.4 355.2,355.9 355.7,362.9 356.1,347.0 356.6,350.2 357.1,353.2 357.5,364.8 358.0,350.6 358.4,363.8 358.9,363.7 359.4,350.1 359.8,351.7 360.3,359.1 360.8,355.5 361.2,367.9 361.7,354.1 362.1,369.4 362.6,351.2 363.1,366.5 363.5,345.1 364.0,355.0 364.5,366.1 364.9,369.1 365.4,357.1 365.8,353.8 366.3,350.6 366.8,368.5 367.2,357.4 367.7,370.7 368.2,353.5 368.6,365.0 369.1,366.8 369.5,350.6 370.0,360.5 370.5,355.4 370.9,368.4 371.4,355.8 371.9,350.5 372.3,366.3 372.8,349.4 373.3,362.1 373.7,367.8 374.2,347.4 374.6,365.8 375.1,373.7 375.6,369.3 376.0,367.9 376.5,367.4 377.0,351.4 377.4,350.1 377.9,358.7 378.3,364.6 378.8,350.1 379.3,367.2 379.7,364.7 380.2,356.4 380.7,350.1 381.1,349.7 381.6,351.3 382.0,358.0 382.5,368.4 383.0,353.1 383.4,365.8 383.9,353.8 384.4,349.6 384.8,354.7 385.3,351.1 385.7,353.9 386.2,352.8 386.7,366.9 387.1,363.8 387.6,368.4 388.1,366.4 388.5,349.8 389.0,353.5 389.4,351.3 389.9,367.2 390.4,369.1 390.8,365.1 391.3,366.5 391.8,353.8 392.2,353.7 392.7,373.3 393.1,368.3 393.6,363.6 394.1,355.1 394.5,353.3 395.0,375.5 395.5,352.8 395.9,351.4 396.4,357.5 396.8,377.6 397.3,366.6 397.8,354.2 398.2,365.8 398.7,353.5 399.2,360.0 399.6,366.7 400.1,369.0 400.6,360.4 401.0,367.2 401.5,356.9 401.9,351.6 402.4,371.2 402.9,373.9 403.3,354.8 403.8,365.7 404.3,367.1 404.7,371.7 405.2,376.3 405.6,358.4 406.1,350.7 406.6,351.3 407.0,368.0 407.5,369.5 408.0,357.6 408.4,371.3 408.9,362.9 409.3,366.5 409.8,355.9 410.3,367.3 410.7,357.4 411.2,353.7 411.7,365.2 412.1,374.8 412.6,359.6 413.0,354.7 413.5,348.5 414.0,353.4 414.4,354.5 414.9,352.3 415.4,356.0 415.8,350.2 416.3,354.5 416.7,365.0 417.2,360.5 417.7,345.5 418.1,373.9 418.6,357.9 419.1,369.3 419.5,354.1 420.0,368.1 420.4,355.3 420.9,351.4 421.4,355.5 421.8,351.9 422.3,349.1 422.8,361.5 423.2,351.6 423.7,348.8 424.2,350.9 424.6,344.6 425.1,344.1 425.5,352.8 426.0,348.5 426.5,343.0 426.9,340.9 427.4,344.9 427.9,341.6 428.3,348.1 428.8,338.0 429.2,346.8 429.7,339.6 430.2,338.4 430.6,341.8 431.1,337.4 431.6,338.9 432.0,338.5 432.5,332.4 432.9,335.6 433.4,339.6 433.9,332.0 434.3,333.7 434.8,334.8 435.3,340.0 435.7,339.7 436.2,341.2 436.6,333.6 437.1,338.6 437.6,336.6 438.0,331.8 438.5,336.9 439.0,335.1 439.4,332.9 439.9,331.4 440.3,329.5 440.8,335.6 441.3,335.1 441.7,332.7 442.2,332.1 442.7,331.2 443.1,335.0 443.6,333.1 444.0,326.9 444.5,332.2 445.0,333.1 445.4,329.6 445.9,329.7 446.4,329.1 446.8,332.5 447.3,329.2 447.8,330.0 448.2,330.1 448.7,334.2 449.1,324.8 449.6,336.0 450.1,325.2 450.5,327.9 451.0,325.8 451.5,328.4 451.9,329.4 452.4,334.4 452.8,330.8 453.3,324.9 453.8,327.3 454.2,326.8 454.7,324.2 455.2,327.7 455.6,326.4 456.1,324.0 456.5,323.0 457.0,327.0 457.5,324.2 457.9,327.9 458.4,326.6 458.9,320.1 459.3,317.2 459.8,323.4 460.2,321.0 460.7,319.6 461.2,320.3 461.6,326.5 462.1,321.2 462.6,327.1 463.0,323.3 463.5,315.3 463.9,321.4 464.4,324.1 464.9,313.8 465.3,314.8 465.8,317.9 466.3,316.1 466.7,322.4 467.2,314.2 467.6,321.5 468.1,311.7 468.6,312.8 469.0,316.0 469.5,316.1 470.0,314.5 470.4,318.4 470.9,318.6 471.3,318.6 471.8,311.9 472.3,314.4 472.7,310.5 473.2,315.1 473.7,303.4 474.1,308.0 474.6,308.8 475.1,307.5 475.5,313.3 476.0,303.9 476.4,305.1 476.9,303.5 477.4,306.6 477.8,303.5 478.3,308.6 478.8,308.0 479.2,298.5 479.7,297.9 480.1,306.4 480.6,304.6 481.1,298.2 481.5,302.4 482.0,298.3 482.5,304.0 482.9,297.1 483.4,298.8 483.8,301.6 484.3,299.9 484.8,302.6 485.2,300.3 485.7,294.2 486.2,299.0 486.6,294.5 487.1,301.9 487.5,301.9 488.0,300.2 488.5,303.0 488.9,298.5 489.4,300.1 489.9,298.1 490.3,297.6 490.8,297.2 491.2,295.1 491.7,299.2 492.2,290.1 492.6,288.3 493.1,290.3 493.6,297.1 494.0,291.1 494.5,289.1 494.9,288.6 495.4,292.2 495.9,290.2 496.3,293.6 496.8,288.7 497.3,292.0 497.7,286.3 498.2,290.2 498.7,297.3 499.1,287.2 499.6,287.0 500.0,290.0 500.5,283.7 501.0,284.9 501.4,284.3 501.9,286.3 502.4,281.1 502.8,289.1 503.3,284.8 503.7,284.6 504.2,283.2 504.7,283.2 505.1,276.0 505.6,286.3 506.1,279.3 506.5,284.0 507.0,280.6 507.4,280.0 507.9,281.6 508.4,284.7 508.8,278.9 509.3,277.0 509.8,279.7 510.2,270.4 510.7,274.8 511.1,273.9 511.6,275.3 512.1,271.9 512.5,278.1 513.0,274.1 513.5,275.0 513.9,274.2 514.4,272.7 514.8,271.2 515.3,276.6 515.8,274.8 516.2,276.3 516.7,270.9 517.2,271.7 517.6,271.5 518.1,269.0 518.5,269.4 519.0,264.2 519.5,265.0 519.9,265.3 520.4,264.3 520.9,268.7 521.3,268.2 521.8,268.0 522.3,265.7 522.7,269.2 523.2,268.6 523.6,267.2 524.1,264.1 524.6,269.5 525.0,260.9 525.5,259.3 526.0,259.9 526.4,267.1 526.9,263.5 527.3,261.1 527.8,255.5 528.3,261.5 528.7,258.9 529.2,255.3 529.7,264.5 530.1,261.0 530.6,264.7 531.0,260.2 531.5,261.6 532.0,257.5 532.4,261.1 532.9,257.7 533.4,260.4 533.8,258.9 534.3,254.7 534.7,257.7 535.2,257.8 535.7,254.9 536.1,256.3 536.6,259.1 537.1,259.7 537.5,255.8 538.0,248.4 538.4,257.1 538.9,260.0 539.4,253.4 539.8,251.2 540.3,253.9 540.8,253.3 541.2,254.2 541.7,251.1 542.1,255.0 542.6,253.1 543.1,249.2 543.5,252.6 544.0,250.1 544.5,251.2 544.9,250.2 545.4,249.3 545.8,249.4 546.3,247.7 546.8,246.7 547.2,247.2 547.7,246.8 548.2,247.6 548.6,246.9 549.1,243.2 549.6,247.3 550.0,245.3 550.5,246.6 550.9,245.9 551.4,244.7 551.9,244.9 552.3,240.9 552.8,245.9 553.3,246.2 553.7,243.5 554.2,241.1 554.6,242.9 555.1,240.6 555.6,243.8 556.0,239.7 556.5,238.0 557.0,238.2 557.4,238.0 557.9,240.3 558.3,238.5 558.8,238.7 559.3,237.4 559.7,240.3 560.2,237.9 560.7,238.1 561.1,240.5 561.6,238.1 562.0,236.5 562.5,237.0 563.0,239.4 563.4,237.9 563.9,235.7 564.4,239.1 564.8,234.3 565.3,233.0 565.7,235.0 566.2,233.3 566.7,236.2 567.1,236.6 567.6,235.9 568.1,235.3 568.5,234.3 569.0,237.8 569.4,232.5 569.9,237.3 570.4,236.3 570.8,235.7 571.3,236.5 571.8,232.8 572.2,237.2 572.7,236.3 573.2,237.2 573.6,231.4 574.1,235.4 574.5,234.5 575.0,230.5 575.5,233.9 575.9,234.4 576.4,232.8 576.9,234.7 577.3,234.9 577.8,233.0 578.2,233.0 578.7,234.9 579.2,231.6 579.6,234.1 580.1,235.4 580.6,232.9 581.0,233.4 581.5,232.7 581.9,234.0 582.4,229.6 582.9,229.1 583.3,230.5 583.8,230.8 584.3,233.5 584.7,234.1 585.2,232.6 585.6,233.7 586.1,230.7 586.6,230.4 587.0,228.5 587.5,233.3 588.0,232.1 588.4,231.0 588.9,228.6 589.3,229.1 589.8,231.7 590.3,230.8 590.7,232.7 591.2,231.0 591.7,229.3 592.1,228.4 592.6,230.5 593.0,233.4 593.5,233.9 594.0,229.0 594.4,231.1 594.9,228.9 595.4,230.6 595.8,224.9 596.3,228.8 596.7,226.6 597.2,232.5 597.7,229.1 598.1,230.5 598.6,229.7 599.1,227.2 599.5,230.6 600.0,231.4 600.5,229.8 600.9,230.3 601.4,231.4 601.8,230.5 602.3,229.3 602.8,226.7 603.2,228.2 603.7,228.5 604.2,231.3 604.6,232.4 605.1,230.1 605.5,232.0 606.0,226.0 606.5,230.9 606.9,228.3 607.4,232.2 607.9,232.9 608.3,232.8 608.8,232.3 609.2,233.0 609.7,234.2 610.2,230.3 610.6,234.3 611.1,231.2 611.6,229.6 612.0,233.4 612.5,234.0 612.9,233.5 613.4,232.1 613.9,234.6 614.3,233.4 614.8,238.5 615.3,235.1 615.7,235.5 616.2,234.1 616.6,236.4 617.1,238.6 617.6,234.6 618.0,235.5 618.5,233.3 619.0,237.2 619.4,240.8 619.9,236.3 620.3,238.4 620.8,238.3 621.3,239.7 621.7,239.4 622.2,240.6 622.7,239.7 623.1,242.6 623.6,244.4 624.1,244.5 624.5,240.2 625.0,246.4 625.4,245.8 625.9,247.0 626.4,243.9 626.8,244.8 627.3,247.6 627.8,250.0 628.2,245.6 628.7,248.3 629.1,249.0 629.6,248.1 630.1,250.4 630.5,248.0 631.0,254.5 631.5,245.1 631.9,252.1 632.4,249.7 632.8,251.5 633.3,249.0 633.8,242.2 634.2,257.8 634.7,255.5 635.2,254.7 635.6,253.5 636.1,255.0 636.5,253.2 637.0,255.0 637.5,259.7 637.9,253.2 638.4,252.7 638.9,262.3 639.3,254.6 639.8,257.3 640.2,256.3 640.7,259.2 641.2,259.7 641.6,258.3 642.1,254.9 642.6,255.3 643.0,259.1 643.5,265.4 643.9,253.5 644.4,259.5 644.9,261.7 645.3,258.6 645.8,261.6 646.3,260.8 646.7,264.2 647.2,267.4 647.7,261.1 648.1,263.5 648.6,264.3 649.0,263.6 649.5,263.5 650.0,256.5 650.4,264.4 650.9,260.8 651.4,263.2 651.8,266.5 652.3,267.3 652.7,264.2 653.2,264.4 653.7,265.4 654.1,263.1 654.6,272.2 655.1,273.2 655.5,267.0 656.0,273.4 656.4,270.9 656.9,265.0 657.4,272.0 657.8,271.5 658.3,270.1 658.8,265.0 659.2,268.2 659.7,262.8 660.1,270.8 660.6,270.2 661.1,267.6 661.5,267.4 662.0,276.4 662.5,267.1 662.9,275.0 663.4,273.1 663.8,277.2 664.3,267.8 664.8,273.9 665.2,278.0 665.7,273.6 666.2,269.6 666.6,268.1 667.1,272.6 667.5,278.6 668.0,280.6 668.5,276.0 668.9,279.0 669.4,279.7 669.9,278.6 670.3,274.0 670.8,279.6 671.2,274.0 671.7,278.1 672.2,280.6 672.6,281.9 673.1,278.1 673.6,282.6 674.0,284.2 674.5,282.6 675.0,279.5 675.4,281.0 675.9,280.3 676.3,280.7 676.8,283.2 677.3,284.7 677.7,281.4 678.2,284.1 678.7,282.7 679.1,282.7 679.6,279.1 680.0,284.0 680.5,282.7 681.0,284.5 681.4,287.3 681.9,286.9 682.4,287.2 682.8,283.5 683.3,280.2 683.7,284.7 684.2,286.4 684.7,287.5 685.1,291.8 685.6,288.7 686.1,292.9 686.5,287.1 687.0,285.3 687.4,292.2 687.9,286.0 688.4,284.9 688.8,288.7 689.3,292.1 689.8,295.1 690.2,291.9 690.7,295.3 691.1,292.6 691.6,287.6 692.1,289.8 692.5,288.3 693.0,293.6 693.5,287.7 693.9,290.3 694.4,292.8 694.8,299.0 695.3,298.1 695.8,295.3 696.2,297.5 696.7,296.3 697.2,306.5 697.6,292.1 698.1,291.1 698.6,291.7 699.0,293.6 699.5,297.5 699.9,302.1 700.4,297.4 700.9,297.8 701.3,297.7 701.8,299.0 702.3,295.2 702.7,300.0 703.2,298.0 703.6,299.6 704.1,300.6 704.6,300.7 705.0,302.2 705.5,298.1 706.0,302.8 706.4,296.9 706.9,295.4 707.3,301.2 707.8,303.9 708.3,304.3 708.7,303.9 709.2,306.2 709.7,298.7 710.1,302.9 710.6,304.2 711.0,302.6 711.5,306.3 712.0,307.1 712.4,306.6 712.9,305.9 713.4,313.5 713.8,306.9 714.3,306.4 714.7,309.9 715.2,311.5 715.7,303.2 716.1,303.2 716.6,310.9 717.1,310.3 717.5,309.7 718.0,306.5 718.4,309.7 718.9,303.4 719.4,304.1 719.8,312.2 720.3,304.4 720.8,308.0 721.2,311.0 721.7,310.0 722.2,305.7 722.6,307.1 723.1,310.9 723.5,307.9 724.0,314.5 724.5,309.0 724.9,314.7 725.4,309.4 725.9,313.2 726.3,310.4 726.8,309.3 727.2,305.1 727.7,310.9 728.2,309.4 728.6,310.7 729.1,308.3 729.6,306.9 730.0,306.8 730.5,310.1 730.9,313.6 731.4,310.4 731.9,308.0 732.3,308.8 732.8,308.4 733.3,307.4 733.7,311.9 734.2,311.8 734.6,312.9 735.1,319.9 735.6,317.1 736.0,319.0 736.5,314.4 737.0,315.8 737.4,312.7 737.9,309.9 738.3,310.9 738.8,315.3 739.3,317.7 739.7,323.4 740.2,316.3 740.7,312.3 741.1,315.7 741.6,318.2 742.0,313.0 742.5,315.1 743.0,317.5 743.4,316.8 743.9,318.1 744.4,317.1 744.8,316.6 745.3,321.3 745.7,320.1 746.2,318.7 746.7,320.2 747.1,318.2 747.6,318.2 748.1,320.0 748.5,319.7 749.0,326.9 749.5,320.2 749.9,321.1 750.4,325.8 750.8,317.1 751.3,320.1 751.8,323.3 752.2,320.4 752.7,318.9 753.2,316.0 753.6,318.4 754.1,316.1 754.5,321.4 755.0,319.6 755.5,316.6 755.9,320.5 756.4,313.4 756.9,314.7 757.3,319.5 757.8,317.8 758.2,313.8 758.7,314.9 759.2,316.4 759.6,315.4 760.1,318.5 760.6,317.8 761.0,319.2 761.5,318.0 761.9,319.6 762.4,317.0 762.9,319.0 763.3,319.3 763.8,320.9 764.3,319.9 764.7,317.8 765.2,318.5 765.6,322.5 766.1,317.5 766.6,318.3 767.0,322.7 767.5,320.1 768.0,320.9 768.4,316.1 768.9,316.0 769.3,319.8 769.8,325.2 770.3,313.4 770.7,314.0 771.2,320.5 771.7,319.8 772.1,316.8 772.6,322.6 773.1,320.7 773.5,318.7 774.0,320.0 774.4,319.2 774.9,321.7 775.4,319.0 775.8,317.2 776.3,318.7 776.8,322.2 777.2,324.6 777.7,319.4 778.1,318.6 778.6,322.4 779.1,325.1 779.5,320.8 780.0,326.7 780.5,319.8 780.9,326.7 781.4,324.8 781.8,318.1 782.3,324.5 782.8,322.4 783.2,322.4 783.7,320.5 784.2,322.9 784.6,320.5 785.1,323.5 785.5,326.4 786.0,327.1 786.5,326.0 786.9,325.2 787.4,323.7 787.9,322.3 788.3,319.7 788.8,325.6 789.2,321.5 789.7,323.3 790.2,318.6 790.6,324.0 791.1,326.6 791.6,322.1 792.0,325.2 792.5,322.0 792.9,322.9 793.4,320.9 793.9,314.3 794.3,323.7 794.8,324.3 795.3,324.6 795.7,328.2 796.2,326.0 796.6,324.5 797.1,321.2 797.6,331.9 798.0,319.2 798.5,322.0 799.0,321.7 799.4,326.2 799.9,323.7 800.4,324.4 800.8,317.8 801.3,321.6 801.7,326.3 802.2,321.6 802.7,319.8 803.1,324.3 803.6,322.2 804.1,324.1 804.5,325.6 805.0,321.8 805.4,324.7 805.9,329.2 806.4,324.5 806.8,324.1 807.3,323.2 807.8,326.7 808.2,327.5 808.7,323.1 809.1,326.5 809.6,331.1 810.1,321.2 810.5,329.0 811.0,328.6 811.5,321.5 811.9,321.4 812.4,324.1 812.8,330.5 813.3,324.3 813.8,326.4 814.2,326.5 814.7,325.3 815.2,331.5 815.6,326.5 816.1,321.7 816.5,326.0 817.0,327.3 817.5,322.6 817.9,326.8 818.4,324.3 818.9,322.5 819.3,323.6 819.8,328.7 820.2,325.9 820.7,321.7 821.2,329.1 821.6,325.9 822.1,318.1 822.6,323.4 823.0,319.1 823.5,324.5 824.0,335.2 824.4,333.2 824.9,327.8 825.3,324.6 825.8,323.5 826.3,324.7 826.7,327.5 827.2,330.1 827.7,326.5 828.1,330.1 828.6,325.9 829.0,320.0 829.5,327.4 830.0,329.8 830.4,328.1 830.9,329.8 831.4,323.8 831.8,325.8 832.3,326.7 832.7,328.3 833.2,328.6 833.7,329.5 834.1,325.2 834.6,323.5 835.1,325.3 835.5,326.4 836.0,325.5 836.4,324.1 836.9,329.5 837.4,329.6 837.8,329.2 838.3,328.8 838.8,328.2 839.2,325.2 839.7,325.1 840.1,326.9 840.6,320.3 841.1,326.4 841.5,319.9 842.0,331.3 842.5,327.4 842.9,323.4 843.4,325.2 843.8,323.4 844.3,330.0 844.8,329.3 845.2,326.1 845.7,323.8 846.2,327.7 846.6,327.2 847.1,326.1 847.6,325.1 848.0,321.7 848.5,322.6 848.9,324.2 849.4,321.7 849.9,323.7 850.3,332.6 850.8,327.0 851.3,329.1 851.7,324.8 852.2,331.0 852.6,327.6 853.1,329.5 853.6,330.5 854.0,329.1 854.5,333.3 855.0,324.3 855.4,325.6 855.9,327.9 856.3,326.3 856.8,328.2 857.3,333.1 857.7,325.7 858.2,327.2 858.7,324.8 859.1,324.0 859.6,320.5 860.0,328.2 860.5,331.6 861.0,327.2 861.4,330.9 861.9,323.0 862.4,326.5 862.8,326.7 863.3,328.7 863.7,326.3 864.2,327.7 864.7,330.9 865.1,322.8 865.6,325.4 866.1,327.6 866.5,323.8 867.0,327.0 867.4,320.3 867.9,322.7 868.4,325.3 868.8,320.6 869.3,332.1 869.8,331.0 870.2,329.2 870.7,327.8 871.1,328.1 871.6,324.6 872.1,324.6 872.5,318.7 873.0,327.2 873.5,324.4 873.9,318.8 874.4,322.5 874.9,326.8 875.3,321.0 875.8,324.8 876.2,319.8 876.7,324.6 877.2,325.8 877.6,318.8 878.1,324.0 878.6,327.6 879.0,325.0 879.5,330.8 879.9,329.3 880.4,329.7 880.9,322.3 881.3,323.1 881.8,327.4 882.3,328.5 882.7,325.5 883.2,326.4 883.6,324.2 884.1,325.7 884.6,328.4 885.0,331.1 885.5,328.7 886.0,329.8 886.4,327.3 886.9,328.3 887.3,329.6 887.8,323.9 888.3,329.8 888.7,329.6 889.2,331.0 889.7,329.5 890.1,325.8 890.6,326.8 891.0,328.4 891.5,320.6 892.0,326.4 892.4,327.0 892.9,327.6 893.4,326.0 893.8,325.5 894.3,327.7 894.7,326.6 895.2,332.2 895.7,328.4 896.1,328.2 896.6,330.9 897.1,327.9 897.5,328.5 898.0,332.1 898.5,330.7 898.9,327.2 899.4,324.4 899.8,326.4 900.3,330.0 900.8,323.0 901.2,326.6 901.7,326.7 902.2,322.3 902.6,330.5 903.1,326.1 903.5,322.7 904.0,324.2 904.5,328.6 904.9,331.5 905.4,328.5 905.9,329.0 906.3,327.4 906.8,332.7 907.2,331.7 907.7,322.6 908.2,327.2 908.6,328.6 909.1,326.6 909.6,328.7 910.0,329.2 910.5,324.7 910.9,330.9 911.4,327.6 911.9,330.0 912.3,327.7 912.8,326.7 913.3,330.6 913.7,327.6 914.2,331.5 914.6,328.3 915.1,333.5 915.6,324.7 916.0,327.4 916.5,324.5 917.0,323.4 917.4,327.7 917.9,322.6 918.3,326.5 918.8,330.8 919.3,328.2 919.7,325.1 920.2,326.0 920.7,329.8 921.1,332.3 921.6,326.7 922.1,327.9 922.5,328.5 923.0,326.0 923.4,327.5 923.9,327.2 924.4,330.2 924.8,324.1 925.3,325.9 925.8,326.9 926.2,324.3 926.7,325.4 927.1,326.7 927.6,322.5 928.1,325.1 928.5,323.2 929.0,325.1 929.5,324.6 929.9,325.1 930.4,328.4 930.8,330.3 931.3,328.6 931.8,323.8 932.2,327.5 932.7,322.9 933.2,328.3 933.6,329.3 934.1,325.6 934.5,326.6 935.0,329.0 935.5,329.4 935.9,325.5 936.4,325.1 936.9,322.5 937.3,326.3 937.8,325.5 938.2,327.4 938.7,329.2 939.2,323.6 939.6,325.0 940.1,326.5 940.6,323.2 941.0,327.4 941.5,326.5 941.9,329.6 942.4,330.5 942.9,330.7 943.3,328.3 943.8,329.8 944.3,330.0 944.7,332.5 945.2,323.1 945.6,328.0 946.1,326.8 946.6,329.5 947.0,331.9 947.5,329.0 948.0,328.6 948.4,325.5 948.9,328.8 949.4,328.4 949.8,324.5 950.3,330.2 950.7,326.9 951.2,321.7 951.7,327.4 952.1,329.1 952.6,328.6 953.1,327.5 953.5,327.2 954.0,329.1 954.4,328.3 954.9,321.3 955.4,324.4 955.8,326.9 956.3,327.0 956.8,329.6 957.2,330.5 957.7,328.1 958.1,326.5 958.6,332.4 959.1,324.9 959.5,326.8 960.0,333.4 960.5,329.5 960.9,329.4 961.4,328.1 961.8,331.7 962.3,336.7 962.8,328.7 963.2,327.0 963.7,331.1 964.2,334.0 964.6,328.9 965.1,324.8 965.5,328.4 966.0,325.4 966.5,330.5 966.9,326.9 967.4,329.7 967.9,328.2 968.3,330.5 968.8,322.3 969.2,328.9 969.7,328.6 970.2,328.7 970.6,323.4 971.1,331.8 971.6,326.0 972.0,329.5 972.5,326.6 973.0,327.8 973.4,327.0 973.9,323.2 974.3,325.7 974.8,331.7 975.3,324.0 975.7,327.9 976.2,322.3 976.7,330.4 977.1,322.8 977.6,323.5 978.0,326.5 978.5,328.6 979.0,322.5 979.4,326.0 979.9,327.8 980.4,325.5 980.8,323.2 981.3,326.7 981.7,329.1 982.2,332.9 982.7,329.7 983.1,320.0 983.6,329.2 984.1,328.4 984.5,326.4 985.0,327.6 985.4,329.3 985.9,325.6 986.4,322.2 986.8,325.5 987.3,328.1 987.8,324.0 988.2,324.1 988.7,322.4 989.1,328.3 989.6,323.5 990.1,326.1 990.5,324.5 991.0,330.8 991.5,329.9 991.9,333.8 992.4,325.0 992.8,323.9 993.3,327.9 993.8,322.9 994.2,325.9 994.7,329.2 995.2,327.0 995.6,329.6 996.1,325.2 996.5,326.6 997.0,327.1 997.5,330.3 997.9,331.8 998.4,332.2 998.9,329.2 999.3,327.4 999.8,328.4 1000.3,329.6 1000.7,324.8 1001.2,326.5 1001.6,324.6 1002.1,331.4 1002.6,331.1 1003.0,327.5 1003.5,332.9 1004.0,330.7 1004.4,330.1 1004.9,332.7 1005.3,332.2 1005.8,328.1 1006.3,329.4 1006.7,327.6 1007.2,333.8 1007.7,331.4 1008.1,334.9 1008.6,330.0 1009.0,328.7 1009.5,335.5 1010.0,334.7 1010.4,328.1 1010.9,335.5 1011.4,330.1 1011.8,337.4 1012.3,334.1 1012.7,330.5 1013.2,331.7 1013.7,332.5 1014.1,324.2 1014.6,335.0 1015.1,332.2 1015.5,335.6 1016.0,325.3 1016.4,335.7 1016.9,333.1 1017.4,329.7 1017.8,338.7 1018.3,335.0 1018.8,329.4 1019.2,329.9 1019.7,334.3 1020.1,338.3 1020.6,334.1 1021.1,331.5 1021.5,338.8 1022.0,331.9"/>
<polyline fill="none" stroke="none" marker-start="url(#m2)" marker-mid="url(#m2)" marker-end="url(#m2)" points="97.0,242.5 97.5,244.7 97.9,240.7 98.4,242.4 98.9,239.4 99.3,243.9 99.8,243.4 100.2,241.6 100.7,238.0 101.2,240.9 101.6,245.4 102.1,239.1 102.6,241.3 103.0,235.9 103.5,238.2 103.9,224.2 104.4,243.8 104.9,243.7 105.3,239.7 105.8,247.3 106.3,234.4 106.7,237.9 107.2,244.9 107.6,245.7 108.1,247.2 108.6,239.8 109.0,238.1 109.5,237.9 110.0,239.1 110.4,243.1 110.9,240.7 111.3,240.3 111.8,242.9 112.3,240.2 112.7,241.4 113.2,244.8 113.7,238.1 114.1,240.3 114.6,237.7 115.0,241.7 115.5,236.5 116.0,237.3 116.4,241.5 116.9,234.2 117.4,245.2 117.8,241.9 118.3,239.5 118.7,238.7 119.2,240.9 119.7,240.4 120.1,236.6 120.6,240.6 121.1,238.0 121.5,239.2 122.0,240.4 122.5,240.1 122.9,238.8 123.4,239.3 123.8,238.4 124.3,239.0 124.8,243.8 125.2,243.5 125.7,236.9 126.2,233.6 126.6,241.9 127.1,244.8 127.5,239.3 128.0,241.2 128.5,240.2 128.9,241.2 129.4,238.9 129.9,240.4 130.3,239.6 130.8,239.6 131.2,240.9 131.7,236.5 132.2,243.4 132.6,240.7 133.1,241.4 133.6,239.1 134.0,236.0 134.5,241.0 134.9,239.7 135.4,234.3 135.9,244.5 136.3,245.7 136.8,240.5 137.3,242.6 137.7,245.5 138.2,243.6 138.6,234.4 139.1,245.7 139.6,236.8 140.0,240.3 140.5,246.2 141.0,240.0 141.4,238.5 141.9,242.6 142.3,241.5 142.8,236.5 143.3,245.9 143.7,241.7 144.2,241.4 144.7,241.7 145.1,242.1 145.6,245.4 146.0,241.0 146.5,239.9 147.0,243.1 147.4,242.6 147.9,243.7 148.4,238.9 148.8,242.8 149.3,243.5 149.8,239.2 150.2,243.5 150.7,241.8 151.1,245.8 151.6,246.6 152.1,242.8 152.5,238.8 153.0,241.8 153.5,239.9 153.9,240.4 154.4,246.4 154.8,244.2 155.3,242.0 155.8,239.9 156.2,243.3 156.7,246.4 157.2,243.9 157.6,242.5 158.1,242.4 158.5,245.2 159.0,244.5 159.5,242.1 159.9,235.6 160.4,243.0 160.9,241.3 161.3,240.9 161.8,244.1 162.2,239.1 162.7,242.2 163.2,241.9 163.6,237.6 164.1,240.2 164.6,241.2 165.0,244.0 165.5,242.6 165.9,241.2 166.4,243.6 166.9,235.9 167.3,240.8 167.8,239.7 168.3,243.3 168.7,246.8 169.2,244.1 169.6,245.1 170.1,244.8 170.6,247.1 171.0,239.5 171.5,244.0 172.0,240.3 172.4,241.1 172.9,244.0 173.4,243.9 173.8,241.3 174.3,244.3 174.7,241.8 175.2,241.5 175.7,241.7 176.1,242.2 176.6,244.9 177.1,244.9 177.5,240.9 178.0,240.3 178.4,239.5 178.9,242.0 179.4,241.6 179.8,242.2 180.3,238.0 180.8,241.6 181.2,239.3 181.7,238.2 182.1,241.1 182.6,240.5 183.1,242.9 183.5,242.7 184.0,241.0 184.5,242.5 184.9,241.8 185.4,240.9 185.8,238.8 186.3,243.7 186.8,243.3 187.2,243.1 187.7,237.9 188.2,237.8 188.6,240.8 189.1,242.9 189.5,240.4 190.0,243.4 190.5,237.4 190.9,241.2 191.4,234.3 191.9,238.2 192.3,237.9 192.8,242.1 193.2,238.8 193.7,240.1 194.2,242.6 194.6,238.8 195.1,242.6 195.6,237.9 196.0,244.2 196.5,238.1 196.9,237.9 197.4,242.3 197.9,244.5 198.3,236.2 198.8,243.8 199.3,244.5 199.7,242.3 200.2,237.8 200.7,238.7 201.1,242.2 201.6,235.0 202.0,243.7 202.5,245.6 203.0,237.7 203.4,238.4 203.9,243.2 204.4,239.1 204.8,242.8 205.3,239.9 205.7,239.9 206.2,241.5 206.7,243.4 207.1,243.7 207.6,242.1 208.1,245.7 208.5,246.1 209.0,244.6 209.4,238.5 209.9,241.0 210.4,242.3 210.8,243.8 211.3,245.9 211.8,240.9 212.2,245.9 212.7,239.2 213.1,243.2 213.6,241.5 214.1,242.3 214.5,246.2 215.0,241.7 215.5,242.6 215.9,247.3 216.4,243.9 216.8,239.5 217.3,240.0 217.8,241.8 218.2,244.1 218.7,244.4 219.2,238.7 219.6,240.7 220.1,240.8 220.5,244.0 221.0,245.5 221.5,243.8 221.9,245.5 222.4,243.6 222.9,244.2 223.3,248.2 223.8,246.5 224.3,243.0 224.7,243.5 225.2,247.4 225.6,244.1 226.1,242.0 226.6,244.7 227.0,240.2 227.5,244.2 228.0,242.0 228.4,244.4 228.9,249.3 229.3,244.1 229.8,240.4 230.3,238.6 230.7,243.8 231.2,242.5 231.7,278.0 232.1,241.7 232.6,243.2 233.0,240.1 233.5,242.9 234.0,245.0 234.4,242.3 234.9,247.7 235.4,241.3 235.8,241.3 236.3,247.3 236.7,243.2 237.2,242.0 237.7,241.2 238.1,245.1 238.6,241.4 239.1,241.8 239.5,238.3 240.0,239.5 240.4,242.4 240.9,239.7 241.4,242.2 241.8,246.7 242.3,244.0 242.8,246.2 243.2,240.9 243.7,245.4 244.1,242.4 244.6,245.5 245.1,240.3 245.5,244.0 246.0,245.7 246.5,243.9 246.9,243.8 247.4,242.1 247.9,236.4 248.3,241.0 248.8,241.5 249.2,246.3 249.7,243.8 250.2,240.9 250.6,246.6 251.1,244.9 251.6,238.6 252.0,246.4 252.5,243.9 252.9,250.0 253.4,245.3 253.9,238.4 254.3,245.7 254.8,243.0 255.3,241.4 255.7,243.2 256.2,244.0 256.6,241.3 257.1,239.6 257.6,244.6 258.0,243.4 258.5,239.2 259.0,245.7 259.4,241.5 259.9,247.2 260.3,245.7 260.8,241.4 261.3,243.6 261.7,239.0 262.2,242.4 262.7,236.8 263.1,238.6 263.6,241.8 264.0,243.8 264.5,244.4 265.0,245.8 265.4,245.5 265.9,241.8 266.4,243.1 266.8,241.9 267.3,243.3 267.7,238.7 268.2,241.0 268.7,247.2 269.1,243.9 269.6,241.5 270.1,245.7 270.5,244.8 271.0,244.1 271.4,243.4 271.9,242.2 272.4,244.7 272.8,244.8 273.3,244.4 273.8,248.3 274.2,244.4 274.7,245.3 275.2,248.1 275.6,246.7 276.1,238.8 276.5,244.0 277.0,242.2 277.5,242.7 277.9,247.5 278.4,249.1 278.9,246.1 279.3,238.3 279.8,243.3 280.2,244.1 280.7,243.5 281.2,248.7 281.6,245.4 282.1,246.4 282.6,244.7 283.0,247.1 283.5,243.9 283.9,240.9 284.4,244.6 284.9,242.4 285.3,239.6 285.8,238.3 286.3,242.4 286.7,242.8 287.2,248.7 287.6,242.4 288.1,242.4 288.6,244.0 289.0,246.3 289.5,240.9 290.0,243.8 290.4,248.0 290.9,248.4 291.3,241.7 291.8,239.4 292.3,244.1 292.7,243.9 293.2,247.5 293.7,246.9 294.1,244.8 294.6,242.8 295.0,246.2 295.5,243.0 296.0,242.4 296.4,244.5 296.9,250.6 297.4,250.0 297.8,248.9 298.3,240.8 298.8,246.8 299.2,242.9 299.7,246.3 300.1,247.6 300.6,247.4 301.1,243.6 301.5,242.4 302.0,247.1 302.5,248.7 302.9,243.2 303.4,242.4 303.8,244.4 304.3,244.0 304.8,248.0 305.2,248.0 305.7,247.5 306.2,243.3 306.6,242.4 307.1,243.9 307.5,245.2 308.0,247.3 308.5,245.9 308.9,243.6 309.4,246.1 309.9,246.9 310.3,244.2 310.8,241.8 311.2,245.7 311.7,247.1 312.2,246.3 312.6,241.9 313.1,245.8 313.6,244.6 314.0,243.7 314.5,243.7 314.9,242.4 315.4,242.3 315.9,244.5 316.3,244.1 316.8,244.5 317.3,241.1 317.7,245.0 318.2,248.7 318.6,241.5 319.1,244.6 319.6,244.2 320.0,244.9 320.5,246.3 321.0,242.7 321.4,246.9 321.9,246.1 322.4,244.0 322.8,246.5 323.3,247.8 323.7,248.6 324.2,244.2 324.7,246.8 325.1,244.7 325.6,242.6 326.1,251.3 326.5,247.8 327.0,247.0 327.4,244.3 327.9,245.6 328.4,243.8 328.8,250.0 329.3,243.4 329.8,245.1 330.2,247.7 330.7,245.1 331.1,247.6 331.6,245.3 332.1,244.4 332.5,244.4 333.0,238.9 333.5,246.9 333.9,246.0 334.4,245.4 334.8,245.1 335.3,241.5 335.8,244.7 336.2,242.2 336.7,243.2 337.2,241.8 337.6,243.9 338.1,247.9 338.5,246.2 339.0,242.4 339.5,242.4 339.9,247.9 340.4,244.4 340.9,247.6 341.3,249.3 341.8,247.9 342.2,242.1 342.7,238.8 343.2,249.5 343.6,241.5 344.1,241.7 344.6,244.0 345.0,244.6 345.5,247.1 345.9,243.8 346.4,243.1 346.9,248.2 347.3,243.3 347.8,253.5 348.3,242.8 348.7,246.7 349.2,249.3 349.7,246.1 350.1,241.9 350.6,246.6 351.0,250.0 351.5,245.1 352.0,243.0 352.4,247.6 352.9,242.1 353.4,249.6 353.8,250.6 354.3,248.8 354.7,245.2 355.2,251.0 355.7,252.2 356.1,251.7 356.6,247.5 357.1,249.8 357.5,246.8 358.0,252.1 358.4,247.9 358.9,245.8 359.4,248.7 359.8,250.7 360.3,249.1 360.8,248.9 361.2,246.9 361.7,249.9 362.1,248.9 362.6,249.6 363.1,249.1 363.5,249.7 364.0,247.5 364.5,254.6 364.9,245.0 365.4,250.1 365.8,252.4 366.3,244.3 366.8,244.6 367.2,251.0 367.7,256.1 368.2,252.3 368.6,248.5 369.1,248.3 369.5,247.8 370.0,245.7 370.5,247.5 370.9,251.7 371.4,248.0 371.9,249.8 372.3,251.1 372.8,247.1 373.3,247.8 373.7,249.4 374.2,246.8 374.6,249.2 375.1,250.9 375.6,249.5 376.0,245.1 376.5,250.2 377.0,248.8 377.4,249.2 377.9,246.1 378.3,249.4 378.8,248.8 379.3,247.8 379.7,247.4 380.2,249.0 380.7,244.3 381.1,250.5 381.6,248.6 382.0,252.5 382.5,244.4 383.0,248.2 383.4,250.5 383.9,250.5 384.4,248.6 384.8,252.4 385.3,248.7 385.7,251.3 386.2,249.7 386.7,249.1 387.1,247.5 387.6,248.0 388.1,248.5 388.5,251.0 389.0,248.3 389.4,247.3 389.9,251.4 390.4,250.6 390.8,252.0 391.3,250.5 391.8,254.4 392.2,251.9 392.7,250.5 393.1,251.3 393.6,252.7 394.1,249.8 394.5,251.0 395.0,248.3 395.5,253.3 395.9,248.5 396.4,240.1 396.8,250.9 397.3,247.7 397.8,248.0 398.2,250.2 398.7,241.1 399.2,243.6 399.6,247.9 400.1,244.9 400.6,249.6 401.0,249.4 401.5,246.9 401.9,250.1 402.4,242.6 402.9,247.4 403.3,249.9 403.8,251.1 404.3,248.7 404.7,251.2 405.2,248.6 405.6,247.2 406.1,248.2 406.6,253.6 407.0,252.8 407.5,248.0 408.0,248.5 408.4,248.4 408.9,243.1 409.3,245.4 409.8,247.2 410.3,244.8 410.7,246.6 411.2,244.2 411.7,247.5 412.1,250.0 412.6,247.1 413.0,249.2 413.5,247.0 414.0,245.5 414.4,247.9 414.9,243.1 415.4,246.1 415.8,246.6 416.3,246.5 416.7,249.1 417.2,245.8 417.7,250.0 418.1,249.9 418.6,247.9 419.1,245.8 419.5,244.7 420.0,249.3 420.4,247.2 420.9,255.4 421.4,250.2 421.8,251.8 422.3,245.9 422.8,248.4 423.2,247.6 423.7,242.4 424.2,249.2 424.6,248.0 425.1,248.7 425.5,250.9 426.0,252.5 426.5,251.3 426.9,254.6 427.4,248.6 427.9,252.5 428.3,248.3 428.8,249.6 429.2,253.2 429.7,251.2 430.2,250.5 430.6,250.6 431.1,251.8 431.6,253.8 432.0,252.0 432.5,248.8 432.9,251.9 433.4,249.6 433.9,250.4 434.3,249.6 434.8,252.1 435.3,250.1 435.7,248.4 436.2,245.4 436.6,245.6 437.1,250.0 437.6,247.4 438.0,251.1 438.5,249.1 439.0,250.4 439.4,249.4 439.9,256.0 440.3,252.2 440.8,251.4 441.3,252.0 441.7,243.9 442.2,247.5 442.7,252.9 443.1,253.0 443.6,247.0 444.0,243.0 444.5,244.6 445.0,249.3 445.4,247.4 445.9,250.5 446.4,247.0 446.8,248.5 447.3,249.0 447.8,247.4 448.2,246.5 448.7,246.1 449.1,247.0 449.6,248.0 450.1,250.8 450.5,247.8 451.0,246.3 451.5,245.2 451.9,246.2 452.4,249.2 452.8,248.3 453.3,251.7 453.8,247.5 454.2,246.6 454.7,251.7 455.2,251.0 455.6,251.7 456.1,245.6 456.5,248.7 457.0,249.6 457.5,249.2 457.9,241.8 458.4,248.1 458.9,248.1 459.3,250.9 459.8,247.1 460.2,247.6 460.7,247.2 461.2,244.8 461.6,249.7 462.1,253.2 462.6,245.6 463.0,252.7 463.5,253.6 463.9,245.5 464.4,245.8 464.9,247.2 465.3,246.7 465.8,247.2 466.3,246.7 466.7,248.0 467.2,249.9 467.6,250.9 468.1,248.5 468.6,246.0 469.0,250.1 469.5,250.2 470.0,246.5 470.4,249.4 470.9,244.9 471.3,245.8 471.8,248.1 472.3,247.3 472.7,251.3 473.2,247.9 473.7,248.9 474.1,251.1 474.6,243.9 475.1,249.3 475.5,250.7 476.0,247.0 476.4,250.8 476.9,245.1 477.4,245.7 477.8,244.2 478.3,252.1 478.8,245.5 479.2,248.8 479.7,242.4 480.1,249.9 480.6,243.9 481.1,245.8 481.5,240.7 482.0,243.6 482.5,249.4 482.9,242.9 483.4,250.8 483.8,252.7 484.3,246.2 484.8,242.8 485.2,245.7 485.7,248.0 486.2,241.8 486.6,245.7 487.1,247.9 487.5,248.5 488.0,241.9 488.5,247.3 488.9,247.5 489.4,250.8 489.9,248.7 490.3,250.7 490.8,249.5 491.2,245.4 491.7,255.4 492.2,289.0 492.6,248.5 493.1,246.6 493.6,251.9 494.0,248.1 494.5,249.1 494.9,248.3 495.4,247.0 495.9,243.2 496.3,246.1 496.8,252.2 497.3,248.5 497.7,246.0 498.2,245.7 498.7,246.0 499.1,246.8 499.6,247.7 500.0,252.0 500.5,249.3 501.0,253.0 501.4,243.8 501.9,247.9 502.4,242.9 502.8,241.9 503.3,248.0 503.7,242.6 504.2,247.3 504.7,244.6 505.1,250.4 505.6,250.3 506.1,242.7 506.5,249.0 507.0,247.1 507.4,284.7 507.9,250.4 508.4,286.6 508.8,277.4 509.3,249.8 509.8,247.9 510.2,283.0 510.7,282.4 511.1,248.2 511.6,295.9 512.1,248.5 512.5,282.2 513.0,286.7 513.5,245.4 513.9,291.7 514.4,252.1 514.8,285.5 515.3,243.1 515.8,289.3 516.2,284.1 516.7,247.7 517.2,283.8 517.6,248.6 518.1,290.4 518.5,251.1 519.0,290.6 519.5,247.3 519.9,287.6 520.4,250.9 520.9,248.0 521.3,249.7 521.8,246.3 522.3,244.4 522.7,245.2 523.2,249.0 523.6,248.6 524.1,248.8 524.6,244.7 525.0,287.2 525.5,249.9 526.0,285.8 526.4,246.1 526.9,244.1 527.3,247.2 527.8,251.8 528.3,284.8 528.7,248.8 529.2,285.2 529.7,280.3 530.1,242.6 530.6,249.5 531.0,248.9 531.5,246.2 532.0,289.3 532.4,288.0 532.9,281.2 533.4,245.8 533.8,246.2 534.3,241.2 534.7,291.2 535.2,251.2 535.7,286.8 536.1,249.0 536.6,295.2 537.1,286.9 537.5,280.5 538.0,287.0 538.4,243.0 538.9,244.4 539.4,248.3 539.8,248.0 540.3,247.3 540.8,248.2 541.2,250.3 541.7,246.4 542.1,245.0 542.6,247.1 543.1,247.5 543.5,245.3 544.0,248.0 544.5,248.2 544.9,250.2 545.4,244.5 545.8,250.3 546.3,246.3 546.8,243.4 547.2,250.4 547.7,248.9 548.2,248.0 548.6,244.7 549.1,249.7 549.6,244.1 550.0,244.4 550.5,246.9 550.9,249.8 551.4,247.4 551.9,247.5 552.3,244.8 552.8,250.2 553.3,246.4 553.7,249.0 554.2,255.2 554.6,248.1 555.1,244.5 555.6,243.3 556.0,244.3 556.5,244.2 557.0,248.3 557.4,251.2 557.9,247.6 558.3,246.5 558.8,283.7 559.3,246.9 559.7,291.8 560.2,246.5 560.7,285.1 561.1,293.0 561.6,247.6 562.0,291.2 562.5,249.9 563.0,290.3 563.4,246.1 563.9,289.2 564.4,246.2 564.8,292.2 565.3,241.9 565.7,281.3 566.2,244.3 566.7,288.2 567.1,291.5 567.6,245.1 568.1,293.4 568.5,249.3 569.0,244.8 569.4,289.0 569.9,248.3 570.4,242.4 570.8,284.7 571.3,248.7 571.8,286.6 572.2,241.6 572.7,288.4 573.2,242.4 573.6,283.6 574.1,245.7 574.5,247.4 575.0,246.9 575.5,245.4 575.9,286.7 576.4,285.7 576.9,247.9 577.3,291.7 577.8,245.8 578.2,283.1 578.7,243.3 579.2,278.4 579.6,289.8 580.1,244.8 580.6,286.2 581.0,288.8 581.5,281.2 581.9,245.2 582.4,286.2 582.9,243.1 583.3,284.2 583.8,244.8 584.3,278.3 584.7,243.5 585.2,293.3 585.6,246.1 586.1,287.7 586.6,247.1 587.0,287.6 587.5,248.1 588.0,294.8 588.4,242.7 588.9,244.8 589.3,290.4 589.8,292.3 590.3,293.9 590.7,244.7 591.2,286.9 591.7,247.0 592.1,285.5 592.6,245.4 593.0,251.6 593.5,289.4 594.0,250.4 594.4,286.5 594.9,244.5 595.4,250.6 595.8,287.2 596.3,245.6 596.7,244.1 597.2,286.0 597.7,242.9 598.1,286.0 598.6,251.4 599.1,284.8 599.5,247.0 600.0,287.0 600.5,246.8 600.9,288.7 601.4,247.0 601.8,280.9 602.3,246.6 602.8,289.6 603.2,244.0 603.7,246.3 604.2,242.7 604.6,286.0 605.1,246.9 605.5,290.2 606.0,244.8 606.5,245.6 606.9,286.9 607.4,245.3 607.9,245.0 608.3,291.0 608.8,247.9 609.2,289.0 609.7,247.0 610.2,281.5 610.6,245.9 611.1,289.6 611.6,243.8 612.0,281.5 612.5,243.4 612.9,290.1 613.4,244.3 613.9,241.7 614.3,287.0 614.8,241.6 615.3,245.7 615.7,242.7 616.2,238.8 616.6,292.9 617.1,240.2 617.6,289.7 618.0,245.5 618.5,247.2 619.0,244.1 619.4,287.1 619.9,244.6 620.3,285.9 620.8,243.5 621.3,243.4 621.7,242.2 622.2,242.8 622.7,289.1 623.1,246.4 623.6,285.3 624.1,283.1 624.5,247.2 625.0,287.1 625.4,243.2 625.9,245.9 626.4,245.4 626.8,251.4 627.3,249.0 627.8,245.1 628.2,244.5 628.7,244.5 629.1,245.2 629.6,238.5 630.1,244.3 630.5,245.6 631.0,244.1 631.5,240.9 631.9,240.0 632.4,238.9 632.8,289.8 633.3,247.7 633.8,243.5 634.2,241.6 634.7,239.5 635.2,244.6 635.6,239.6 636.1,240.8 636.5,246.3 637.0,286.0 637.5,245.6 637.9,243.7 638.4,244.7 638.9,288.1 639.3,244.7 639.8,245.6 640.2,245.1 640.7,244.3 641.2,245.0 641.6,241.2 642.1,244.3 642.6,241.0 643.0,243.7 643.5,241.9 643.9,241.3 644.4,241.8 644.9,242.1 645.3,246.3 645.8,242.1 646.3,245.2 646.7,245.2 647.2,250.2 647.7,246.7 648.1,241.3 648.6,240.5 649.0,244.3 649.5,245.4 650.0,242.1 650.4,246.6 650.9,239.2 651.4,284.2 651.8,246.2 652.3,246.9 652.7,244.4 653.2,248.0 653.7,245.4 654.1,243.7 654.6,248.8 655.1,284.0 655.5,283.0 656.0,247.7 656.4,244.0 656.9,239.5 657.4,248.0 657.8,245.8 658.3,242.9 658.8,244.4 659.2,246.1 659.7,244.4 660.1,245.4 660.6,247.5 661.1,243.1 661.5,243.9 662.0,248.0 662.5,242.2 662.9,241.2 663.4,243.0 663.8,245.6 664.3,241.2 664.8,242.8 665.2,241.8 665.7,248.3 666.2,246.7 666.6,244.4 667.1,246.6 667.5,239.9 668.0,241.6 668.5,244.4 668.9,247.3 669.4,239.9 669.9,244.7 670.3,243.0 670.8,242.9 671.2,243.7 671.7,240.7 672.2,247.9 672.6,242.5 673.1,245.2 673.6,241.0 674.0,242.0 674.5,239.2 675.0,247.5 675.4,251.0 675.9,244.2 676.3,245.0 676.8,249.1 677.3,242.2 677.7,244.6 678.2,241.4 678.7,245.6 679.1,244.5 679.6,246.1 680.0,246.0 680.5,240.5 681.0,242.2 681.4,244.7 681.9,246.0 682.4,244.3 682.8,245.9 683.3,246.0 683.7,242.4 684.2,243.5 684.7,242.4 685.1,240.1 685.6,246.0 686.1,248.4 686.5,242.8 687.0,247.6 687.4,247.3 687.9,241.2 688.4,241.4 688.8,240.7 689.3,244.3 689.8,245.6 690.2,240.9 690.7,237.9 691.1,242.1 691.6,245.5 692.1,242.9 692.5,242.1 693.0,237.8 693.5,243.9 693.9,241.4 694.4,242.5 694.8,242.8 695.3,241.1 695.8,240.1 696.2,242.8 696.7,243.7 697.2,246.8 697.6,241.3 698.1,239.2 698.6,247.1 699.0,245.1 699.5,240.3 699.9,241.4 700.4,242.4 700.9,245.8 701.3,241.5 701.8,245.6 702.3,242.4 702.7,239.9 703.2,242.3 703.6,237.5 704.1,240.6 704.6,243.8 705.0,239.8 705.5,241.2 706.0,238.7 706.4,242.2 706.9,238.1 707.3,241.8 707.8,283.7 708.3,241.7 708.7,245.3 709.2,243.5 709.7,244.5 710.1,241.2 710.6,242.8 711.0,240.4 711.5,240.9 712.0,241.7 712.4,244.4 712.9,247.0 713.4,238.8 713.8,246.3 714.3,235.8 714.7,235.7 715.2,246.1 715.7,245.2 716.1,242.8 716.6,242.9 717.1,242.7 717.5,236.7 718.0,244.5 718.4,241.1 718.9,236.5 719.4,243.5 719.8,244.0 720.3,245.6 720.8,244.4 721.2,240.7 721.7,243.2 722.2,241.4 722.6,241.6 723.1,246.1 723.5,240.5 724.0,234.4 724.5,239.9 724.9,237.0 725.4,238.5 725.9,244.9 726.3,242.3 726.8,238.9 727.2,240.9 727.7,243.9 728.2,242.0 728.6,245.7 729.1,238.1 729.6,241.3 730.0,240.7 730.5,237.8 730.9,240.9 731.4,242.0 731.9,243.7 732.3,235.1 732.8,241.0 733.3,242.7 733.7,244.6 734.2,242.8 734.6,241.6 735.1,239.6 735.6,245.8 736.0,241.1 736.5,245.3 737.0,241.6 737.4,242.4 737.9,239.7 738.3,238.3 738.8,242.7 739.3,241.7 739.7,246.3 740.2,238.8 740.7,238.6 741.1,245.2 741.6,239.7 742.0,238.9 742.5,236.0 743.0,239.4 743.4,243.2 743.9,244.0 744.4,236.8 744.8,242.8 745.3,239.1 745.7,239.6 746.2,242.5 746.7,240.8 747.1,241.7 747.6,242.6 748.1,242.7 748.5,242.1 749.0,243.5 749.5,240.1 749.9,239.0 750.4,239.3 750.8,241.7 751.3,239.8 751.8,242.3 752.2,241.0 752.7,245.5 753.2,238.4 753.6,244.1 754.1,242.7 754.5,246.9 755.0,239.4 755.5,242.6 755.9,239.4 756.4,239.6 756.9,241.4 757.3,242.9 757.8,244.3 758.2,239.1 758.7,238.1 759.2,240.7 759.6,243.8 760.1,242.3 760.6,242.8 761.0,243.6 761.5,241.3 761.9,242.9 762.4,247.2 762.9,243.2 763.3,239.5 763.8,239.9 764.3,240.6 764.7,242.0 765.2,243.2 765.6,237.2 766.1,239.4 766.6,240.2 767.0,238.4 767.5,235.6 768.0,237.6 768.4,243.8 768.9,237.5 769.3,244.7 769.8,240.1 770.3,240.3 770.7,245.0 771.2,245.3 771.7,237.0 772.1,243.2 772.6,242.7 773.1,238.9 773.5,239.5 774.0,237.6 774.4,244.6 774.9,247.4 775.4,236.5 775.8,238.0 776.3,239.7 776.8,237.5 777.2,243.1 777.7,240.5 778.1,239.1 778.6,235.3 779.1,235.3 779.5,239.5 780.0,234.6 780.5,241.9 780.9,238.4 781.4,242.3 781.8,240.8 782.3,241.8 782.8,241.2 783.2,237.9 783.7,238.1 784.2,239.0 784.6,240.3 785.1,242.3 785.5,239.4 786.0,243.7 786.5,238.8 786.9,236.8 787.4,237.7 787.9,237.6 788.3,244.0 788.8,242.4 789.2,241.0 789.7,240.1 790.2,241.1 790.6,236.4 791.1,246.3 791.6,241.0 792.0,242.4 792.5,242.9 792.9,239.5 793.4,239.2 793.9,206.8 794.3,239.6 794.8,239.3 795.3,234.6 795.7,240.6 796.2,236.8 796.6,239.7 797.1,246.1 797.6,244.1 798.0,235.4 798.5,239.8 799.0,240.3 799.4,243.6 799.9,244.4 800.4,238.8 800.8,237.1 801.3,239.5 801.7,239.9 802.2,233.7 802.7,239.7 803.1,237.4 803.6,243.0 804.1,239.8 804.5,238.7 805.0,240.2 805.4,237.7 805.9,238.8 806.4,239.8 806.8,234.2 807.3,241.1 807.8,241.6 808.2,240.8 808.7,241.3 809.1,234.9 809.6,239.1 810.1,238.2 810.5,237.9 811.0,235.4 811.5,236.3 811.9,238.4 812.4,236.0 812.8,237.7 813.3,235.2 813.8,239.8 814.2,244.5 814.7,240.0 815.2,238.3 815.6,234.5 816.1,236.2 816.5,240.1 817.0,238.6 817.5,237.7 817.9,233.2 818.4,235.4 818.9,239.6 819.3,236.3 819.8,240.9 820.2,238.8 820.7,236.0 821.2,243.8 821.6,231.5 822.1,237.1 822.6,234.3 823.0,237.5 823.5,240.2 824.0,242.2 824.4,239.7 824.9,237.8 825.3,238.5 825.8,234.7 826.3,237.4 826.7,240.3 827.2,239.2 827.7,240.3 828.1,237.6 828.6,240.4 829.0,237.9 829.5,235.4 830.0,233.6 830.4,231.2 830.9,234.9 831.4,235.8 831.8,237.4 832.3,235.1 832.7,234.0 833.2,237.8 833.7,238.2 834.1,238.6 834.6,238.2 835.1,235.5 835.5,238.6 836.0,239.0 836.4,240.0 836.9,236.6 837.4,234.1 837.8,239.8 838.3,239.3 838.8,236.3 839.2,231.0 839.7,234.8 840.1,239.8 840.6,235.7 841.1,236.3 841.5,240.5 842.0,237.9 842.5,238.1 842.9,236.2 843.4,239.1 843.8,238.5 844.3,239.8 844.8,232.8 845.2,241.4 845.7,242.8 846.2,239.2 846.6,236.7 847.1,240.7 847.6,240.6 848.0,235.3 848.5,237.3 848.9,238.1 849.4,235.1 849.9,237.5 850.3,240.6 850.8,244.0 851.3,233.6 851.7,240.1 852.2,234.5 852.6,236.6 853.1,240.2 853.6,235.7 854.0,239.6 854.5,237.1 855.0,240.3 855.4,234.8 855.9,243.9 856.3,235.9 856.8,236.5 857.3,235.1 857.7,241.7 858.2,239.1 858.7,237.9 859.1,241.6 859.6,234.2 860.0,234.8 860.5,238.0 861.0,235.3 861.4,236.3 861.9,236.9 862.4,236.2 862.8,238.2 863.3,234.2 863.7,240.2 864.2,236.8 864.7,234.7 865.1,235.0 865.6,237.3 866.1,236.5 866.5,238.3 867.0,240.9 867.4,236.9 867.9,232.7 868.4,237.9 868.8,237.7 869.3,237.4 869.8,236.2 870.2,231.9 870.7,235.4 871.1,236.6 871.6,235.5 872.1,239.6 872.5,239.8 873.0,229.7 873.5,239.7 873.9,230.9 874.4,232.9 874.9,241.7 875.3,238.3 875.8,236.3 876.2,230.5 876.7,233.8 877.2,234.9 877.6,231.0 878.1,234.6 878.6,229.7 879.0,237.2 879.5,233.2 879.9,231.3 880.4,237.5 880.9,235.6 881.3,237.5 881.8,229.4 882.3,231.3 882.7,232.9 883.2,228.9 883.6,234.0 884.1,233.9 884.6,233.2 885.0,233.4 885.5,229.5 886.0,235.3 886.4,237.6 886.9,230.1 887.3,230.4 887.8,233.3 888.3,229.8 888.7,230.7 889.2,231.8 889.7,229.7 890.1,228.9 890.6,236.2 891.0,231.2 891.5,236.3 892.0,232.3 892.4,236.7 892.9,233.9 893.4,231.2 893.8,236.7 894.3,234.8 894.7,233.4 895.2,241.2 895.7,240.0 896.1,232.0 896.6,235.1 897.1,234.5 897.5,233.3 898.0,236.6 898.5,237.5 898.9,238.0 899.4,231.7 899.8,236.2 900.3,238.4 900.8,229.9 901.2,234.9 901.7,233.8 902.2,237.8 902.6,231.7 903.1,235.2 903.5,235.0 904.0,233.2 904.5,235.1 904.9,230.7 905.4,231.7 905.9,232.6 906.3,237.5 906.8,239.1 907.2,235.1 907.7,234.6 908.2,231.9 908.6,231.7 909.1,235.9 909.6,238.2 910.0,234.1 910.5,233.8 910.9,233.8 911.4,237.6 911.9,239.0 912.3,235.3 912.8,234.0 913.3,236.0 913.7,233.9 914.2,235.4 914.6,238.7 915.1,236.8 915.6,231.0 916.0,240.2 916.5,242.9 917.0,231.5 917.4,234.1 917.9,237.0 918.3,238.4 918.8,230.0 919.3,239.4 919.7,237.7 920.2,236.2 920.7,234.1 921.1,229.2 921.6,234.8 922.1,232.1 922.5,234.7 923.0,232.4 923.4,230.5 923.9,239.5 924.4,241.0 924.8,229.3 925.3,234.0 925.8,230.7 926.2,235.5 926.7,230.8 927.1,234.2 927.6,232.1 928.1,235.7 928.5,229.5 929.0,236.2 929.5,235.3 929.9,236.0 930.4,234.4 930.8,237.9 931.3,237.5 931.8,232.4 932.2,234.5 932.7,231.9 933.2,232.7 933.6,238.9 934.1,231.3 934.5,236.3 935.0,238.6 935.5,235.8 935.9,237.0 936.4,231.2 936.9,232.8 937.3,231.8 937.8,237.9 938.2,233.7 938.7,232.0 939.2,233.8 939.6,237.0 940.1,230.5 940.6,236.4 941.0,234.7 941.5,234.2 941.9,235.9 942.4,233.0 942.9,231.8 943.3,230.5 943.8,235.8 944.3,230.6 944.7,232.6 945.2,232.2 945.6,236.7 946.1,227.1 946.6,232.9 947.0,233.8 947.5,234.1 948.0,232.9 948.4,235.3 948.9,232.5 949.4,232.1 949.8,234.0 950.3,234.5 950.7,234.4 951.2,234.9 951.7,237.3 952.1,238.0 952.6,231.2 953.1,232.3 953.5,240.5 954.0,233.5 954.4,229.1 954.9,234.1 955.4,235.4 955.8,237.3 956.3,235.4 956.8,236.2 957.2,235.1 957.7,237.6 958.1,230.2 958.6,234.1 959.1,234.8 959.5,234.4 960.0,237.2 960.5,231.0 960.9,237.9 961.4,236.3 961.8,231.1 962.3,233.7 962.8,234.1 963.2,228.5 963.7,234.4 964.2,233.0 964.6,232.8 965.1,229.1 965.5,234.8 966.0,237.3 966.5,237.3 966.9,236.9 967.4,234.8 967.9,236.1 968.3,229.8 968.8,232.0 969.2,232.9 969.7,233.2 970.2,231.5 970.6,232.5 971.1,235.3 971.6,229.8 972.0,234.8 972.5,233.1 973.0,234.3 973.4,233.6 973.9,234.0 974.3,232.2 974.8,236.1 975.3,236.3 975.7,234.9 976.2,230.7 976.7,232.1 977.1,233.9 977.6,239.0 978.0,235.3 978.5,234.8 979.0,236.2 979.4,229.1 979.9,234.4 980.4,225.8 980.8,232.4 981.3,234.2 981.7,229.5 982.2,227.4 982.7,230.2 983.1,235.1 983.6,235.1 984.1,235.1 984.5,234.1 985.0,237.6 985.4,235.9 985.9,232.9 986.4,234.7 986.8,239.6 987.3,233.3 987.8,231.5 988.2,231.3 988.7,229.9 989.1,231.7 989.6,238.9 990.1,236.9 990.5,236.2 991.0,236.9 991.5,232.8 991.9,233.4 992.4,234.7 992.8,237.7 993.3,232.4 993.8,229.8 994.2,231.1 994.7,237.7 995.2,233.7 995.6,230.4 996.1,234.0 996.5,235.3 997.0,231.6 997.5,231.7 997.9,230.8 998.4,229.4 998.9,232.0 999.3,234.4 999.8,234.2 1000.3,232.4 1000.7,229.1 1001.2,233.0 1001.6,235.4 1002.1,235.5 1002.6,231.7 1003.0,230.7 1003.5,235.6 1004.0,233.2 1004.4,237.1 1004.9,235.9 1005.3,236.7 1005.8,234.2 1006.3,230.7 1006.7,235.2 1007.2,233.5 1007.7,235.7 1008.1,233.5 1008.6,235.9 1009.0,232.6 1009.5,234.5 1010.0,236.7 1010.4,237.9 1010.9,231.3 1011.4,235.6 1011.8,236.2 1012.3,236.3 1012.7,236.1 1013.2,236.7 1013.7,235.1 1014.1,237.3 1014.6,239.9 1015.1,232.0 1015.5,240.2 1016.0,232.4 1016.4,235.4 1016.9,234.3 1017.4,238.4 1017.8,236.0 1018.3,238.3 1018.8,231.6 1019.2,236.8 1019.7,239.1 1020.1,236.6 1020.6,233.7 1021.1,236.6 1021.5,240.4 1022.0,238.7"/>
<rect x="98.5" y="453" width="926.5" height="8" fill="#dcdeea"/>
<path d="M98.5 453.5H1025" stroke="#c9cbd6" stroke-width="1"/>
<rect x="98.5" y="453" width="1.8" height="7" fill="#85858a"/><rect x="100.3" y="454" width="3.5" height="6" fill="#e3e4ec"/>
<rect x="1024" y="453" width="1.6" height="7" fill="#a4a4a8"/>
<rect x="0" y="460" width="1080" height="5" fill="#f2f3f5"/>
</svg>
</body>
</html>
